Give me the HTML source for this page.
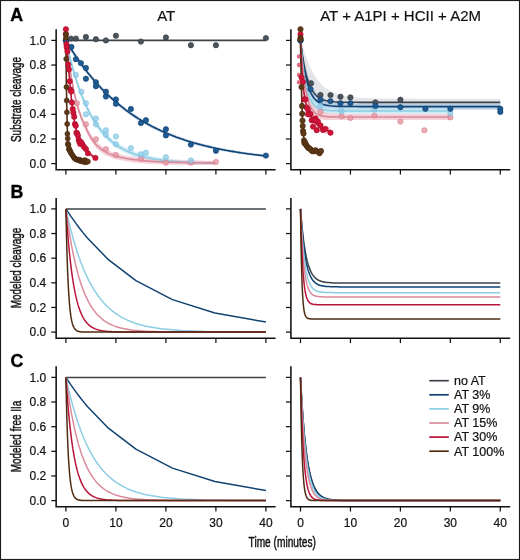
<!DOCTYPE html><html><head><meta charset="utf-8"><style>html,body{margin:0;padding:0;background:#fff;overflow:hidden}svg{display:block;-webkit-font-smoothing:antialiased;will-change:transform}</style></head><body><svg width="520" height="560" viewBox="0 0 520 560">
<style>.tk{font-family:"Liberation Sans",sans-serif;font-size:12px;fill:#111;stroke:#111;stroke-width:0.2}.ttl{font-family:"Liberation Sans",sans-serif;font-size:15px;fill:#111;stroke:#111;stroke-width:0.2}.pl{font-family:"Liberation Sans",sans-serif;font-size:17.8px;font-weight:bold;fill:#000;stroke:#000;stroke-width:0.35}.yl{font-family:"Liberation Sans",sans-serif;font-size:14px;fill:#111;stroke:#111;stroke-width:0.45}.lg{font-family:"Liberation Sans",sans-serif;font-size:12.5px;fill:#111;stroke:#111;stroke-width:0.2}</style>
<rect x="0" y="0" width="520" height="560" fill="#fff"/>
<path d="M56.15,29.3 L56.15,169.65 L275.6,169.65" fill="none" stroke="#111" stroke-width="1.55" stroke-linecap="butt" stroke-linejoin="miter"/>
<line x1="51.25" y1="163.60" x2="56.15" y2="163.60" stroke="#111" stroke-width="1.25"/>
<text x="46.2" y="167.70" text-anchor="end" class="tk">0.0</text>
<line x1="51.25" y1="138.96" x2="56.15" y2="138.96" stroke="#111" stroke-width="1.25"/>
<text x="46.2" y="143.06" text-anchor="end" class="tk">0.2</text>
<line x1="51.25" y1="114.32" x2="56.15" y2="114.32" stroke="#111" stroke-width="1.25"/>
<text x="46.2" y="118.42" text-anchor="end" class="tk">0.4</text>
<line x1="51.25" y1="89.68" x2="56.15" y2="89.68" stroke="#111" stroke-width="1.25"/>
<text x="46.2" y="93.78" text-anchor="end" class="tk">0.6</text>
<line x1="51.25" y1="65.04" x2="56.15" y2="65.04" stroke="#111" stroke-width="1.25"/>
<text x="46.2" y="69.14" text-anchor="end" class="tk">0.8</text>
<line x1="51.25" y1="40.40" x2="56.15" y2="40.40" stroke="#111" stroke-width="1.25"/>
<text x="46.2" y="44.50" text-anchor="end" class="tk">1.0</text>
<line x1="65.90" y1="169.65" x2="65.90" y2="174.55" stroke="#111" stroke-width="1.25"/>
<line x1="115.90" y1="169.65" x2="115.90" y2="174.55" stroke="#111" stroke-width="1.25"/>
<line x1="165.90" y1="169.65" x2="165.90" y2="174.55" stroke="#111" stroke-width="1.25"/>
<line x1="215.90" y1="169.65" x2="215.90" y2="174.55" stroke="#111" stroke-width="1.25"/>
<line x1="265.90" y1="169.65" x2="265.90" y2="174.55" stroke="#111" stroke-width="1.25"/>
<path d="M290.9,29.3 L290.9,169.65 L510.2,169.65" fill="none" stroke="#111" stroke-width="1.55" stroke-linecap="butt" stroke-linejoin="miter"/>
<line x1="286.0" y1="163.60" x2="290.9" y2="163.60" stroke="#111" stroke-width="1.25"/>
<line x1="286.0" y1="138.96" x2="290.9" y2="138.96" stroke="#111" stroke-width="1.25"/>
<line x1="286.0" y1="114.32" x2="290.9" y2="114.32" stroke="#111" stroke-width="1.25"/>
<line x1="286.0" y1="89.68" x2="290.9" y2="89.68" stroke="#111" stroke-width="1.25"/>
<line x1="286.0" y1="65.04" x2="290.9" y2="65.04" stroke="#111" stroke-width="1.25"/>
<line x1="286.0" y1="40.40" x2="290.9" y2="40.40" stroke="#111" stroke-width="1.25"/>
<line x1="300.50" y1="169.65" x2="300.50" y2="174.55" stroke="#111" stroke-width="1.25"/>
<line x1="350.45" y1="169.65" x2="350.45" y2="174.55" stroke="#111" stroke-width="1.25"/>
<line x1="400.40" y1="169.65" x2="400.40" y2="174.55" stroke="#111" stroke-width="1.25"/>
<line x1="450.35" y1="169.65" x2="450.35" y2="174.55" stroke="#111" stroke-width="1.25"/>
<line x1="500.30" y1="169.65" x2="500.30" y2="174.55" stroke="#111" stroke-width="1.25"/>
<path d="M56.15,198.0 L56.15,338.15 L275.6,338.15" fill="none" stroke="#111" stroke-width="1.55" stroke-linecap="butt" stroke-linejoin="miter"/>
<line x1="51.25" y1="332.10" x2="56.15" y2="332.10" stroke="#111" stroke-width="1.25"/>
<text x="46.2" y="336.20" text-anchor="end" class="tk">0.0</text>
<line x1="51.25" y1="307.46" x2="56.15" y2="307.46" stroke="#111" stroke-width="1.25"/>
<text x="46.2" y="311.56" text-anchor="end" class="tk">0.2</text>
<line x1="51.25" y1="282.82" x2="56.15" y2="282.82" stroke="#111" stroke-width="1.25"/>
<text x="46.2" y="286.92" text-anchor="end" class="tk">0.4</text>
<line x1="51.25" y1="258.18" x2="56.15" y2="258.18" stroke="#111" stroke-width="1.25"/>
<text x="46.2" y="262.28" text-anchor="end" class="tk">0.6</text>
<line x1="51.25" y1="233.54" x2="56.15" y2="233.54" stroke="#111" stroke-width="1.25"/>
<text x="46.2" y="237.64" text-anchor="end" class="tk">0.8</text>
<line x1="51.25" y1="208.90" x2="56.15" y2="208.90" stroke="#111" stroke-width="1.25"/>
<text x="46.2" y="213.00" text-anchor="end" class="tk">1.0</text>
<line x1="65.90" y1="338.15" x2="65.90" y2="343.04999999999995" stroke="#111" stroke-width="1.25"/>
<line x1="115.90" y1="338.15" x2="115.90" y2="343.04999999999995" stroke="#111" stroke-width="1.25"/>
<line x1="165.90" y1="338.15" x2="165.90" y2="343.04999999999995" stroke="#111" stroke-width="1.25"/>
<line x1="215.90" y1="338.15" x2="215.90" y2="343.04999999999995" stroke="#111" stroke-width="1.25"/>
<line x1="265.90" y1="338.15" x2="265.90" y2="343.04999999999995" stroke="#111" stroke-width="1.25"/>
<path d="M290.9,198.0 L290.9,338.15 L510.2,338.15" fill="none" stroke="#111" stroke-width="1.55" stroke-linecap="butt" stroke-linejoin="miter"/>
<line x1="286.0" y1="332.10" x2="290.9" y2="332.10" stroke="#111" stroke-width="1.25"/>
<line x1="286.0" y1="307.46" x2="290.9" y2="307.46" stroke="#111" stroke-width="1.25"/>
<line x1="286.0" y1="282.82" x2="290.9" y2="282.82" stroke="#111" stroke-width="1.25"/>
<line x1="286.0" y1="258.18" x2="290.9" y2="258.18" stroke="#111" stroke-width="1.25"/>
<line x1="286.0" y1="233.54" x2="290.9" y2="233.54" stroke="#111" stroke-width="1.25"/>
<line x1="286.0" y1="208.90" x2="290.9" y2="208.90" stroke="#111" stroke-width="1.25"/>
<line x1="300.50" y1="338.15" x2="300.50" y2="343.04999999999995" stroke="#111" stroke-width="1.25"/>
<line x1="350.45" y1="338.15" x2="350.45" y2="343.04999999999995" stroke="#111" stroke-width="1.25"/>
<line x1="400.40" y1="338.15" x2="400.40" y2="343.04999999999995" stroke="#111" stroke-width="1.25"/>
<line x1="450.35" y1="338.15" x2="450.35" y2="343.04999999999995" stroke="#111" stroke-width="1.25"/>
<line x1="500.30" y1="338.15" x2="500.30" y2="343.04999999999995" stroke="#111" stroke-width="1.25"/>
<path d="M56.15,366.15 L56.15,506.65 L275.6,506.65" fill="none" stroke="#111" stroke-width="1.55" stroke-linecap="butt" stroke-linejoin="miter"/>
<line x1="51.25" y1="500.60" x2="56.15" y2="500.60" stroke="#111" stroke-width="1.25"/>
<text x="46.2" y="504.70" text-anchor="end" class="tk">0.0</text>
<line x1="51.25" y1="475.96" x2="56.15" y2="475.96" stroke="#111" stroke-width="1.25"/>
<text x="46.2" y="480.06" text-anchor="end" class="tk">0.2</text>
<line x1="51.25" y1="451.32" x2="56.15" y2="451.32" stroke="#111" stroke-width="1.25"/>
<text x="46.2" y="455.42" text-anchor="end" class="tk">0.4</text>
<line x1="51.25" y1="426.68" x2="56.15" y2="426.68" stroke="#111" stroke-width="1.25"/>
<text x="46.2" y="430.78" text-anchor="end" class="tk">0.6</text>
<line x1="51.25" y1="402.04" x2="56.15" y2="402.04" stroke="#111" stroke-width="1.25"/>
<text x="46.2" y="406.14" text-anchor="end" class="tk">0.8</text>
<line x1="51.25" y1="377.40" x2="56.15" y2="377.40" stroke="#111" stroke-width="1.25"/>
<text x="46.2" y="381.50" text-anchor="end" class="tk">1.0</text>
<line x1="65.90" y1="506.65" x2="65.90" y2="511.54999999999995" stroke="#111" stroke-width="1.25"/>
<text x="65.90" y="526.6" text-anchor="middle" class="tk">0</text>
<line x1="115.90" y1="506.65" x2="115.90" y2="511.54999999999995" stroke="#111" stroke-width="1.25"/>
<text x="115.90" y="526.6" text-anchor="middle" class="tk">10</text>
<line x1="165.90" y1="506.65" x2="165.90" y2="511.54999999999995" stroke="#111" stroke-width="1.25"/>
<text x="165.90" y="526.6" text-anchor="middle" class="tk">20</text>
<line x1="215.90" y1="506.65" x2="215.90" y2="511.54999999999995" stroke="#111" stroke-width="1.25"/>
<text x="215.90" y="526.6" text-anchor="middle" class="tk">30</text>
<line x1="265.90" y1="506.65" x2="265.90" y2="511.54999999999995" stroke="#111" stroke-width="1.25"/>
<text x="265.90" y="526.6" text-anchor="middle" class="tk">40</text>
<path d="M290.9,366.15 L290.9,506.65 L510.2,506.65" fill="none" stroke="#111" stroke-width="1.55" stroke-linecap="butt" stroke-linejoin="miter"/>
<line x1="286.0" y1="500.60" x2="290.9" y2="500.60" stroke="#111" stroke-width="1.25"/>
<line x1="286.0" y1="475.96" x2="290.9" y2="475.96" stroke="#111" stroke-width="1.25"/>
<line x1="286.0" y1="451.32" x2="290.9" y2="451.32" stroke="#111" stroke-width="1.25"/>
<line x1="286.0" y1="426.68" x2="290.9" y2="426.68" stroke="#111" stroke-width="1.25"/>
<line x1="286.0" y1="402.04" x2="290.9" y2="402.04" stroke="#111" stroke-width="1.25"/>
<line x1="286.0" y1="377.40" x2="290.9" y2="377.40" stroke="#111" stroke-width="1.25"/>
<line x1="300.50" y1="506.65" x2="300.50" y2="511.54999999999995" stroke="#111" stroke-width="1.25"/>
<text x="300.50" y="526.6" text-anchor="middle" class="tk">0</text>
<line x1="350.45" y1="506.65" x2="350.45" y2="511.54999999999995" stroke="#111" stroke-width="1.25"/>
<text x="350.45" y="526.6" text-anchor="middle" class="tk">10</text>
<line x1="400.40" y1="506.65" x2="400.40" y2="511.54999999999995" stroke="#111" stroke-width="1.25"/>
<text x="400.40" y="526.6" text-anchor="middle" class="tk">20</text>
<line x1="450.35" y1="506.65" x2="450.35" y2="511.54999999999995" stroke="#111" stroke-width="1.25"/>
<text x="450.35" y="526.6" text-anchor="middle" class="tk">30</text>
<line x1="500.30" y1="506.65" x2="500.30" y2="511.54999999999995" stroke="#111" stroke-width="1.25"/>
<text x="500.30" y="526.6" text-anchor="middle" class="tk">40</text>
<path d="M65.9,37.7 L67.6,40.5 L69.2,43.3 L70.9,46.0 L72.6,48.7 L74.2,51.3 L75.9,53.8 L77.6,56.3 L79.2,58.7 L80.9,61.1 L82.6,63.4 L84.2,65.7 L85.9,67.9 L87.6,70.0 L89.2,72.2 L90.9,74.2 L92.6,76.2 L94.2,78.2 L95.9,80.1 L97.6,82.0 L99.2,83.8 L100.9,85.6 L102.6,87.4 L104.2,89.1 L105.9,90.8 L107.6,92.4 L109.2,94.0 L110.9,95.6 L112.6,97.1 L114.2,98.6 L115.9,100.0 L117.6,101.5 L119.2,102.9 L120.9,104.2 L122.6,105.5 L124.2,106.8 L125.9,108.1 L127.6,109.4 L129.2,110.6 L130.9,111.8 L132.6,112.9 L134.2,114.0 L135.9,115.1 L137.6,116.2 L139.2,117.3 L140.9,118.3 L142.6,119.3 L144.2,120.3 L145.9,121.3 L147.6,122.2 L149.2,123.1 L150.9,124.0 L152.6,124.9 L154.2,125.8 L155.9,126.6 L157.6,127.4 L159.2,128.2 L160.9,129.0 L162.6,129.8 L164.2,130.5 L165.9,131.2 L167.6,131.9 L169.2,132.6 L170.9,133.3 L172.6,134.0 L174.2,134.6 L175.9,135.3 L177.6,135.9 L179.2,136.5 L180.9,137.1 L182.6,137.7 L184.2,138.2 L185.9,138.8 L187.6,139.3 L189.2,139.9 L190.9,140.4 L192.6,140.9 L194.2,141.4 L195.9,141.8 L197.6,142.3 L199.2,142.8 L200.9,143.2 L202.6,143.7 L204.2,144.1 L205.9,144.5 L207.6,144.9 L209.2,145.3 L210.9,145.7 L212.6,146.1 L214.2,146.5 L215.9,146.8 L217.6,147.2 L219.2,147.5 L220.9,147.9 L222.6,148.2 L224.2,148.5 L225.9,148.9 L227.6,149.2 L229.2,149.5 L230.9,149.8 L232.6,150.1 L234.2,150.3 L235.9,150.6 L237.6,150.9 L239.2,151.2 L240.9,151.4 L242.6,151.7 L244.2,151.9 L245.9,152.2 L247.6,152.4 L249.2,152.6 L250.9,152.8 L252.6,153.1 L254.2,153.3 L255.9,153.5 L257.6,153.7 L259.2,153.9 L260.9,154.1 L262.6,154.3 L264.2,154.5 L265.9,154.7 L265.9,157.3 L264.2,157.1 L262.6,156.9 L260.9,156.7 L259.2,156.5 L257.6,156.3 L255.9,156.1 L254.2,155.9 L252.6,155.7 L250.9,155.5 L249.2,155.3 L247.6,155.1 L245.9,154.9 L244.2,154.6 L242.6,154.4 L240.9,154.1 L239.2,153.9 L237.6,153.6 L235.9,153.4 L234.2,153.1 L232.6,152.8 L230.9,152.6 L229.2,152.3 L227.6,152.0 L225.9,151.7 L224.2,151.4 L222.6,151.1 L220.9,150.7 L219.2,150.4 L217.6,150.1 L215.9,149.7 L214.2,149.4 L212.6,149.0 L210.9,148.6 L209.2,148.3 L207.6,147.9 L205.9,147.5 L204.2,147.1 L202.6,146.7 L200.9,146.2 L199.2,145.8 L197.6,145.4 L195.9,144.9 L194.2,144.4 L192.6,144.0 L190.9,143.5 L189.2,143.0 L187.6,142.5 L185.9,141.9 L184.2,141.4 L182.6,140.9 L180.9,140.3 L179.2,139.7 L177.6,139.1 L175.9,138.5 L174.2,137.9 L172.6,137.3 L170.9,136.6 L169.2,136.0 L167.6,135.3 L165.9,134.6 L164.2,133.9 L162.6,133.2 L160.9,132.4 L159.2,131.7 L157.6,130.9 L155.9,130.1 L154.2,129.3 L152.6,128.4 L150.9,127.6 L149.2,126.7 L147.6,125.8 L145.9,124.9 L144.2,124.0 L142.6,123.0 L140.9,122.0 L139.2,121.0 L137.6,120.0 L135.9,118.9 L134.2,117.9 L132.6,116.7 L130.9,115.6 L129.2,114.5 L127.6,113.3 L125.9,112.1 L124.2,110.8 L122.6,109.6 L120.9,108.3 L119.2,106.9 L117.6,105.6 L115.9,104.2 L114.2,102.8 L112.6,101.3 L110.9,99.8 L109.2,98.3 L107.6,96.7 L105.9,95.1 L104.2,93.5 L102.6,91.8 L100.9,90.1 L99.2,88.3 L97.6,86.5 L95.9,84.7 L94.2,82.8 L92.6,80.9 L90.9,78.9 L89.2,76.9 L87.6,74.8 L85.9,72.7 L84.2,70.6 L82.6,68.3 L80.9,66.1 L79.2,63.7 L77.6,61.4 L75.9,58.9 L74.2,56.5 L72.6,53.9 L70.9,51.3 L69.2,48.6 L67.6,45.9 L65.9,43.1Z" fill="#a9c6e3" fill-opacity="0.75" stroke="none"/>
<path d="M65.9,36.7 L67.2,42.4 L68.4,47.8 L69.7,52.9 L70.9,57.8 L72.2,62.5 L73.4,67.0 L74.7,71.3 L75.9,75.4 L77.2,79.3 L78.4,83.0 L79.7,86.5 L80.9,89.9 L82.2,93.1 L83.4,96.2 L84.7,99.2 L85.9,102.0 L87.2,104.7 L88.4,107.2 L89.7,109.7 L90.9,112.0 L92.2,114.3 L93.4,116.4 L94.7,118.4 L95.9,120.4 L97.2,122.2 L98.4,124.0 L99.7,125.7 L100.9,127.3 L102.2,128.8 L103.4,130.3 L104.7,131.7 L105.9,133.0 L107.2,134.3 L108.4,135.5 L109.7,136.7 L110.9,137.8 L112.2,138.9 L113.4,139.9 L114.7,140.9 L115.9,141.8 L117.2,142.7 L118.4,143.5 L119.7,144.3 L120.9,145.1 L122.2,145.8 L123.4,146.5 L124.7,147.2 L125.9,147.8 L127.2,148.5 L128.4,149.0 L129.7,149.6 L130.9,150.1 L132.2,150.6 L133.4,151.1 L134.7,151.6 L135.9,152.0 L137.2,152.5 L138.4,152.9 L139.7,153.2 L140.9,153.6 L142.2,154.0 L143.4,154.3 L144.7,154.6 L145.9,154.9 L147.2,155.2 L148.4,155.5 L149.7,155.8 L150.9,156.0 L152.2,156.3 L153.4,156.5 L154.7,156.8 L155.9,157.0 L157.2,157.2 L158.4,157.4 L159.7,157.6 L160.9,157.7 L162.2,157.9 L163.4,158.1 L164.7,158.2 L165.9,158.4 L167.2,158.5 L168.4,158.7 L169.7,158.8 L170.9,158.9 L172.2,159.0 L173.4,159.2 L174.7,159.3 L175.9,159.4 L177.2,159.5 L178.4,159.6 L179.7,159.7 L180.9,159.7 L182.2,159.8 L183.4,159.9 L184.7,160.0 L185.9,160.1 L187.2,160.1 L188.4,160.2 L189.7,160.3 L190.9,160.3 L192.2,160.4 L193.4,160.5 L194.7,160.5 L195.9,160.6 L197.2,160.6 L198.4,160.7 L199.7,160.7 L200.9,160.8 L202.2,160.8 L203.4,160.8 L204.7,160.9 L205.9,160.9 L207.2,161.0 L208.4,161.0 L209.7,161.0 L210.9,161.1 L212.2,161.1 L213.4,161.1 L214.7,161.1 L215.9,161.2 L215.9,165.1 L214.7,165.1 L213.4,165.1 L212.2,165.1 L210.9,165.1 L209.7,165.0 L208.4,165.0 L207.2,165.0 L205.9,165.0 L204.7,164.9 L203.4,164.9 L202.2,164.9 L200.9,164.9 L199.7,164.8 L198.4,164.8 L197.2,164.8 L195.9,164.7 L194.7,164.7 L193.4,164.7 L192.2,164.6 L190.9,164.6 L189.7,164.5 L188.4,164.5 L187.2,164.4 L185.9,164.4 L184.7,164.3 L183.4,164.2 L182.2,164.2 L180.9,164.1 L179.7,164.0 L178.4,164.0 L177.2,163.9 L175.9,163.8 L174.7,163.7 L173.4,163.6 L172.2,163.5 L170.9,163.4 L169.7,163.3 L168.4,163.2 L167.2,163.1 L165.9,163.0 L164.7,162.8 L163.4,162.7 L162.2,162.6 L160.9,162.4 L159.7,162.2 L158.4,162.1 L157.2,161.9 L155.9,161.7 L154.7,161.5 L153.4,161.3 L152.2,161.1 L150.9,160.9 L149.7,160.7 L148.4,160.4 L147.2,160.2 L145.9,159.9 L144.7,159.6 L143.4,159.3 L142.2,159.0 L140.9,158.7 L139.7,158.3 L138.4,158.0 L137.2,157.6 L135.9,157.2 L134.7,156.8 L133.4,156.3 L132.2,155.9 L130.9,155.4 L129.7,154.9 L128.4,154.4 L127.2,153.8 L125.9,153.2 L124.7,152.6 L123.4,152.0 L122.2,151.3 L120.9,150.6 L119.7,149.9 L118.4,149.1 L117.2,148.3 L115.9,147.4 L114.7,146.5 L113.4,145.6 L112.2,144.6 L110.9,143.6 L109.7,142.5 L108.4,141.4 L107.2,140.2 L105.9,139.0 L104.7,137.7 L103.4,136.3 L102.2,134.9 L100.9,133.4 L99.7,131.8 L98.4,130.1 L97.2,128.4 L95.9,126.6 L94.7,124.7 L93.4,122.7 L92.2,120.6 L90.9,118.4 L89.7,116.1 L88.4,113.7 L87.2,111.2 L85.9,108.6 L84.7,105.8 L83.4,102.9 L82.2,99.9 L80.9,96.7 L79.7,93.3 L78.4,89.8 L77.2,86.2 L75.9,82.3 L74.7,78.3 L73.4,74.1 L72.2,69.6 L70.9,65.0 L69.7,60.1 L68.4,55.0 L67.2,49.7 L65.9,44.1Z" fill="#bfe4f3" fill-opacity="0.75" stroke="none"/>
<path d="M65.9,36.5 L67.2,46.2 L68.4,55.2 L69.7,63.4 L70.9,71.1 L72.2,78.3 L73.4,84.9 L74.7,91.0 L75.9,96.6 L77.2,101.6 L78.4,105.6 L79.7,109.3 L80.9,112.7 L82.2,115.9 L83.4,118.9 L84.7,121.7 L85.9,124.4 L87.2,127.1 L88.4,129.6 L89.7,131.9 L90.9,134.1 L92.2,136.1 L93.4,137.9 L94.7,139.6 L95.9,141.2 L97.2,142.4 L98.4,143.6 L99.7,144.6 L100.9,145.6 L102.2,146.6 L103.4,147.5 L104.7,148.3 L105.9,149.1 L107.2,149.7 L108.4,150.3 L109.7,150.8 L110.9,151.4 L112.2,151.9 L113.4,152.3 L114.7,152.8 L115.9,153.2 L117.2,153.5 L118.4,153.8 L119.7,154.2 L120.9,154.4 L122.2,154.7 L123.4,155.0 L124.7,155.3 L125.9,155.5 L127.2,155.7 L128.4,156.0 L129.7,156.2 L130.9,156.4 L132.2,156.6 L133.4,156.8 L134.7,157.0 L135.9,157.2 L137.2,157.3 L138.4,157.5 L139.7,157.6 L140.9,157.7 L142.2,157.9 L143.4,158.0 L144.7,158.1 L145.9,158.2 L147.2,158.4 L148.4,158.5 L149.7,158.6 L150.9,158.7 L152.2,158.8 L153.4,158.9 L154.7,159.0 L155.9,159.1 L157.2,159.1 L158.4,159.2 L159.7,159.3 L160.9,159.4 L162.2,159.5 L163.4,159.5 L164.7,159.6 L165.9,159.7 L167.2,159.7 L168.4,159.8 L169.7,159.8 L170.9,159.8 L172.2,159.9 L173.4,159.9 L174.7,160.0 L175.9,160.0 L177.2,160.0 L178.4,160.1 L179.7,160.1 L180.9,160.1 L182.2,160.2 L183.4,160.2 L184.7,160.2 L185.9,160.3 L187.2,160.3 L188.4,160.3 L189.7,160.4 L190.9,160.4 L192.2,160.4 L193.4,160.4 L194.7,160.5 L195.9,160.5 L197.2,160.5 L198.4,160.6 L199.7,160.6 L200.9,160.6 L202.2,160.6 L203.4,160.7 L204.7,160.7 L205.9,160.7 L207.2,160.7 L208.4,160.8 L209.7,160.8 L210.9,160.8 L212.2,160.8 L213.4,160.8 L214.7,160.9 L215.9,160.9 L215.9,165.1 L214.7,165.1 L213.4,165.1 L212.2,165.1 L210.9,165.1 L209.7,165.1 L208.4,165.0 L207.2,165.0 L205.9,165.0 L204.7,165.0 L203.4,165.0 L202.2,165.0 L200.9,165.0 L199.7,165.0 L198.4,165.0 L197.2,165.0 L195.9,164.9 L194.7,164.9 L193.4,164.9 L192.2,164.9 L190.9,164.9 L189.7,164.9 L188.4,164.9 L187.2,164.9 L185.9,164.8 L184.7,164.8 L183.4,164.8 L182.2,164.8 L180.9,164.8 L179.7,164.8 L178.4,164.8 L177.2,164.7 L175.9,164.7 L174.7,164.7 L173.4,164.7 L172.2,164.7 L170.9,164.7 L169.7,164.6 L168.4,164.6 L167.2,164.6 L165.9,164.6 L164.7,164.5 L163.4,164.5 L162.2,164.4 L160.9,164.4 L159.7,164.3 L158.4,164.3 L157.2,164.2 L155.9,164.1 L154.7,164.1 L153.4,164.0 L152.2,163.9 L150.9,163.9 L149.7,163.8 L148.4,163.7 L147.2,163.6 L145.9,163.5 L144.7,163.4 L143.4,163.3 L142.2,163.2 L140.9,163.1 L139.7,163.0 L138.4,162.9 L137.2,162.8 L135.9,162.7 L134.7,162.5 L133.4,162.4 L132.2,162.2 L130.9,162.0 L129.7,161.8 L128.4,161.6 L127.2,161.5 L125.9,161.2 L124.7,161.0 L123.4,160.8 L122.2,160.6 L120.9,160.3 L119.7,160.1 L118.4,159.8 L117.2,159.5 L115.9,159.2 L114.7,158.8 L113.4,158.4 L112.2,158.0 L110.9,157.5 L109.7,157.0 L108.4,156.5 L107.2,156.0 L105.9,155.4 L104.7,154.7 L103.4,153.9 L102.2,153.0 L100.9,152.1 L99.7,151.2 L98.4,150.1 L97.2,149.0 L95.9,147.8 L94.7,146.3 L93.4,144.6 L92.2,142.8 L90.9,140.9 L89.7,138.8 L88.4,136.5 L87.2,134.1 L85.9,131.4 L84.7,128.8 L83.4,126.1 L82.2,123.1 L80.9,119.9 L79.7,116.5 L78.4,112.9 L77.2,109.0 L75.9,104.0 L74.7,98.5 L73.4,92.5 L72.2,85.9 L70.9,78.7 L69.7,71.2 L68.4,62.9 L67.2,54.0 L65.9,44.3Z" fill="#f3c2cb" fill-opacity="0.75" stroke="none"/>
<path d="M65.9,37.9 L66.2,40.4 L66.4,42.8 L66.7,45.2 L66.9,47.6 L67.2,49.9 L67.4,52.1 L67.7,54.3 L67.9,56.4 L68.2,59.9 L68.4,63.2 L68.7,66.4 L68.9,69.5 L69.2,72.5 L69.4,75.4 L69.7,78.2 L69.9,81.0 L70.2,83.7 L70.4,86.4 L70.7,88.9 L70.9,91.4 L71.2,93.8 L71.4,96.1 L71.7,98.3 L71.9,100.5 L72.2,102.6 L72.4,104.6 L72.7,106.6 L72.9,108.5 L73.2,110.4 L73.4,112.2 L73.7,113.9 L73.9,115.6 L74.2,117.2 L74.4,118.8 L74.7,120.3 L74.9,121.6 L75.2,122.7 L75.4,123.8 L75.7,124.9 L75.9,126.0 L76.2,127.0 L76.4,128.0 L76.7,128.8 L76.9,129.5 L77.2,130.2 L77.4,130.9 L77.7,131.6 L77.9,132.2 L78.2,132.9 L78.4,133.5 L78.7,134.2 L78.9,134.8 L79.2,135.4 L79.4,135.9 L79.7,136.5 L79.9,137.1 L80.2,137.6 L80.4,138.1 L80.7,138.7 L80.9,139.2 L81.2,139.6 L81.4,140.1 L81.7,140.5 L81.9,141.0 L82.2,141.4 L82.4,141.8 L82.7,142.2 L82.9,142.6 L83.2,143.0 L83.4,143.4 L83.7,143.8 L83.9,144.2 L84.2,144.5 L84.4,144.9 L84.7,145.2 L84.9,145.6 L85.2,145.9 L85.4,146.2 L85.7,146.6 L85.9,146.9 L86.2,147.2 L86.4,147.5 L86.7,147.9 L86.9,148.2 L87.2,148.5 L87.4,148.9 L87.7,149.2 L87.9,149.5 L88.2,149.8 L88.4,150.1 L88.7,150.3 L88.9,150.6 L89.2,150.9 L89.4,151.1 L89.7,151.4 L89.9,151.7 L90.2,151.9 L90.4,152.1 L90.7,152.4 L90.9,152.6 L91.2,152.8 L91.4,153.0 L91.7,153.2 L91.9,153.4 L92.2,153.6 L92.4,153.8 L92.7,154.0 L92.9,154.1 L93.2,154.3 L93.4,154.5 L93.7,154.6 L93.9,154.8 L94.2,155.0 L94.4,155.1 L94.7,155.3 L94.9,155.4 L95.2,155.6 L95.4,155.7 L95.7,155.8 L95.9,156.0 L95.9,160.1 L95.7,160.0 L95.4,159.9 L95.2,159.7 L94.9,159.6 L94.7,159.5 L94.4,159.3 L94.2,159.2 L93.9,159.0 L93.7,158.9 L93.4,158.7 L93.2,158.5 L92.9,158.4 L92.7,158.2 L92.4,158.0 L92.2,157.8 L91.9,157.7 L91.7,157.5 L91.4,157.3 L91.2,157.1 L90.9,156.9 L90.7,156.6 L90.4,156.4 L90.2,156.2 L89.9,155.9 L89.7,155.7 L89.4,155.5 L89.2,155.2 L88.9,154.9 L88.7,154.7 L88.4,154.4 L88.2,154.1 L87.9,153.8 L87.7,153.5 L87.4,153.2 L87.2,152.9 L86.9,152.6 L86.7,152.2 L86.4,151.9 L86.2,151.6 L85.9,151.3 L85.7,151.0 L85.4,150.6 L85.2,150.3 L84.9,150.0 L84.7,149.7 L84.4,149.3 L84.2,149.0 L83.9,148.6 L83.7,148.2 L83.4,147.9 L83.2,147.5 L82.9,147.1 L82.7,146.7 L82.4,146.3 L82.2,145.9 L81.9,145.5 L81.7,145.0 L81.4,144.6 L81.2,144.1 L80.9,143.7 L80.7,143.2 L80.4,142.7 L80.2,142.1 L79.9,141.6 L79.7,141.1 L79.4,140.5 L79.2,139.9 L78.9,139.3 L78.7,138.7 L78.4,138.1 L78.2,137.5 L77.9,136.8 L77.7,136.2 L77.4,135.5 L77.2,134.8 L76.9,134.1 L76.7,133.4 L76.4,132.7 L76.2,131.7 L75.9,130.6 L75.7,129.6 L75.4,128.5 L75.2,127.4 L74.9,126.2 L74.7,125.0 L74.4,123.5 L74.2,121.9 L73.9,120.3 L73.7,118.6 L73.4,116.9 L73.2,115.1 L72.9,113.2 L72.7,111.3 L72.4,109.3 L72.2,107.3 L71.9,105.2 L71.7,103.1 L71.4,100.9 L71.2,98.6 L70.9,96.2 L70.7,93.7 L70.4,91.2 L70.2,88.5 L69.9,85.8 L69.7,83.1 L69.4,80.3 L69.2,77.4 L68.9,74.4 L68.7,71.3 L68.4,68.1 L68.2,64.7 L67.9,61.3 L67.7,59.2 L67.4,57.0 L67.2,54.7 L66.9,52.5 L66.7,50.1 L66.4,47.8 L66.2,45.3 L65.9,42.9Z" fill="#f0a0b0" fill-opacity="0.5" stroke="none"/>
<path d="M65.9,38.6 L66.1,58.4 L66.3,75.0 L66.5,88.3 L66.6,98.1 L66.8,106.5 L67.0,115.1 L67.2,123.2 L67.4,129.9 L67.6,134.3 L67.7,138.0 L67.9,140.9 L68.1,142.1 L68.3,143.2 L68.5,144.2 L68.7,145.2 L68.8,146.1 L69.0,146.7 L69.2,147.2 L69.4,147.7 L69.6,148.1 L69.8,148.6 L69.9,149.0 L70.1,149.4 L70.3,149.8 L70.5,150.2 L70.7,150.6 L70.9,151.0 L71.0,151.4 L71.2,151.7 L71.4,152.1 L71.6,152.4 L71.8,152.8 L72.0,153.1 L72.1,153.4 L72.3,153.7 L72.5,154.0 L72.7,154.2 L72.9,154.5 L73.1,154.7 L73.2,155.0 L73.4,155.2 L73.6,155.4 L73.8,155.6 L74.0,155.8 L74.2,156.0 L74.3,156.2 L74.5,156.4 L74.7,156.5 L74.9,156.6 L75.1,156.7 L75.2,156.8 L75.4,156.9 L75.6,157.0 L75.8,157.0 L76.0,157.1 L76.2,157.2 L76.4,157.3 L76.5,157.4 L76.7,157.5 L76.9,157.6 L77.1,157.6 L77.3,157.7 L77.5,157.8 L77.6,157.9 L77.8,158.0 L78.0,158.0 L78.2,158.1 L78.4,158.2 L78.6,158.2 L78.7,158.3 L78.9,158.3 L79.1,158.3 L79.3,158.4 L79.5,158.4 L79.7,158.4 L79.8,158.5 L80.0,158.5 L80.2,158.5 L80.4,158.6 L80.6,158.6 L80.8,158.6 L80.9,158.7 L81.1,158.7 L81.3,158.7 L81.5,158.8 L81.7,158.8 L81.9,158.8 L82.0,158.9 L82.2,158.9 L82.4,158.9 L82.6,159.0 L82.8,159.0 L83.0,159.0 L83.1,159.1 L83.3,159.1 L83.5,159.1 L83.7,159.2 L83.9,159.2 L84.1,159.2 L84.2,159.2 L84.4,159.3 L84.6,159.3 L84.8,159.3 L85.0,159.3 L85.2,159.4 L85.3,159.4 L85.5,159.4 L85.7,159.5 L85.9,159.5 L86.1,159.5 L86.2,159.5 L86.4,159.6 L86.6,159.6 L86.8,159.6 L87.0,159.6 L87.2,159.7 L87.4,159.7 L87.5,159.7 L87.7,159.7 L87.9,159.8 L87.9,163.0 L87.7,163.0 L87.5,163.0 L87.4,162.9 L87.2,162.9 L87.0,162.9 L86.8,162.9 L86.6,162.9 L86.4,162.8 L86.2,162.8 L86.1,162.8 L85.9,162.8 L85.7,162.8 L85.5,162.7 L85.3,162.7 L85.2,162.7 L85.0,162.7 L84.8,162.6 L84.6,162.6 L84.4,162.6 L84.2,162.6 L84.1,162.5 L83.9,162.5 L83.7,162.5 L83.5,162.5 L83.3,162.4 L83.1,162.4 L83.0,162.4 L82.8,162.4 L82.6,162.3 L82.4,162.3 L82.2,162.3 L82.0,162.2 L81.9,162.2 L81.7,162.2 L81.5,162.2 L81.3,162.1 L81.1,162.1 L80.9,162.1 L80.8,162.0 L80.6,162.0 L80.4,162.0 L80.2,161.9 L80.0,161.9 L79.8,161.9 L79.7,161.8 L79.5,161.8 L79.3,161.8 L79.1,161.8 L78.9,161.7 L78.7,161.7 L78.6,161.6 L78.4,161.6 L78.2,161.5 L78.0,161.5 L77.8,161.4 L77.6,161.3 L77.5,161.3 L77.3,161.2 L77.1,161.1 L76.9,161.0 L76.7,161.0 L76.5,160.9 L76.4,160.8 L76.2,160.7 L76.0,160.6 L75.8,160.5 L75.6,160.4 L75.4,160.4 L75.2,160.3 L75.1,160.2 L74.9,160.1 L74.7,160.0 L74.5,159.9 L74.3,159.7 L74.2,159.6 L74.0,159.4 L73.8,159.2 L73.6,158.9 L73.4,158.7 L73.2,158.5 L73.1,158.3 L72.9,158.0 L72.7,157.8 L72.5,157.5 L72.3,157.2 L72.1,157.0 L72.0,156.6 L71.8,156.3 L71.6,156.0 L71.4,155.7 L71.2,155.3 L71.0,155.0 L70.9,154.6 L70.7,154.2 L70.5,153.8 L70.3,153.4 L70.1,153.0 L69.9,152.6 L69.8,152.2 L69.6,151.8 L69.4,151.3 L69.2,150.8 L69.0,150.3 L68.8,149.7 L68.7,148.8 L68.5,147.8 L68.3,146.8 L68.1,145.7 L67.9,144.6 L67.7,141.6 L67.6,138.0 L67.4,133.5 L67.2,126.9 L67.0,118.8 L66.8,110.2 L66.6,101.8 L66.5,92.0 L66.3,78.7 L66.1,62.1 L65.9,42.2Z" fill="#c0a890" fill-opacity="0.4" stroke="none"/>
<path d="M65.9,40.4 L265.9,40.4" fill="none" stroke="#3c4349" stroke-width="1.6" stroke-linejoin="round" stroke-linecap="butt"/>
<path d="M65.9,40.4 L67.2,42.5 L68.4,44.6 L69.7,46.7 L70.9,48.7 L72.2,50.7 L73.4,52.6 L74.7,54.5 L75.9,56.4 L77.2,58.2 L78.4,60.0 L79.7,61.8 L80.9,63.6 L82.2,65.3 L83.4,67.0 L84.7,68.7 L85.9,70.3 L87.2,71.9 L88.4,73.5 L89.7,75.0 L90.9,76.6 L92.2,78.1 L93.4,79.5 L94.7,81.0 L95.9,82.4 L97.2,83.8 L98.4,85.2 L99.7,86.5 L100.9,87.9 L102.2,89.2 L103.4,90.4 L104.7,91.7 L105.9,92.9 L107.2,94.2 L108.4,95.4 L109.7,96.5 L110.9,97.7 L112.2,98.8 L113.4,99.9 L114.7,101.0 L115.9,102.1 L117.2,103.2 L118.4,104.2 L119.7,105.2 L120.9,106.2 L122.2,107.2 L123.4,108.2 L124.7,109.2 L125.9,110.1 L127.2,111.0 L128.4,111.9 L129.7,112.8 L130.9,113.7 L132.2,114.5 L133.4,115.4 L134.7,116.2 L135.9,117.0 L137.2,117.8 L138.4,118.6 L139.7,119.4 L140.9,120.2 L142.2,120.9 L143.4,121.6 L144.7,122.4 L145.9,123.1 L147.2,123.8 L148.4,124.5 L149.7,125.1 L150.9,125.8 L152.2,126.5 L153.4,127.1 L154.7,127.7 L155.9,128.3 L157.2,128.9 L158.4,129.5 L159.7,130.1 L160.9,130.7 L162.2,131.3 L163.4,131.8 L164.7,132.4 L165.9,132.9 L167.2,133.4 L168.4,134.0 L169.7,134.5 L170.9,135.0 L172.2,135.5 L173.4,136.0 L174.7,136.4 L175.9,136.9 L177.2,137.4 L178.4,137.8 L179.7,138.3 L180.9,138.7 L182.2,139.1 L183.4,139.5 L184.7,140.0 L185.9,140.4 L187.2,140.8 L188.4,141.2 L189.7,141.5 L190.9,141.9 L192.2,142.3 L193.4,142.7 L194.7,143.0 L195.9,143.4 L197.2,143.7 L198.4,144.1 L199.7,144.4 L200.9,144.7 L202.2,145.1 L203.4,145.4 L204.7,145.7 L205.9,146.0 L207.2,146.3 L208.4,146.6 L209.7,146.9 L210.9,147.2 L212.2,147.5 L213.4,147.7 L214.7,148.0 L215.9,148.3 L217.2,148.5 L218.4,148.8 L219.7,149.1 L220.9,149.3 L222.2,149.6 L223.4,149.8 L224.7,150.0 L225.9,150.3 L227.2,150.5 L228.4,150.7 L229.7,150.9 L230.9,151.2 L232.2,151.4 L233.4,151.6 L234.7,151.8 L235.9,152.0 L237.2,152.2 L238.4,152.4 L239.7,152.6 L240.9,152.8 L242.2,153.0 L243.4,153.2 L244.7,153.3 L245.9,153.5 L247.2,153.7 L248.4,153.9 L249.7,154.0 L250.9,154.2 L252.2,154.3 L253.4,154.5 L254.7,154.7 L255.9,154.8 L257.1,155.0 L258.4,155.1 L259.6,155.3 L260.9,155.4 L262.1,155.5 L263.4,155.7 L264.6,155.8 L265.9,156.0" fill="none" stroke="#0f4272" stroke-width="1.6" stroke-linejoin="round" stroke-linecap="butt"/>
<path d="M65.9,40.4 L66.8,44.6 L67.8,48.7 L68.7,52.7 L69.7,56.5 L70.6,60.2 L71.5,63.8 L72.5,67.2 L73.4,70.5 L74.3,73.7 L75.3,76.8 L76.2,79.8 L77.2,82.7 L78.1,85.5 L79.0,88.2 L80.0,90.8 L80.9,93.3 L81.8,95.7 L82.8,98.1 L83.7,100.3 L84.7,102.5 L85.6,104.6 L86.5,106.6 L87.5,108.6 L88.4,110.5 L89.3,112.3 L90.3,114.1 L91.2,115.8 L92.2,117.4 L93.1,119.0 L94.0,120.6 L95.0,122.1 L95.9,123.5 L96.8,124.9 L97.8,126.2 L98.7,127.5 L99.7,128.7 L100.6,129.9 L101.5,131.1 L102.5,132.2 L103.4,133.3 L104.3,134.3 L105.3,135.3 L106.2,136.3 L107.2,137.3 L108.1,138.2 L109.0,139.0 L110.0,139.9 L110.9,140.7 L111.8,141.5 L112.8,142.3 L113.7,143.0 L114.7,143.7 L115.6,144.4 L116.5,145.1 L117.5,145.7 L118.4,146.3 L119.3,146.9 L120.3,147.5 L121.2,148.0 L122.2,148.6 L123.1,149.1 L124.0,149.6 L125.0,150.1 L125.9,150.5 L126.8,151.0 L127.8,151.4 L128.7,151.8 L129.7,152.2 L130.6,152.6 L131.5,153.0 L132.5,153.4 L133.4,153.7 L134.3,154.1 L135.3,154.4 L136.2,154.7 L137.2,155.0 L138.1,155.3 L139.0,155.6 L140.0,155.9 L140.9,156.1 L141.8,156.4 L142.8,156.7 L143.7,156.9 L144.7,157.1 L145.6,157.3 L146.5,157.6 L147.5,157.8 L148.4,158.0 L149.3,158.2 L150.3,158.4 L151.2,158.5 L152.2,158.7 L153.1,158.9 L154.0,159.0 L155.0,159.2 L155.9,159.3 L156.8,159.5 L157.8,159.6 L158.7,159.8 L159.7,159.9 L160.6,160.0 L161.5,160.2 L162.5,160.3 L163.4,160.4 L164.3,160.5 L165.3,160.6 L166.2,160.7 L167.2,160.8 L168.1,160.9 L169.0,161.0 L170.0,161.1 L170.9,161.2 L171.8,161.3 L172.8,161.3 L173.7,161.4 L174.7,161.5 L175.6,161.6 L176.5,161.6 L177.5,161.7 L178.4,161.8 L179.3,161.8 L180.3,161.9 L181.2,161.9 L182.2,162.0 L183.1,162.1 L184.0,162.1 L185.0,162.2 L185.9,162.2 L186.8,162.3 L187.8,162.3 L188.7,162.4 L189.7,162.4 L190.6,162.4 L191.5,162.5 L192.5,162.5 L193.4,162.6 L194.3,162.6 L195.3,162.6 L196.2,162.7 L197.2,162.7 L198.1,162.7 L199.0,162.8 L200.0,162.8 L200.9,162.8 L201.8,162.8 L202.8,162.9 L203.7,162.9 L204.7,162.9 L205.6,162.9 L206.5,163.0 L207.5,163.0 L208.4,163.0 L209.3,163.0 L210.3,163.0 L211.2,163.1 L212.2,163.1 L213.1,163.1 L214.0,163.1 L215.0,163.1 L215.9,163.1" fill="none" stroke="#8ccde3" stroke-width="1.6" stroke-linejoin="round" stroke-linecap="butt"/>
<path d="M65.9,40.4 L66.8,47.8 L67.8,54.7 L68.7,61.2 L69.7,67.3 L70.6,73.1 L71.5,78.6 L72.5,83.8 L73.4,88.7 L74.3,93.3 L75.3,97.6 L76.2,101.7 L77.2,105.3 L78.1,108.3 L79.0,111.1 L80.0,113.8 L80.9,116.3 L81.8,118.7 L82.8,121.0 L83.7,123.2 L84.7,125.3 L85.6,127.2 L86.5,129.2 L87.5,131.2 L88.4,133.1 L89.3,134.8 L90.3,136.4 L91.2,138.0 L92.2,139.4 L93.1,140.8 L94.0,142.1 L95.0,143.3 L95.9,144.5 L96.8,145.4 L97.8,146.3 L98.7,147.1 L99.7,147.9 L100.6,148.6 L101.5,149.4 L102.5,150.0 L103.4,150.7 L104.3,151.3 L105.3,151.9 L106.2,152.4 L107.2,152.9 L108.1,153.3 L109.0,153.7 L110.0,154.1 L110.9,154.4 L111.8,154.8 L112.8,155.2 L113.7,155.5 L114.7,155.8 L115.6,156.1 L116.5,156.4 L117.5,156.6 L118.4,156.8 L119.3,157.0 L120.3,157.2 L121.2,157.5 L122.2,157.6 L123.1,157.8 L124.0,158.0 L125.0,158.2 L125.9,158.4 L126.8,158.5 L127.8,158.7 L128.7,158.9 L129.7,159.0 L130.6,159.2 L131.5,159.3 L132.5,159.4 L133.4,159.6 L134.3,159.7 L135.3,159.8 L136.2,159.9 L137.2,160.0 L138.1,160.1 L139.0,160.2 L140.0,160.3 L140.9,160.4 L141.8,160.5 L142.8,160.6 L143.7,160.7 L144.7,160.8 L145.6,160.9 L146.5,160.9 L147.5,161.0 L148.4,161.1 L149.3,161.1 L150.3,161.2 L151.2,161.3 L152.2,161.4 L153.1,161.4 L154.0,161.5 L155.0,161.5 L155.9,161.6 L156.8,161.7 L157.8,161.7 L158.7,161.8 L159.7,161.8 L160.6,161.9 L161.5,161.9 L162.5,162.0 L163.4,162.0 L164.3,162.0 L165.3,162.1 L166.2,162.1 L167.2,162.2 L168.1,162.2 L169.0,162.2 L170.0,162.2 L170.9,162.2 L171.8,162.3 L172.8,162.3 L173.7,162.3 L174.7,162.3 L175.6,162.4 L176.5,162.4 L177.5,162.4 L178.4,162.4 L179.3,162.4 L180.3,162.5 L181.2,162.5 L182.2,162.5 L183.1,162.5 L184.0,162.5 L185.0,162.5 L185.9,162.6 L186.8,162.6 L187.8,162.6 L188.7,162.6 L189.7,162.6 L190.6,162.6 L191.5,162.7 L192.5,162.7 L193.4,162.7 L194.3,162.7 L195.3,162.7 L196.2,162.7 L197.2,162.7 L198.1,162.8 L199.0,162.8 L200.0,162.8 L200.9,162.8 L201.8,162.8 L202.8,162.8 L203.7,162.8 L204.7,162.8 L205.6,162.9 L206.5,162.9 L207.5,162.9 L208.4,162.9 L209.3,162.9 L210.3,162.9 L211.2,162.9 L212.2,162.9 L213.1,163.0 L214.0,163.0 L215.0,163.0 L215.9,163.0" fill="none" stroke="#d9899a" stroke-width="1.6" stroke-linejoin="round" stroke-linecap="butt"/>
<path d="M65.9,40.4 L66.1,42.3 L66.3,44.1 L66.5,45.9 L66.7,47.7 L66.8,49.4 L67.0,51.2 L67.2,52.9 L67.4,54.5 L67.6,56.2 L67.8,57.8 L68.0,59.7 L68.2,62.3 L68.3,64.8 L68.5,67.2 L68.7,69.6 L68.9,71.9 L69.1,74.2 L69.3,76.4 L69.5,78.6 L69.7,80.6 L69.8,82.7 L70.0,84.8 L70.2,86.8 L70.4,88.8 L70.6,90.7 L70.8,92.6 L71.0,94.4 L71.2,96.2 L71.3,97.9 L71.5,99.6 L71.7,101.3 L71.9,102.9 L72.1,104.4 L72.3,105.9 L72.5,107.4 L72.7,108.9 L72.8,110.4 L73.0,111.8 L73.2,113.2 L73.4,114.5 L73.6,115.9 L73.8,117.1 L74.0,118.4 L74.2,119.6 L74.3,120.8 L74.5,121.9 L74.7,123.0 L74.9,123.9 L75.1,124.8 L75.3,125.6 L75.5,126.4 L75.7,127.3 L75.8,128.1 L76.0,128.8 L76.2,129.6 L76.4,130.3 L76.6,130.9 L76.8,131.4 L77.0,132.0 L77.2,132.5 L77.3,133.0 L77.5,133.5 L77.7,134.0 L77.9,134.5 L78.1,135.0 L78.3,135.5 L78.5,136.0 L78.7,136.4 L78.8,136.9 L79.0,137.3 L79.2,137.8 L79.4,138.2 L79.6,138.6 L79.8,139.1 L80.0,139.5 L80.2,139.9 L80.3,140.3 L80.5,140.7 L80.7,141.0 L80.9,141.4 L81.1,141.8 L81.3,142.1 L81.5,142.5 L81.7,142.8 L81.8,143.1 L82.0,143.4 L82.2,143.8 L82.4,144.1 L82.6,144.4 L82.8,144.7 L83.0,145.0 L83.2,145.3 L83.3,145.6 L83.5,145.8 L83.7,146.1 L83.9,146.4 L84.1,146.7 L84.3,146.9 L84.5,147.2 L84.7,147.4 L84.8,147.7 L85.0,148.0 L85.2,148.2 L85.4,148.4 L85.6,148.7 L85.8,148.9 L86.0,149.1 L86.2,149.4 L86.3,149.6 L86.5,149.9 L86.7,150.1 L86.9,150.4 L87.1,150.6 L87.3,150.9 L87.5,151.1 L87.7,151.3 L87.8,151.6 L88.0,151.8 L88.2,152.0 L88.4,152.2 L88.6,152.4 L88.8,152.6 L89.0,152.8 L89.2,153.0 L89.3,153.2 L89.5,153.4 L89.7,153.6 L89.9,153.8 L90.1,154.0 L90.3,154.2 L90.5,154.3 L90.7,154.5 L90.8,154.7 L91.0,154.8 L91.2,155.0 L91.4,155.1 L91.6,155.3 L91.8,155.4 L92.0,155.6 L92.2,155.7 L92.3,155.9 L92.5,156.0 L92.7,156.1 L92.9,156.2 L93.1,156.4 L93.3,156.5 L93.5,156.6 L93.7,156.8 L93.8,156.9 L94.0,157.0 L94.2,157.1 L94.4,157.2 L94.6,157.3 L94.8,157.4 L95.0,157.5 L95.2,157.7 L95.3,157.8 L95.5,157.9 L95.7,158.0 L95.9,158.1" fill="none" stroke="#b8133a" stroke-width="1.6" stroke-linejoin="round" stroke-linecap="butt"/>
<path d="M65.9,40.4 L66.0,55.6 L66.2,68.9 L66.3,80.6 L66.5,90.1 L66.6,97.6 L66.7,104.3 L66.9,110.3 L67.0,117.0 L67.1,123.2 L67.3,128.5 L67.4,133.1 L67.6,136.2 L67.7,138.9 L67.8,141.4 L68.0,143.1 L68.1,143.9 L68.2,144.7 L68.4,145.5 L68.5,146.3 L68.7,147.0 L68.8,147.7 L68.9,148.3 L69.1,148.6 L69.2,149.0 L69.3,149.4 L69.5,149.7 L69.6,150.1 L69.8,150.4 L69.9,150.7 L70.0,151.0 L70.2,151.3 L70.3,151.6 L70.4,151.9 L70.6,152.2 L70.7,152.5 L70.9,152.8 L71.0,153.1 L71.1,153.4 L71.3,153.6 L71.4,153.9 L71.5,154.1 L71.7,154.4 L71.8,154.6 L72.0,154.9 L72.1,155.1 L72.2,155.3 L72.4,155.5 L72.5,155.7 L72.6,155.9 L72.8,156.1 L72.9,156.3 L73.1,156.5 L73.2,156.7 L73.3,156.8 L73.5,157.0 L73.6,157.2 L73.7,157.3 L73.9,157.5 L74.0,157.6 L74.2,157.8 L74.3,157.9 L74.4,158.1 L74.6,158.1 L74.7,158.2 L74.8,158.3 L75.0,158.4 L75.1,158.4 L75.2,158.5 L75.4,158.6 L75.5,158.7 L75.7,158.7 L75.8,158.8 L75.9,158.9 L76.1,158.9 L76.2,159.0 L76.4,159.1 L76.5,159.1 L76.6,159.2 L76.8,159.2 L76.9,159.3 L77.0,159.4 L77.2,159.4 L77.3,159.5 L77.5,159.5 L77.6,159.6 L77.7,159.6 L77.9,159.7 L78.0,159.8 L78.1,159.8 L78.3,159.9 L78.4,159.9 L78.6,159.9 L78.7,160.0 L78.8,160.0 L79.0,160.0 L79.1,160.0 L79.2,160.1 L79.4,160.1 L79.5,160.1 L79.7,160.1 L79.8,160.2 L79.9,160.2 L80.1,160.2 L80.2,160.2 L80.3,160.3 L80.5,160.3 L80.6,160.3 L80.8,160.3 L80.9,160.4 L81.0,160.4 L81.2,160.4 L81.3,160.4 L81.4,160.5 L81.6,160.5 L81.7,160.5 L81.9,160.5 L82.0,160.6 L82.1,160.6 L82.3,160.6 L82.4,160.6 L82.5,160.6 L82.7,160.7 L82.8,160.7 L83.0,160.7 L83.1,160.7 L83.2,160.7 L83.4,160.8 L83.5,160.8 L83.6,160.8 L83.8,160.8 L83.9,160.9 L84.1,160.9 L84.2,160.9 L84.3,160.9 L84.5,160.9 L84.6,161.0 L84.7,161.0 L84.9,161.0 L85.0,161.0 L85.2,161.0 L85.3,161.0 L85.4,161.1 L85.6,161.1 L85.7,161.1 L85.8,161.1 L86.0,161.1 L86.1,161.2 L86.2,161.2 L86.4,161.2 L86.5,161.2 L86.7,161.2 L86.8,161.2 L86.9,161.3 L87.1,161.3 L87.2,161.3 L87.4,161.3 L87.5,161.3 L87.6,161.3 L87.8,161.4 L87.9,161.4" fill="none" stroke="#4e2c12" stroke-width="1.6" stroke-linejoin="round" stroke-linecap="butt"/>
<circle cx="65.9" cy="40.4" r="2.7" fill="#e596a3" fill-opacity="0.8" stroke="#cf7383" stroke-opacity="0.64" stroke-width="0.7"/>
<circle cx="76.9" cy="103.2" r="2.7" fill="#e596a3" fill-opacity="0.8" stroke="#cf7383" stroke-opacity="0.64" stroke-width="0.7"/>
<circle cx="85.9" cy="124.2" r="2.7" fill="#e596a3" fill-opacity="0.8" stroke="#cf7383" stroke-opacity="0.64" stroke-width="0.7"/>
<circle cx="95.9" cy="139.3" r="2.7" fill="#e596a3" fill-opacity="0.8" stroke="#cf7383" stroke-opacity="0.64" stroke-width="0.7"/>
<circle cx="105.9" cy="149.1" r="2.7" fill="#e596a3" fill-opacity="0.8" stroke="#cf7383" stroke-opacity="0.64" stroke-width="0.7"/>
<circle cx="115.9" cy="154.9" r="2.7" fill="#e596a3" fill-opacity="0.8" stroke="#cf7383" stroke-opacity="0.64" stroke-width="0.7"/>
<circle cx="140.9" cy="158.8" r="2.7" fill="#e596a3" fill-opacity="0.8" stroke="#cf7383" stroke-opacity="0.64" stroke-width="0.7"/>
<circle cx="165.9" cy="162.7" r="2.7" fill="#e596a3" fill-opacity="0.8" stroke="#cf7383" stroke-opacity="0.64" stroke-width="0.7"/>
<circle cx="190.9" cy="162.7" r="2.7" fill="#e596a3" fill-opacity="0.8" stroke="#cf7383" stroke-opacity="0.64" stroke-width="0.7"/>
<circle cx="215.9" cy="161.9" r="2.7" fill="#e596a3" fill-opacity="0.8" stroke="#cf7383" stroke-opacity="0.64" stroke-width="0.7"/>
<circle cx="65.9" cy="40.4" r="2.7" fill="#91cde9" fill-opacity="0.8" stroke="#6db6da" stroke-opacity="0.64" stroke-width="0.7"/>
<circle cx="75.9" cy="74.9" r="2.7" fill="#91cde9" fill-opacity="0.8" stroke="#6db6da" stroke-opacity="0.64" stroke-width="0.7"/>
<circle cx="81.4" cy="91.7" r="2.7" fill="#91cde9" fill-opacity="0.8" stroke="#6db6da" stroke-opacity="0.64" stroke-width="0.7"/>
<circle cx="85.9" cy="103.2" r="2.7" fill="#91cde9" fill-opacity="0.8" stroke="#6db6da" stroke-opacity="0.64" stroke-width="0.7"/>
<circle cx="85.9" cy="114.3" r="2.7" fill="#91cde9" fill-opacity="0.8" stroke="#6db6da" stroke-opacity="0.64" stroke-width="0.7"/>
<circle cx="95.9" cy="118.5" r="2.7" fill="#91cde9" fill-opacity="0.8" stroke="#6db6da" stroke-opacity="0.64" stroke-width="0.7"/>
<circle cx="95.9" cy="124.2" r="2.7" fill="#91cde9" fill-opacity="0.8" stroke="#6db6da" stroke-opacity="0.64" stroke-width="0.7"/>
<circle cx="105.9" cy="130.3" r="2.7" fill="#91cde9" fill-opacity="0.8" stroke="#6db6da" stroke-opacity="0.64" stroke-width="0.7"/>
<circle cx="105.9" cy="134.6" r="2.7" fill="#91cde9" fill-opacity="0.8" stroke="#6db6da" stroke-opacity="0.64" stroke-width="0.7"/>
<circle cx="115.9" cy="136.5" r="2.7" fill="#91cde9" fill-opacity="0.8" stroke="#6db6da" stroke-opacity="0.64" stroke-width="0.7"/>
<circle cx="115.9" cy="144.3" r="2.7" fill="#91cde9" fill-opacity="0.8" stroke="#6db6da" stroke-opacity="0.64" stroke-width="0.7"/>
<circle cx="130.9" cy="148.1" r="2.7" fill="#91cde9" fill-opacity="0.8" stroke="#6db6da" stroke-opacity="0.64" stroke-width="0.7"/>
<circle cx="140.9" cy="154.2" r="2.7" fill="#91cde9" fill-opacity="0.8" stroke="#6db6da" stroke-opacity="0.64" stroke-width="0.7"/>
<circle cx="145.9" cy="152.8" r="2.7" fill="#91cde9" fill-opacity="0.8" stroke="#6db6da" stroke-opacity="0.64" stroke-width="0.7"/>
<circle cx="165.9" cy="157.3" r="2.7" fill="#91cde9" fill-opacity="0.8" stroke="#6db6da" stroke-opacity="0.64" stroke-width="0.7"/>
<circle cx="190.9" cy="160.4" r="2.7" fill="#91cde9" fill-opacity="0.8" stroke="#6db6da" stroke-opacity="0.64" stroke-width="0.7"/>
<circle cx="65.9" cy="40.4" r="2.7" fill="#4b545d" fill-opacity="1.0" stroke="#2c3339" stroke-opacity="0.80" stroke-width="0.7"/>
<circle cx="70.9" cy="38.6" r="2.7" fill="#4b545d" fill-opacity="1.0" stroke="#2c3339" stroke-opacity="0.80" stroke-width="0.7"/>
<circle cx="75.9" cy="38.6" r="2.7" fill="#4b545d" fill-opacity="1.0" stroke="#2c3339" stroke-opacity="0.80" stroke-width="0.7"/>
<circle cx="85.9" cy="37.0" r="2.7" fill="#4b545d" fill-opacity="1.0" stroke="#2c3339" stroke-opacity="0.80" stroke-width="0.7"/>
<circle cx="95.9" cy="39.2" r="2.7" fill="#4b545d" fill-opacity="1.0" stroke="#2c3339" stroke-opacity="0.80" stroke-width="0.7"/>
<circle cx="105.9" cy="40.4" r="2.7" fill="#4b545d" fill-opacity="1.0" stroke="#2c3339" stroke-opacity="0.80" stroke-width="0.7"/>
<circle cx="115.9" cy="35.7" r="2.7" fill="#4b545d" fill-opacity="1.0" stroke="#2c3339" stroke-opacity="0.80" stroke-width="0.7"/>
<circle cx="140.9" cy="41.6" r="2.7" fill="#4b545d" fill-opacity="1.0" stroke="#2c3339" stroke-opacity="0.80" stroke-width="0.7"/>
<circle cx="165.9" cy="37.4" r="2.7" fill="#4b545d" fill-opacity="1.0" stroke="#2c3339" stroke-opacity="0.80" stroke-width="0.7"/>
<circle cx="190.9" cy="45.2" r="2.7" fill="#4b545d" fill-opacity="1.0" stroke="#2c3339" stroke-opacity="0.80" stroke-width="0.7"/>
<circle cx="215.9" cy="45.2" r="2.7" fill="#4b545d" fill-opacity="1.0" stroke="#2c3339" stroke-opacity="0.80" stroke-width="0.7"/>
<circle cx="265.9" cy="38.1" r="2.7" fill="#4b545d" fill-opacity="1.0" stroke="#2c3339" stroke-opacity="0.80" stroke-width="0.7"/>
<circle cx="65.9" cy="40.4" r="2.7" fill="#1e5b93" fill-opacity="1.0" stroke="#0b3a66" stroke-opacity="0.80" stroke-width="0.7"/>
<circle cx="71.4" cy="46.9" r="2.7" fill="#1e5b93" fill-opacity="1.0" stroke="#0b3a66" stroke-opacity="0.80" stroke-width="0.7"/>
<circle cx="75.9" cy="59.2" r="2.7" fill="#1e5b93" fill-opacity="1.0" stroke="#0b3a66" stroke-opacity="0.80" stroke-width="0.7"/>
<circle cx="80.9" cy="63.1" r="2.7" fill="#1e5b93" fill-opacity="1.0" stroke="#0b3a66" stroke-opacity="0.80" stroke-width="0.7"/>
<circle cx="85.9" cy="68.0" r="2.7" fill="#1e5b93" fill-opacity="1.0" stroke="#0b3a66" stroke-opacity="0.80" stroke-width="0.7"/>
<circle cx="85.9" cy="78.8" r="2.7" fill="#1e5b93" fill-opacity="1.0" stroke="#0b3a66" stroke-opacity="0.80" stroke-width="0.7"/>
<circle cx="95.9" cy="82.3" r="2.7" fill="#1e5b93" fill-opacity="1.0" stroke="#0b3a66" stroke-opacity="0.80" stroke-width="0.7"/>
<circle cx="95.9" cy="86.2" r="2.7" fill="#1e5b93" fill-opacity="1.0" stroke="#0b3a66" stroke-opacity="0.80" stroke-width="0.7"/>
<circle cx="105.9" cy="91.7" r="2.7" fill="#1e5b93" fill-opacity="1.0" stroke="#0b3a66" stroke-opacity="0.80" stroke-width="0.7"/>
<circle cx="105.9" cy="96.5" r="2.7" fill="#1e5b93" fill-opacity="1.0" stroke="#0b3a66" stroke-opacity="0.80" stroke-width="0.7"/>
<circle cx="115.9" cy="99.4" r="2.7" fill="#1e5b93" fill-opacity="1.0" stroke="#0b3a66" stroke-opacity="0.80" stroke-width="0.7"/>
<circle cx="115.9" cy="103.8" r="2.7" fill="#1e5b93" fill-opacity="1.0" stroke="#0b3a66" stroke-opacity="0.80" stroke-width="0.7"/>
<circle cx="130.9" cy="109.0" r="2.7" fill="#1e5b93" fill-opacity="1.0" stroke="#0b3a66" stroke-opacity="0.80" stroke-width="0.7"/>
<circle cx="140.9" cy="123.1" r="2.7" fill="#1e5b93" fill-opacity="1.0" stroke="#0b3a66" stroke-opacity="0.80" stroke-width="0.7"/>
<circle cx="145.9" cy="120.2" r="2.7" fill="#1e5b93" fill-opacity="1.0" stroke="#0b3a66" stroke-opacity="0.80" stroke-width="0.7"/>
<circle cx="165.9" cy="129.2" r="2.7" fill="#1e5b93" fill-opacity="1.0" stroke="#0b3a66" stroke-opacity="0.80" stroke-width="0.7"/>
<circle cx="165.9" cy="135.4" r="2.7" fill="#1e5b93" fill-opacity="1.0" stroke="#0b3a66" stroke-opacity="0.80" stroke-width="0.7"/>
<circle cx="190.9" cy="144.6" r="2.7" fill="#1e5b93" fill-opacity="1.0" stroke="#0b3a66" stroke-opacity="0.80" stroke-width="0.7"/>
<circle cx="215.9" cy="150.8" r="2.7" fill="#1e5b93" fill-opacity="1.0" stroke="#0b3a66" stroke-opacity="0.80" stroke-width="0.7"/>
<circle cx="265.9" cy="155.6" r="2.7" fill="#1e5b93" fill-opacity="1.0" stroke="#0b3a66" stroke-opacity="0.80" stroke-width="0.7"/>
<circle cx="65.9" cy="29.3" r="2.7" fill="#cf1438" fill-opacity="1.0" stroke="#a30d27" stroke-opacity="0.80" stroke-width="0.7"/>
<circle cx="65.9" cy="34.2" r="2.7" fill="#cf1438" fill-opacity="1.0" stroke="#a30d27" stroke-opacity="0.80" stroke-width="0.7"/>
<circle cx="66.4" cy="44.1" r="2.7" fill="#cf1438" fill-opacity="1.0" stroke="#a30d27" stroke-opacity="0.80" stroke-width="0.7"/>
<circle cx="66.7" cy="47.5" r="2.7" fill="#cf1438" fill-opacity="1.0" stroke="#a30d27" stroke-opacity="0.80" stroke-width="0.7"/>
<circle cx="67.4" cy="51.5" r="2.7" fill="#cf1438" fill-opacity="1.0" stroke="#a30d27" stroke-opacity="0.80" stroke-width="0.7"/>
<circle cx="68.2" cy="64.6" r="2.7" fill="#cf1438" fill-opacity="1.0" stroke="#a30d27" stroke-opacity="0.80" stroke-width="0.7"/>
<circle cx="68.9" cy="69.5" r="2.7" fill="#cf1438" fill-opacity="1.0" stroke="#a30d27" stroke-opacity="0.80" stroke-width="0.7"/>
<circle cx="69.7" cy="81.3" r="2.7" fill="#cf1438" fill-opacity="1.0" stroke="#a30d27" stroke-opacity="0.80" stroke-width="0.7"/>
<circle cx="70.4" cy="89.4" r="2.7" fill="#cf1438" fill-opacity="1.0" stroke="#a30d27" stroke-opacity="0.80" stroke-width="0.7"/>
<circle cx="71.2" cy="91.5" r="2.7" fill="#cf1438" fill-opacity="1.0" stroke="#a30d27" stroke-opacity="0.80" stroke-width="0.7"/>
<circle cx="71.9" cy="102.5" r="2.7" fill="#cf1438" fill-opacity="1.0" stroke="#a30d27" stroke-opacity="0.80" stroke-width="0.7"/>
<circle cx="72.7" cy="109.0" r="2.7" fill="#cf1438" fill-opacity="1.0" stroke="#a30d27" stroke-opacity="0.80" stroke-width="0.7"/>
<circle cx="73.4" cy="112.8" r="2.7" fill="#cf1438" fill-opacity="1.0" stroke="#a30d27" stroke-opacity="0.80" stroke-width="0.7"/>
<circle cx="74.2" cy="116.8" r="2.7" fill="#cf1438" fill-opacity="1.0" stroke="#a30d27" stroke-opacity="0.80" stroke-width="0.7"/>
<circle cx="74.9" cy="124.0" r="2.7" fill="#cf1438" fill-opacity="1.0" stroke="#a30d27" stroke-opacity="0.80" stroke-width="0.7"/>
<circle cx="75.7" cy="125.8" r="2.7" fill="#cf1438" fill-opacity="1.0" stroke="#a30d27" stroke-opacity="0.80" stroke-width="0.7"/>
<circle cx="76.4" cy="132.7" r="2.7" fill="#cf1438" fill-opacity="1.0" stroke="#a30d27" stroke-opacity="0.80" stroke-width="0.7"/>
<circle cx="77.2" cy="133.4" r="2.7" fill="#cf1438" fill-opacity="1.0" stroke="#a30d27" stroke-opacity="0.80" stroke-width="0.7"/>
<circle cx="77.9" cy="135.6" r="2.7" fill="#cf1438" fill-opacity="1.0" stroke="#a30d27" stroke-opacity="0.80" stroke-width="0.7"/>
<circle cx="78.7" cy="139.7" r="2.7" fill="#cf1438" fill-opacity="1.0" stroke="#a30d27" stroke-opacity="0.80" stroke-width="0.7"/>
<circle cx="79.4" cy="141.9" r="2.7" fill="#cf1438" fill-opacity="1.0" stroke="#a30d27" stroke-opacity="0.80" stroke-width="0.7"/>
<circle cx="80.2" cy="143.9" r="2.7" fill="#cf1438" fill-opacity="1.0" stroke="#a30d27" stroke-opacity="0.80" stroke-width="0.7"/>
<circle cx="80.9" cy="142.0" r="2.7" fill="#cf1438" fill-opacity="1.0" stroke="#a30d27" stroke-opacity="0.80" stroke-width="0.7"/>
<circle cx="82.4" cy="144.3" r="2.7" fill="#cf1438" fill-opacity="1.0" stroke="#a30d27" stroke-opacity="0.80" stroke-width="0.7"/>
<circle cx="83.9" cy="146.8" r="2.7" fill="#cf1438" fill-opacity="1.0" stroke="#a30d27" stroke-opacity="0.80" stroke-width="0.7"/>
<circle cx="85.9" cy="149.0" r="2.7" fill="#cf1438" fill-opacity="1.0" stroke="#a30d27" stroke-opacity="0.80" stroke-width="0.7"/>
<circle cx="87.9" cy="153.3" r="2.7" fill="#cf1438" fill-opacity="1.0" stroke="#a30d27" stroke-opacity="0.80" stroke-width="0.7"/>
<circle cx="95.4" cy="157.9" r="2.7" fill="#cf1438" fill-opacity="1.0" stroke="#a30d27" stroke-opacity="0.80" stroke-width="0.7"/>
<circle cx="65.9" cy="34.2" r="2.5" fill="#5e3a18" fill-opacity="1.0" stroke="#45260c" stroke-opacity="0.80" stroke-width="0.7"/>
<circle cx="65.9" cy="37.9" r="2.5" fill="#5e3a18" fill-opacity="1.0" stroke="#45260c" stroke-opacity="0.80" stroke-width="0.7"/>
<circle cx="66.2" cy="58.9" r="2.5" fill="#5e3a18" fill-opacity="1.0" stroke="#45260c" stroke-opacity="0.80" stroke-width="0.7"/>
<circle cx="66.4" cy="87.1" r="2.5" fill="#5e3a18" fill-opacity="1.0" stroke="#45260c" stroke-opacity="0.80" stroke-width="0.7"/>
<circle cx="66.7" cy="100.4" r="2.5" fill="#5e3a18" fill-opacity="1.0" stroke="#45260c" stroke-opacity="0.80" stroke-width="0.7"/>
<circle cx="66.9" cy="112.3" r="2.5" fill="#5e3a18" fill-opacity="1.0" stroke="#45260c" stroke-opacity="0.80" stroke-width="0.7"/>
<circle cx="67.2" cy="123.9" r="2.5" fill="#5e3a18" fill-opacity="1.0" stroke="#45260c" stroke-opacity="0.80" stroke-width="0.7"/>
<circle cx="67.4" cy="133.8" r="2.5" fill="#5e3a18" fill-opacity="1.0" stroke="#45260c" stroke-opacity="0.80" stroke-width="0.7"/>
<circle cx="67.7" cy="138.4" r="2.5" fill="#5e3a18" fill-opacity="1.0" stroke="#45260c" stroke-opacity="0.80" stroke-width="0.7"/>
<circle cx="67.9" cy="143.7" r="2.5" fill="#5e3a18" fill-opacity="1.0" stroke="#45260c" stroke-opacity="0.80" stroke-width="0.7"/>
<circle cx="68.2" cy="144.9" r="2.5" fill="#5e3a18" fill-opacity="1.0" stroke="#45260c" stroke-opacity="0.80" stroke-width="0.7"/>
<circle cx="68.4" cy="145.1" r="2.5" fill="#5e3a18" fill-opacity="1.0" stroke="#45260c" stroke-opacity="0.80" stroke-width="0.7"/>
<circle cx="68.9" cy="149.3" r="2.5" fill="#5e3a18" fill-opacity="1.0" stroke="#45260c" stroke-opacity="0.80" stroke-width="0.7"/>
<circle cx="69.4" cy="149.1" r="2.5" fill="#5e3a18" fill-opacity="1.0" stroke="#45260c" stroke-opacity="0.80" stroke-width="0.7"/>
<circle cx="69.9" cy="150.6" r="2.5" fill="#5e3a18" fill-opacity="1.0" stroke="#45260c" stroke-opacity="0.80" stroke-width="0.7"/>
<circle cx="70.4" cy="152.0" r="2.5" fill="#5e3a18" fill-opacity="1.0" stroke="#45260c" stroke-opacity="0.80" stroke-width="0.7"/>
<circle cx="70.9" cy="152.7" r="2.5" fill="#5e3a18" fill-opacity="1.0" stroke="#45260c" stroke-opacity="0.80" stroke-width="0.7"/>
<circle cx="71.9" cy="154.5" r="2.5" fill="#5e3a18" fill-opacity="1.0" stroke="#45260c" stroke-opacity="0.80" stroke-width="0.7"/>
<circle cx="72.9" cy="155.8" r="2.5" fill="#5e3a18" fill-opacity="1.0" stroke="#45260c" stroke-opacity="0.80" stroke-width="0.7"/>
<circle cx="73.9" cy="157.6" r="2.5" fill="#5e3a18" fill-opacity="1.0" stroke="#45260c" stroke-opacity="0.80" stroke-width="0.7"/>
<circle cx="74.9" cy="158.6" r="2.5" fill="#5e3a18" fill-opacity="1.0" stroke="#45260c" stroke-opacity="0.80" stroke-width="0.7"/>
<circle cx="75.9" cy="159.1" r="2.5" fill="#5e3a18" fill-opacity="1.0" stroke="#45260c" stroke-opacity="0.80" stroke-width="0.7"/>
<circle cx="76.9" cy="159.8" r="2.5" fill="#5e3a18" fill-opacity="1.0" stroke="#45260c" stroke-opacity="0.80" stroke-width="0.7"/>
<circle cx="77.9" cy="159.7" r="2.5" fill="#5e3a18" fill-opacity="1.0" stroke="#45260c" stroke-opacity="0.80" stroke-width="0.7"/>
<circle cx="78.9" cy="160.4" r="2.5" fill="#5e3a18" fill-opacity="1.0" stroke="#45260c" stroke-opacity="0.80" stroke-width="0.7"/>
<circle cx="79.9" cy="159.7" r="2.5" fill="#5e3a18" fill-opacity="1.0" stroke="#45260c" stroke-opacity="0.80" stroke-width="0.7"/>
<circle cx="80.9" cy="161.3" r="2.5" fill="#5e3a18" fill-opacity="1.0" stroke="#45260c" stroke-opacity="0.80" stroke-width="0.7"/>
<circle cx="81.9" cy="161.1" r="2.5" fill="#5e3a18" fill-opacity="1.0" stroke="#45260c" stroke-opacity="0.80" stroke-width="0.7"/>
<circle cx="82.9" cy="161.2" r="2.5" fill="#5e3a18" fill-opacity="1.0" stroke="#45260c" stroke-opacity="0.80" stroke-width="0.7"/>
<circle cx="83.9" cy="161.9" r="2.5" fill="#5e3a18" fill-opacity="1.0" stroke="#45260c" stroke-opacity="0.80" stroke-width="0.7"/>
<circle cx="84.9" cy="160.1" r="2.5" fill="#5e3a18" fill-opacity="1.0" stroke="#45260c" stroke-opacity="0.80" stroke-width="0.7"/>
<circle cx="85.9" cy="162.3" r="2.5" fill="#5e3a18" fill-opacity="1.0" stroke="#45260c" stroke-opacity="0.80" stroke-width="0.7"/>
<circle cx="86.9" cy="161.4" r="2.5" fill="#5e3a18" fill-opacity="1.0" stroke="#45260c" stroke-opacity="0.80" stroke-width="0.7"/>
<circle cx="87.9" cy="161.6" r="2.5" fill="#5e3a18" fill-opacity="1.0" stroke="#45260c" stroke-opacity="0.80" stroke-width="0.7"/>
<path d="M300.5,36.7 L300.7,37.8 L301.0,38.8 L301.2,39.9 L301.5,40.9 L301.7,41.9 L302.0,42.9 L302.2,43.8 L302.5,44.8 L302.7,45.7 L303.0,46.7 L303.2,47.6 L303.5,48.4 L303.7,49.3 L304.0,50.2 L304.2,51.0 L304.5,51.8 L304.7,52.7 L305.0,53.4 L305.2,54.2 L305.5,55.0 L305.7,55.8 L306.0,56.5 L306.2,57.2 L306.5,58.0 L306.7,58.7 L307.0,59.4 L307.2,60.0 L307.5,60.7 L307.7,61.4 L308.0,62.0 L308.2,62.7 L308.5,63.3 L308.7,63.9 L309.0,64.5 L309.2,65.1 L309.5,65.7 L309.7,66.2 L310.0,66.8 L310.2,67.4 L310.5,67.9 L310.7,68.4 L311.0,69.0 L311.2,69.5 L311.5,70.0 L311.7,70.5 L312.0,71.0 L312.2,71.4 L312.5,71.9 L312.7,72.4 L313.0,72.8 L313.2,73.3 L313.5,73.7 L313.7,74.2 L314.0,74.6 L314.2,75.0 L314.5,75.4 L314.7,75.8 L315.0,76.2 L315.2,76.6 L315.5,77.0 L315.7,77.4 L316.0,77.7 L316.2,78.1 L316.5,78.5 L316.7,78.8 L317.0,79.1 L317.2,79.5 L317.5,79.8 L317.7,80.1 L318.0,80.5 L318.2,80.8 L318.5,81.1 L318.7,81.4 L319.0,81.7 L319.2,82.0 L319.5,82.3 L319.7,82.6 L320.0,82.8 L320.2,83.1 L320.5,83.4 L320.7,83.7 L321.0,83.9 L321.2,84.2 L321.5,84.4 L321.7,84.7 L322.0,84.9 L322.2,85.2 L322.5,85.4 L322.7,85.6 L323.0,85.8 L323.2,86.1 L323.5,86.3 L323.7,86.5 L324.0,86.7 L324.2,86.9 L324.5,87.1 L324.7,87.3 L325.0,87.5 L325.2,87.7 L325.5,87.9 L329.8,90.7 L334.2,92.8 L338.6,94.4 L343.0,95.5 L347.3,96.3 L351.7,97.0 L356.1,97.4 L360.4,97.7 L364.8,98.0 L369.2,98.2 L373.6,98.3 L377.9,98.4 L382.3,98.5 L386.7,98.5 L391.0,98.6 L395.4,98.6 L399.8,98.6 L404.1,98.6 L408.5,98.6 L412.9,98.7 L417.3,98.7 L421.6,98.7 L426.0,98.7 L430.4,98.7 L434.7,98.7 L439.1,98.7 L443.5,98.7 L447.9,98.7 L452.2,98.7 L456.6,98.7 L461.0,98.7 L465.3,98.7 L469.7,98.7 L474.1,98.7 L478.4,98.7 L482.8,98.7 L487.2,98.7 L491.6,98.7 L495.9,98.7 L500.3,98.7 L500.3,106.1 L495.9,106.1 L491.6,106.1 L487.2,106.1 L482.8,106.1 L478.4,106.1 L474.1,106.1 L469.7,106.1 L465.3,106.1 L461.0,106.1 L456.6,106.1 L452.2,106.1 L447.9,106.1 L443.5,106.1 L439.1,106.1 L434.7,106.1 L430.4,106.1 L426.0,106.1 L421.6,106.1 L417.3,106.1 L412.9,106.1 L408.5,106.1 L404.1,106.1 L399.8,106.1 L395.4,106.1 L391.0,106.1 L386.7,106.1 L382.3,106.1 L377.9,106.1 L373.6,106.1 L369.2,106.1 L364.8,106.1 L360.4,106.1 L356.1,106.1 L351.7,106.1 L347.3,106.1 L343.0,106.0 L338.6,106.0 L334.2,106.0 L329.8,105.8 L325.5,105.5 L325.2,105.5 L325.0,105.5 L324.7,105.4 L324.5,105.4 L324.2,105.4 L324.0,105.3 L323.7,105.3 L323.5,105.3 L323.2,105.2 L323.0,105.2 L322.7,105.1 L322.5,105.1 L322.2,105.0 L322.0,105.0 L321.7,104.9 L321.5,104.9 L321.2,104.8 L321.0,104.8 L320.7,104.7 L320.5,104.7 L320.2,104.6 L320.0,104.5 L319.7,104.4 L319.5,104.4 L319.2,104.3 L319.0,104.2 L318.7,104.1 L318.5,104.0 L318.2,103.9 L318.0,103.8 L317.7,103.7 L317.5,103.6 L317.2,103.5 L317.0,103.3 L316.7,103.2 L316.5,103.1 L316.2,102.9 L316.0,102.8 L315.7,102.6 L315.5,102.4 L315.2,102.3 L315.0,102.1 L314.7,101.9 L314.5,101.7 L314.2,101.5 L314.0,101.2 L313.7,101.0 L313.5,100.8 L313.2,100.5 L313.0,100.2 L312.7,99.9 L312.5,99.7 L312.2,99.3 L312.0,99.0 L311.7,98.7 L311.5,98.3 L311.2,97.9 L311.0,97.5 L310.7,97.1 L310.5,96.7 L310.2,96.3 L310.0,95.8 L309.7,95.3 L309.5,94.8 L309.2,94.2 L309.0,93.6 L308.7,93.0 L308.5,92.4 L308.2,91.7 L308.0,91.0 L307.7,90.3 L307.5,89.6 L307.2,88.8 L307.0,87.9 L306.7,87.0 L306.5,86.1 L306.2,85.2 L306.0,84.2 L305.7,83.1 L305.5,82.0 L305.2,80.8 L305.0,79.6 L304.7,78.3 L304.5,77.0 L304.2,75.6 L304.0,74.1 L303.7,72.5 L303.5,70.9 L303.2,69.2 L303.0,67.4 L302.7,65.6 L302.5,63.6 L302.2,61.5 L302.0,59.4 L301.7,57.1 L301.5,54.8 L301.2,52.3 L301.0,49.7 L300.7,47.0 L300.5,44.1Z" fill="#dcdfe2" fill-opacity="0.8" stroke="none"/>
<path d="M300.5,37.2 L300.7,39.1 L301.0,40.9 L301.2,42.6 L301.5,44.3 L301.7,46.0 L302.0,47.6 L302.2,49.2 L302.5,50.7 L302.7,52.2 L303.0,53.6 L303.2,55.0 L303.5,56.4 L303.7,57.7 L304.0,59.0 L304.2,60.2 L304.5,61.4 L304.7,62.6 L305.0,63.7 L305.2,64.9 L305.5,65.9 L305.7,67.0 L306.0,68.0 L306.2,69.0 L306.5,70.0 L306.7,70.9 L307.0,71.8 L307.2,72.7 L307.5,73.6 L307.7,74.4 L308.0,75.2 L308.2,76.0 L308.5,76.8 L308.7,77.5 L309.0,78.3 L309.2,79.0 L309.5,79.6 L309.7,80.3 L310.0,81.0 L310.2,81.6 L310.5,82.2 L310.7,82.8 L311.0,83.4 L311.2,83.9 L311.5,84.5 L311.7,85.0 L312.0,85.5 L312.2,86.0 L312.5,86.5 L312.7,87.0 L313.0,87.4 L313.2,87.9 L313.5,88.3 L313.7,88.7 L314.0,89.2 L314.2,89.6 L314.5,89.9 L314.7,90.3 L315.0,90.7 L315.2,91.0 L315.5,91.4 L315.7,91.7 L316.0,92.1 L316.2,92.4 L316.5,92.7 L316.7,93.0 L317.0,93.3 L317.2,93.6 L317.5,93.8 L317.7,94.1 L318.0,94.4 L318.2,94.6 L318.5,94.9 L318.7,95.1 L319.0,95.3 L319.2,95.6 L319.5,95.8 L319.7,96.0 L320.0,96.2 L320.2,96.4 L320.5,96.6 L320.7,96.8 L321.0,97.0 L321.2,97.1 L321.5,97.3 L321.7,97.5 L322.0,97.7 L322.2,97.8 L322.5,98.0 L322.7,98.1 L323.0,98.3 L323.2,98.4 L323.5,98.5 L323.7,98.7 L324.0,98.8 L324.2,98.9 L324.5,99.1 L324.7,99.2 L325.0,99.3 L325.2,99.4 L325.5,99.5 L329.8,101.0 L334.2,101.9 L338.6,102.5 L343.0,102.8 L347.3,103.0 L351.7,103.2 L356.1,103.2 L360.4,103.3 L364.8,103.3 L369.2,103.3 L373.6,103.3 L377.9,103.3 L382.3,103.3 L386.7,103.4 L391.0,103.4 L395.4,103.4 L399.8,103.4 L404.1,103.4 L408.5,103.4 L412.9,103.4 L417.3,103.4 L421.6,103.4 L426.0,103.4 L430.4,103.4 L434.7,103.4 L439.1,103.4 L443.5,103.4 L447.9,103.4 L452.2,103.4 L456.6,103.4 L461.0,103.4 L465.3,103.4 L469.7,103.4 L474.1,103.4 L478.4,103.4 L482.8,103.4 L487.2,103.4 L491.6,103.4 L495.9,103.4 L500.3,103.4 L500.3,109.8 L495.9,109.8 L491.6,109.8 L487.2,109.8 L482.8,109.8 L478.4,109.8 L474.1,109.8 L469.7,109.8 L465.3,109.8 L461.0,109.8 L456.6,109.8 L452.2,109.8 L447.9,109.8 L443.5,109.8 L439.1,109.8 L434.7,109.8 L430.4,109.8 L426.0,109.8 L421.6,109.8 L417.3,109.8 L412.9,109.8 L408.5,109.8 L404.1,109.8 L399.8,109.8 L395.4,109.8 L391.0,109.8 L386.7,109.8 L382.3,109.8 L377.9,109.8 L373.6,109.8 L369.2,109.8 L364.8,109.8 L360.4,109.8 L356.1,109.8 L351.7,109.8 L347.3,109.7 L343.0,109.7 L338.6,109.7 L334.2,109.6 L329.8,109.4 L325.5,109.1 L325.2,109.0 L325.0,109.0 L324.7,109.0 L324.5,108.9 L324.2,108.9 L324.0,108.9 L323.7,108.8 L323.5,108.8 L323.2,108.7 L323.0,108.7 L322.7,108.6 L322.5,108.6 L322.2,108.5 L322.0,108.5 L321.7,108.4 L321.5,108.3 L321.2,108.3 L321.0,108.2 L320.7,108.1 L320.5,108.0 L320.2,108.0 L320.0,107.9 L319.7,107.8 L319.5,107.7 L319.2,107.6 L319.0,107.5 L318.7,107.4 L318.5,107.3 L318.2,107.2 L318.0,107.0 L317.7,106.9 L317.5,106.8 L317.2,106.6 L317.0,106.5 L316.7,106.3 L316.5,106.2 L316.2,106.0 L316.0,105.8 L315.7,105.7 L315.5,105.5 L315.2,105.3 L315.0,105.1 L314.7,104.8 L314.5,104.6 L314.2,104.4 L314.0,104.1 L313.7,103.9 L313.5,103.6 L313.2,103.3 L313.0,103.0 L312.7,102.7 L312.5,102.3 L312.2,102.0 L312.0,101.6 L311.7,101.3 L311.5,100.9 L311.2,100.5 L311.0,100.0 L310.7,99.6 L310.5,99.1 L310.2,98.6 L310.0,98.1 L309.7,97.5 L309.5,96.9 L309.2,96.4 L309.0,95.7 L308.7,95.1 L308.5,94.4 L308.2,93.7 L308.0,92.9 L307.7,92.1 L307.5,91.3 L307.2,90.4 L307.0,89.5 L306.7,88.6 L306.5,87.6 L306.2,86.6 L306.0,85.5 L305.7,84.4 L305.5,83.2 L305.2,81.9 L305.0,80.6 L304.7,79.3 L304.5,77.9 L304.2,76.4 L304.0,74.8 L303.7,73.2 L303.5,71.5 L303.2,69.7 L303.0,67.8 L302.7,65.9 L302.5,63.8 L302.2,61.7 L302.0,59.4 L301.7,57.1 L301.5,54.6 L301.2,52.1 L301.0,49.4 L300.7,46.6 L300.5,43.6Z" fill="#a9c6e3" fill-opacity="0.75" stroke="none"/>
<path d="M300.5,37.7 L300.7,40.2 L301.0,42.6 L301.2,44.9 L301.5,47.2 L301.7,49.3 L302.0,51.4 L302.2,53.4 L302.5,55.4 L302.7,57.2 L303.0,59.0 L303.2,60.8 L303.5,62.5 L303.7,64.1 L304.0,65.6 L304.2,67.1 L304.5,68.6 L304.7,70.0 L305.0,71.4 L305.2,72.7 L305.5,73.9 L305.7,75.1 L306.0,76.3 L306.2,77.4 L306.5,78.5 L306.7,79.6 L307.0,80.6 L307.2,81.6 L307.5,82.5 L307.7,83.4 L308.0,84.3 L308.2,85.2 L308.5,86.0 L308.7,86.8 L309.0,87.5 L309.2,88.3 L309.5,89.0 L309.7,89.7 L310.0,90.3 L310.2,90.9 L310.5,91.6 L310.7,92.1 L311.0,92.7 L311.2,93.3 L311.5,93.8 L311.7,94.3 L312.0,94.8 L312.2,95.3 L312.5,95.7 L312.7,96.2 L313.0,96.6 L313.2,97.0 L313.5,97.4 L313.7,97.8 L314.0,98.2 L314.2,98.5 L314.5,98.9 L314.7,99.2 L315.0,99.5 L315.2,99.8 L315.5,100.1 L315.7,100.4 L316.0,100.7 L316.2,101.0 L316.5,101.2 L316.7,101.5 L317.0,101.7 L317.2,102.0 L317.5,102.2 L317.7,102.4 L318.0,102.6 L318.2,102.8 L318.5,103.0 L318.7,103.2 L319.0,103.4 L319.2,103.5 L319.5,103.7 L319.7,103.9 L320.0,104.0 L320.2,104.2 L320.5,104.3 L320.7,104.5 L321.0,104.6 L321.2,104.7 L321.5,104.9 L321.7,105.0 L322.0,105.1 L322.2,105.2 L322.5,105.3 L322.7,105.4 L323.0,105.5 L323.2,105.6 L323.5,105.7 L323.7,105.8 L324.0,105.9 L324.2,106.0 L324.5,106.1 L324.7,106.1 L325.0,106.2 L325.2,106.3 L325.5,106.4 L328.6,107.1 L331.7,107.5 L334.8,107.8 L338.0,108.0 L341.1,108.1 L344.2,108.2 L347.3,108.2 L350.4,108.2 L353.6,108.2 L356.7,108.3 L359.8,108.3 L362.9,108.3 L366.1,108.3 L369.2,108.3 L372.3,108.3 L375.4,108.3 L378.5,108.3 L381.7,108.3 L384.8,108.3 L387.9,108.3 L391.0,108.3 L394.2,108.3 L397.3,108.3 L400.4,108.3 L403.5,108.3 L406.6,108.3 L409.8,108.3 L412.9,108.3 L416.0,108.3 L419.1,108.3 L422.3,108.3 L425.4,108.3 L428.5,108.3 L431.6,108.3 L434.7,108.3 L437.9,108.3 L441.0,108.3 L444.1,108.3 L447.2,108.3 L450.4,108.3 L450.4,113.7 L447.2,113.7 L444.1,113.7 L441.0,113.7 L437.9,113.7 L434.7,113.7 L431.6,113.7 L428.5,113.7 L425.4,113.7 L422.3,113.7 L419.1,113.7 L416.0,113.7 L412.9,113.7 L409.8,113.7 L406.6,113.7 L403.5,113.7 L400.4,113.7 L397.3,113.7 L394.2,113.7 L391.0,113.7 L387.9,113.7 L384.8,113.7 L381.7,113.7 L378.5,113.7 L375.4,113.7 L372.3,113.7 L369.2,113.7 L366.1,113.7 L362.9,113.7 L359.8,113.7 L356.7,113.7 L353.6,113.7 L350.4,113.7 L347.3,113.7 L344.2,113.7 L341.1,113.7 L338.0,113.7 L334.8,113.7 L331.7,113.6 L328.6,113.5 L325.5,113.4 L325.2,113.4 L325.0,113.3 L324.7,113.3 L324.5,113.3 L324.2,113.3 L324.0,113.3 L323.7,113.2 L323.5,113.2 L323.2,113.2 L323.0,113.2 L322.7,113.1 L322.5,113.1 L322.2,113.1 L322.0,113.0 L321.7,113.0 L321.5,112.9 L321.2,112.9 L321.0,112.9 L320.7,112.8 L320.5,112.8 L320.2,112.7 L320.0,112.7 L319.7,112.6 L319.5,112.5 L319.2,112.5 L319.0,112.4 L318.7,112.3 L318.5,112.3 L318.2,112.2 L318.0,112.1 L317.7,112.0 L317.5,111.9 L317.2,111.8 L317.0,111.7 L316.7,111.6 L316.5,111.5 L316.2,111.4 L316.0,111.2 L315.7,111.1 L315.5,110.9 L315.2,110.8 L315.0,110.6 L314.7,110.5 L314.5,110.3 L314.2,110.1 L314.0,109.9 L313.7,109.7 L313.5,109.4 L313.2,109.2 L313.0,109.0 L312.7,108.7 L312.5,108.4 L312.2,108.1 L312.0,107.8 L311.7,107.5 L311.5,107.1 L311.2,106.8 L311.0,106.4 L310.7,106.0 L310.5,105.6 L310.2,105.1 L310.0,104.6 L309.7,104.1 L309.5,103.6 L309.2,103.0 L309.0,102.4 L308.7,101.8 L308.5,101.2 L308.2,100.5 L308.0,99.7 L307.7,99.0 L307.5,98.1 L307.2,97.3 L307.0,96.4 L306.7,95.4 L306.5,94.4 L306.2,93.3 L306.0,92.2 L305.7,91.0 L305.5,89.7 L305.2,88.4 L305.0,87.0 L304.7,85.5 L304.5,84.0 L304.2,82.3 L304.0,80.6 L303.7,78.7 L303.5,76.8 L303.2,74.7 L303.0,72.6 L302.7,70.3 L302.5,67.9 L302.2,65.3 L302.0,62.6 L301.7,59.8 L301.5,56.8 L301.2,53.7 L301.0,50.3 L300.7,46.8 L300.5,43.1Z" fill="#bfe4f3" fill-opacity="0.75" stroke="none"/>
<path d="M300.5,37.3 L300.7,40.3 L301.0,43.2 L301.2,46.0 L301.5,48.7 L301.7,51.2 L302.0,53.7 L302.2,56.0 L302.5,58.3 L302.7,60.5 L303.0,62.6 L303.2,64.6 L303.5,66.5 L303.7,68.4 L304.0,70.2 L304.2,71.9 L304.5,73.5 L304.7,75.1 L305.0,76.7 L305.2,78.1 L305.5,79.5 L305.7,80.9 L306.0,82.2 L306.2,83.4 L306.5,84.6 L306.7,85.8 L307.0,86.9 L307.2,87.9 L307.5,88.9 L307.7,89.9 L308.0,90.9 L308.2,91.8 L308.5,92.6 L308.7,93.5 L309.0,94.3 L309.2,95.1 L309.5,95.8 L309.7,96.5 L310.0,97.2 L310.2,97.8 L310.5,98.5 L310.7,99.1 L311.0,99.7 L311.2,100.2 L311.5,100.8 L311.7,101.3 L312.0,101.8 L312.2,102.3 L312.5,102.7 L312.7,103.2 L313.0,103.6 L313.2,104.0 L313.5,104.4 L313.7,104.8 L314.0,105.1 L314.2,105.5 L314.5,105.8 L314.7,106.1 L315.0,106.4 L315.2,106.7 L315.5,107.0 L315.7,107.3 L316.0,107.5 L316.2,107.8 L316.5,108.0 L316.7,108.3 L317.0,108.5 L317.2,108.7 L317.5,108.9 L317.7,109.1 L318.0,109.3 L318.2,109.5 L318.5,109.6 L318.7,109.8 L319.0,110.0 L319.2,110.1 L319.5,110.3 L319.7,110.4 L320.0,110.6 L320.2,110.7 L320.5,110.8 L320.7,110.9 L321.0,111.1 L321.2,111.2 L321.5,111.3 L321.7,111.4 L322.0,111.5 L322.2,111.6 L322.5,111.7 L322.7,111.8 L323.0,111.9 L323.2,111.9 L323.5,112.0 L323.7,112.1 L324.0,112.2 L324.2,112.2 L324.5,112.3 L324.7,112.4 L325.0,112.4 L325.2,112.5 L325.5,112.5 L328.6,113.1 L331.7,113.4 L334.8,113.6 L338.0,113.8 L341.1,113.8 L344.2,113.9 L347.3,113.9 L350.4,113.9 L353.6,113.9 L356.7,113.9 L359.8,113.9 L362.9,113.9 L366.1,113.9 L369.2,113.9 L372.3,113.9 L375.4,113.9 L378.5,114.0 L381.7,114.0 L384.8,114.0 L387.9,114.0 L391.0,114.0 L394.2,114.0 L397.3,114.0 L400.4,114.0 L403.5,114.0 L406.6,114.0 L409.8,114.0 L412.9,114.0 L416.0,114.0 L419.1,114.0 L422.3,114.0 L425.4,114.0 L428.5,114.0 L431.6,114.0 L434.7,114.0 L437.9,114.0 L441.0,114.0 L444.1,114.0 L447.2,114.0 L450.4,114.0 L450.4,120.1 L447.2,120.1 L444.1,120.1 L441.0,120.1 L437.9,120.1 L434.7,120.1 L431.6,120.1 L428.5,120.1 L425.4,120.1 L422.3,120.1 L419.1,120.1 L416.0,120.1 L412.9,120.1 L409.8,120.1 L406.6,120.1 L403.5,120.1 L400.4,120.1 L397.3,120.1 L394.2,120.1 L391.0,120.1 L387.9,120.1 L384.8,120.1 L381.7,120.1 L378.5,120.1 L375.4,120.1 L372.3,120.1 L369.2,120.1 L366.1,120.1 L362.9,120.1 L359.8,120.1 L356.7,120.1 L353.6,120.1 L350.4,120.1 L347.3,120.1 L344.2,120.1 L341.1,120.1 L338.0,120.1 L334.8,120.1 L331.7,120.1 L328.6,120.0 L325.5,119.9 L325.2,119.9 L325.0,119.9 L324.7,119.9 L324.5,119.9 L324.2,119.9 L324.0,119.8 L323.7,119.8 L323.5,119.8 L323.2,119.8 L323.0,119.8 L322.7,119.7 L322.5,119.7 L322.2,119.7 L322.0,119.7 L321.7,119.6 L321.5,119.6 L321.2,119.6 L321.0,119.6 L320.7,119.5 L320.5,119.5 L320.2,119.4 L320.0,119.4 L319.7,119.4 L319.5,119.3 L319.2,119.3 L319.0,119.2 L318.7,119.2 L318.5,119.1 L318.2,119.0 L318.0,119.0 L317.7,118.9 L317.5,118.8 L317.2,118.7 L317.0,118.6 L316.7,118.6 L316.5,118.5 L316.2,118.4 L316.0,118.3 L315.7,118.1 L315.5,118.0 L315.2,117.9 L315.0,117.7 L314.7,117.6 L314.5,117.4 L314.2,117.3 L314.0,117.1 L313.7,116.9 L313.5,116.7 L313.2,116.5 L313.0,116.3 L312.7,116.1 L312.5,115.8 L312.2,115.5 L312.0,115.3 L311.7,115.0 L311.5,114.6 L311.2,114.3 L311.0,113.9 L310.7,113.6 L310.5,113.2 L310.2,112.7 L310.0,112.3 L309.7,111.8 L309.5,111.3 L309.2,110.7 L309.0,110.1 L308.7,109.5 L308.5,108.9 L308.2,108.2 L308.0,107.4 L307.7,106.7 L307.5,105.8 L307.2,104.9 L307.0,104.0 L306.7,103.0 L306.5,102.0 L306.2,100.8 L306.0,99.6 L305.7,98.4 L305.5,97.0 L305.2,95.6 L305.0,94.1 L304.7,92.5 L304.5,90.8 L304.2,89.0 L304.0,87.0 L303.7,85.0 L303.5,82.8 L303.2,80.5 L303.0,78.1 L302.7,75.5 L302.5,72.7 L302.2,69.8 L302.0,66.6 L301.7,63.3 L301.5,59.8 L301.2,56.1 L301.0,52.1 L300.7,47.9 L300.5,43.5Z" fill="#f3c2cb" fill-opacity="0.75" stroke="none"/>
<path d="M300.5,37.9 L300.7,42.7 L301.0,47.3 L301.2,51.7 L301.5,56.2 L301.7,60.9 L302.0,65.4 L302.2,69.7 L302.5,72.9 L302.7,75.8 L303.0,78.7 L303.2,81.5 L303.5,83.9 L303.7,85.4 L304.0,86.9 L304.2,88.3 L304.5,89.7 L304.7,91.1 L305.0,92.5 L305.2,93.8 L305.5,95.1 L305.7,96.4 L306.0,97.7 L306.2,98.9 L306.5,99.8 L306.7,100.5 L307.0,101.1 L307.2,101.8 L307.5,102.4 L307.7,103.0 L308.0,103.6 L308.2,104.2 L308.5,104.8 L308.7,105.4 L309.0,106.0 L309.2,106.6 L309.5,107.1 L309.7,107.7 L310.0,108.3 L310.2,108.8 L310.5,109.4 L310.7,109.9 L311.0,110.5 L311.2,111.0 L311.5,111.5 L311.7,112.0 L312.0,112.5 L312.2,113.1 L312.5,113.4 L312.7,113.7 L313.0,114.1 L313.2,114.4 L313.5,114.7 L313.7,115.1 L314.0,115.4 L314.2,115.7 L314.5,116.0 L314.7,116.4 L315.0,116.7 L315.2,117.0 L315.5,117.3 L315.7,117.6 L316.0,117.9 L316.2,118.2 L316.5,118.5 L316.7,118.8 L317.0,119.1 L317.2,119.4 L317.5,119.7 L317.7,120.0 L318.0,120.3 L318.2,120.6 L318.5,120.8 L318.7,121.0 L319.0,121.2 L319.2,121.5 L319.5,121.7 L319.7,121.9 L320.0,122.1 L320.2,122.3 L320.5,122.5 L320.7,122.7 L321.0,122.9 L321.2,123.2 L321.5,123.4 L321.7,123.6 L322.0,123.8 L322.2,124.0 L322.5,124.2 L322.7,124.4 L323.0,124.6 L323.2,124.8 L323.5,125.0 L323.7,125.2 L324.0,125.4 L324.2,125.5 L324.5,125.6 L324.7,125.6 L325.0,125.7 L325.2,125.8 L325.5,125.9 L325.6,125.9 L325.7,126.0 L325.8,126.0 L326.0,126.1 L326.1,126.1 L326.2,126.1 L326.3,126.2 L326.5,126.2 L326.6,126.3 L326.7,126.3 L326.8,126.3 L327.0,126.4 L327.1,126.4 L327.2,126.5 L327.3,126.5 L327.5,126.5 L327.6,126.6 L327.7,126.6 L327.8,126.7 L328.0,126.7 L328.1,126.7 L328.2,126.8 L328.3,126.8 L328.5,126.9 L328.6,126.9 L328.7,126.9 L328.8,127.0 L329.0,127.0 L329.1,127.1 L329.2,127.1 L329.3,127.1 L329.5,127.2 L329.6,127.2 L329.7,127.3 L329.8,127.3 L330.0,127.3 L330.1,127.4 L330.2,127.4 L330.3,127.5 L330.5,127.5 L330.5,134.0 L330.3,134.0 L330.2,134.0 L330.1,134.0 L330.0,134.0 L329.8,134.0 L329.7,134.0 L329.6,134.0 L329.5,134.0 L329.3,134.0 L329.2,134.0 L329.1,134.0 L329.0,134.0 L328.8,134.0 L328.7,134.0 L328.6,134.0 L328.5,134.0 L328.3,134.0 L328.2,134.0 L328.1,134.0 L328.0,134.0 L327.8,134.0 L327.7,134.0 L327.6,134.0 L327.5,134.0 L327.3,134.0 L327.2,134.0 L327.1,134.0 L327.0,134.0 L326.8,134.0 L326.7,134.0 L326.6,134.0 L326.5,134.0 L326.3,133.9 L326.2,133.9 L326.1,133.8 L326.0,133.8 L325.8,133.7 L325.7,133.7 L325.6,133.6 L325.5,133.6 L325.2,133.5 L325.0,133.4 L324.7,133.3 L324.5,133.2 L324.2,133.1 L324.0,133.0 L323.7,132.9 L323.5,132.8 L323.2,132.7 L323.0,132.6 L322.7,132.5 L322.5,132.3 L322.2,132.2 L322.0,132.1 L321.7,132.0 L321.5,131.9 L321.2,131.8 L321.0,131.7 L320.7,131.6 L320.5,131.5 L320.2,131.4 L320.0,131.3 L319.7,131.2 L319.5,131.1 L319.2,130.9 L319.0,130.8 L318.7,130.7 L318.5,130.6 L318.2,130.5 L318.0,130.4 L317.7,130.2 L317.5,129.9 L317.2,129.6 L317.0,129.4 L316.7,129.1 L316.5,128.8 L316.2,128.6 L316.0,128.3 L315.7,128.0 L315.5,127.7 L315.2,127.4 L315.0,127.1 L314.7,126.8 L314.5,126.5 L314.2,126.3 L314.0,126.0 L313.7,125.7 L313.5,125.3 L313.2,124.9 L313.0,124.6 L312.7,124.1 L312.5,123.7 L312.2,123.3 L312.0,122.9 L311.7,122.5 L311.5,122.1 L311.2,121.7 L311.0,121.2 L310.7,120.8 L310.5,120.4 L310.2,119.9 L310.0,119.5 L309.7,119.0 L309.5,118.6 L309.2,118.1 L309.0,117.5 L308.7,116.8 L308.5,116.1 L308.2,115.3 L308.0,114.6 L307.7,113.9 L307.5,113.1 L307.2,112.4 L307.0,111.6 L306.7,110.8 L306.5,110.0 L306.2,109.2 L306.0,108.4 L305.7,107.6 L305.5,106.7 L305.2,105.9 L305.0,105.0 L304.7,103.8 L304.5,102.1 L304.2,100.4 L304.0,98.7 L303.7,96.8 L303.5,95.0 L303.2,93.1 L303.0,91.1 L302.7,89.1 L302.5,85.9 L302.2,82.1 L302.0,78.1 L301.7,73.7 L301.5,67.7 L301.2,61.5 L301.0,55.3 L300.7,49.3 L300.5,42.9Z" fill="#f0a0b0" fill-opacity="0.5" stroke="none"/>
<path d="M300.5,38.6 L300.7,50.3 L301.0,61.0 L301.2,71.6 L301.5,81.4 L301.7,90.5 L302.0,98.8 L302.2,106.4 L302.5,113.2 L302.7,119.2 L303.0,123.9 L303.2,128.1 L303.5,130.4 L303.7,132.5 L304.0,134.4 L304.2,136.2 L304.5,137.5 L304.7,138.2 L305.0,139.0 L305.2,139.7 L305.5,140.4 L305.7,141.1 L306.0,141.8 L306.2,142.4 L306.5,143.0 L306.7,143.4 L307.0,143.7 L307.2,143.9 L307.5,144.2 L307.7,144.5 L308.0,144.7 L308.2,145.0 L308.5,145.2 L308.7,145.4 L309.0,145.7 L309.2,145.9 L309.5,146.1 L309.7,146.4 L310.0,146.6 L310.2,146.8 L310.5,147.0 L310.7,147.2 L311.0,147.4 L311.2,147.7 L311.5,147.9 L311.7,148.1 L312.0,148.3 L312.2,148.5 L312.5,148.6 L312.7,148.8 L313.0,148.9 L313.2,148.9 L313.5,149.0 L313.7,149.0 L314.0,149.1 L314.2,149.1 L314.5,149.2 L314.7,149.2 L315.0,149.3 L315.2,149.4 L315.5,149.4 L315.7,149.5 L316.0,149.5 L316.2,149.6 L316.5,149.6 L316.7,149.7 L317.0,149.7 L317.2,149.8 L317.5,149.8 L317.7,149.9 L318.0,149.9 L318.2,150.0 L318.5,150.0 L318.7,150.1 L319.0,150.1 L319.2,150.2 L319.5,150.2 L319.7,150.3 L320.0,150.3 L320.2,150.3 L320.5,150.4 L321.0,150.5 L321.0,154.6 L320.5,154.6 L320.2,154.6 L320.0,154.6 L319.7,154.6 L319.5,154.6 L319.2,154.6 L319.0,154.6 L318.7,154.5 L318.5,154.5 L318.2,154.4 L318.0,154.4 L317.7,154.3 L317.5,154.2 L317.2,154.2 L317.0,154.1 L316.7,154.1 L316.5,154.0 L316.2,153.9 L316.0,153.9 L315.7,153.8 L315.5,153.8 L315.2,153.7 L315.0,153.6 L314.7,153.6 L314.5,153.5 L314.2,153.5 L314.0,153.4 L313.7,153.3 L313.5,153.3 L313.2,153.2 L313.0,153.2 L312.7,153.1 L312.5,153.0 L312.2,153.0 L312.0,152.9 L311.7,152.8 L311.5,152.8 L311.2,152.7 L311.0,152.6 L310.7,152.6 L310.5,152.5 L310.2,152.3 L310.0,152.0 L309.7,151.8 L309.5,151.6 L309.2,151.3 L309.0,151.1 L308.7,150.8 L308.5,150.5 L308.2,150.3 L308.0,150.0 L307.7,149.7 L307.5,149.4 L307.2,149.1 L307.0,148.8 L306.7,148.5 L306.5,148.2 L306.2,147.9 L306.0,147.6 L305.7,147.3 L305.5,147.0 L305.2,146.2 L305.0,145.4 L304.7,144.6 L304.5,143.8 L304.2,142.9 L304.0,142.0 L303.7,141.1 L303.5,139.3 L303.2,137.0 L303.0,134.6 L302.7,131.7 L302.5,126.6 L302.2,120.4 L302.0,112.4 L301.7,103.4 L301.5,93.2 L301.2,81.9 L301.0,69.4 L300.7,56.5 L300.5,42.2Z" fill="#c0a890" fill-opacity="0.4" stroke="none"/>
<path d="M300.5,40.4 L300.7,42.5 L301.0,44.6 L301.2,46.6 L301.5,48.5 L301.7,50.3 L302.0,52.1 L302.2,53.9 L302.5,55.5 L302.7,57.1 L303.0,58.7 L303.2,60.2 L303.5,61.7 L303.7,63.1 L304.0,64.4 L304.2,65.7 L304.5,67.0 L304.7,68.2 L305.0,69.4 L305.2,70.5 L305.5,71.6 L305.7,72.7 L306.0,73.7 L306.2,74.7 L306.5,75.6 L306.7,76.5 L307.0,77.4 L307.2,78.3 L307.5,79.1 L307.7,79.9 L308.0,80.7 L308.2,81.4 L308.5,82.2 L308.7,82.8 L309.0,83.5 L309.2,84.2 L309.5,84.8 L309.7,85.4 L310.0,86.0 L310.2,86.5 L310.5,87.1 L310.7,87.6 L311.0,88.1 L311.2,88.6 L311.5,89.1 L311.7,89.5 L312.0,90.0 L312.2,90.4 L312.5,90.8 L312.7,91.2 L313.0,91.6 L313.2,92.0 L313.5,92.3 L313.7,92.7 L314.0,93.0 L314.2,93.3 L314.5,93.6 L314.7,93.9 L315.0,94.2 L315.2,94.5 L315.5,94.8 L315.7,95.0 L316.0,95.3 L316.2,95.5 L316.5,95.8 L316.7,96.0 L317.0,96.2 L317.2,96.4 L317.5,96.6 L317.7,96.8 L318.0,97.0 L318.2,97.2 L318.5,97.4 L318.7,97.6 L319.0,97.7 L319.2,97.9 L319.5,98.0 L319.7,98.2 L320.0,98.3 L320.2,98.5 L320.5,98.6 L320.7,98.7 L321.0,98.9 L321.2,99.0 L321.5,99.1 L321.7,99.2 L322.0,99.3 L322.2,99.4 L322.5,99.5 L322.7,99.6 L323.0,99.7 L323.2,99.8 L323.5,99.9 L323.7,100.0 L324.0,100.1 L324.2,100.1 L324.5,100.2 L324.7,100.3 L325.0,100.4 L325.2,100.4 L325.5,100.5 L329.8,101.4 L334.2,101.8 L338.6,102.1 L343.0,102.2 L347.3,102.3 L351.7,102.3 L356.1,102.3 L360.4,102.4 L364.8,102.4 L369.2,102.4 L373.6,102.4 L377.9,102.4 L382.3,102.4 L386.7,102.4 L391.0,102.4 L395.4,102.4 L399.8,102.4 L404.1,102.4 L408.5,102.4 L412.9,102.4 L417.3,102.4 L421.6,102.4 L426.0,102.4 L430.4,102.4 L434.7,102.4 L439.1,102.4 L443.5,102.4 L447.9,102.4 L452.2,102.4 L456.6,102.4 L461.0,102.4 L465.3,102.4 L469.7,102.4 L474.1,102.4 L478.4,102.4 L482.8,102.4 L487.2,102.4 L491.6,102.4 L495.9,102.4 L500.3,102.4" fill="none" stroke="#3c4349" stroke-width="1.6" stroke-linejoin="round" stroke-linecap="butt"/>
<path d="M300.5,40.4 L300.7,42.9 L301.0,45.2 L301.2,47.5 L301.5,49.7 L301.7,51.8 L302.0,53.9 L302.2,55.9 L302.5,57.7 L302.7,59.6 L303.0,61.3 L303.2,63.0 L303.5,64.6 L303.7,66.2 L304.0,67.7 L304.2,69.1 L304.5,70.5 L304.7,71.9 L305.0,73.2 L305.2,74.4 L305.5,75.6 L305.7,76.8 L306.0,77.9 L306.2,79.0 L306.5,80.0 L306.7,81.0 L307.0,81.9 L307.2,82.8 L307.5,83.7 L307.7,84.6 L308.0,85.4 L308.2,86.2 L308.5,86.9 L308.7,87.7 L309.0,88.4 L309.2,89.1 L309.5,89.7 L309.7,90.3 L310.0,90.9 L310.2,91.5 L310.5,92.1 L310.7,92.6 L311.0,93.1 L311.2,93.6 L311.5,94.1 L311.7,94.6 L312.0,95.0 L312.2,95.5 L312.5,95.9 L312.7,96.3 L313.0,96.7 L313.2,97.0 L313.5,97.4 L313.7,97.7 L314.0,98.1 L314.2,98.4 L314.5,98.7 L314.7,99.0 L315.0,99.3 L315.2,99.5 L315.5,99.8 L315.7,100.0 L316.0,100.3 L316.2,100.5 L316.5,100.7 L316.7,101.0 L317.0,101.2 L317.2,101.4 L317.5,101.6 L317.7,101.8 L318.0,101.9 L318.2,102.1 L318.5,102.3 L318.7,102.4 L319.0,102.6 L319.2,102.7 L319.5,102.9 L319.7,103.0 L320.0,103.1 L320.2,103.3 L320.5,103.4 L320.7,103.5 L321.0,103.6 L321.2,103.7 L321.5,103.8 L321.7,103.9 L322.0,104.0 L322.2,104.1 L322.5,104.2 L322.7,104.3 L323.0,104.4 L323.2,104.5 L323.5,104.6 L323.7,104.6 L324.0,104.7 L324.2,104.8 L324.5,104.8 L324.7,104.9 L325.0,105.0 L325.2,105.0 L325.5,105.1 L329.8,105.8 L334.2,106.2 L338.6,106.4 L343.0,106.5 L347.3,106.5 L351.7,106.5 L356.1,106.5 L360.4,106.6 L364.8,106.6 L369.2,106.6 L373.6,106.6 L377.9,106.6 L382.3,106.6 L386.7,106.6 L391.0,106.6 L395.4,106.6 L399.8,106.6 L404.1,106.6 L408.5,106.6 L412.9,106.6 L417.3,106.6 L421.6,106.6 L426.0,106.6 L430.4,106.6 L434.7,106.6 L439.1,106.6 L443.5,106.6 L447.9,106.6 L452.2,106.6 L456.6,106.6 L461.0,106.6 L465.3,106.6 L469.7,106.6 L474.1,106.6 L478.4,106.6 L482.8,106.6 L487.2,106.6 L491.6,106.6 L495.9,106.6 L500.3,106.6" fill="none" stroke="#0f4272" stroke-width="1.6" stroke-linejoin="round" stroke-linecap="butt"/>
<path d="M300.5,40.4 L300.7,43.5 L301.0,46.5 L301.2,49.3 L301.5,52.0 L301.7,54.6 L302.0,57.1 L302.2,59.5 L302.5,61.7 L302.7,63.9 L303.0,66.0 L303.2,68.0 L303.5,69.9 L303.7,71.7 L304.0,73.4 L304.2,75.1 L304.5,76.6 L304.7,78.1 L305.0,79.6 L305.2,81.0 L305.5,82.3 L305.7,83.6 L306.0,84.8 L306.2,85.9 L306.5,87.0 L306.7,88.1 L307.0,89.1 L307.2,90.0 L307.5,91.0 L307.7,91.9 L308.0,92.7 L308.2,93.5 L308.5,94.3 L308.7,95.0 L309.0,95.7 L309.2,96.4 L309.5,97.0 L309.7,97.6 L310.0,98.2 L310.2,98.8 L310.5,99.3 L310.7,99.8 L311.0,100.3 L311.2,100.8 L311.5,101.2 L311.7,101.7 L312.0,102.1 L312.2,102.5 L312.5,102.9 L312.7,103.2 L313.0,103.6 L313.2,103.9 L313.5,104.2 L313.7,104.5 L314.0,104.8 L314.2,105.1 L314.5,105.3 L314.7,105.6 L315.0,105.8 L315.2,106.0 L315.5,106.2 L315.7,106.5 L316.0,106.7 L316.2,106.8 L316.5,107.0 L316.7,107.2 L317.0,107.4 L317.2,107.5 L317.5,107.7 L317.7,107.8 L318.0,108.0 L318.2,108.1 L318.5,108.2 L318.7,108.4 L319.0,108.5 L319.2,108.6 L319.5,108.7 L319.7,108.8 L320.0,108.9 L320.2,109.0 L320.5,109.1 L320.7,109.1 L321.0,109.2 L321.2,109.3 L321.5,109.4 L321.7,109.5 L322.0,109.5 L322.2,109.6 L322.5,109.6 L322.7,109.7 L323.0,109.8 L323.2,109.8 L323.5,109.9 L323.7,109.9 L324.0,110.0 L324.2,110.0 L324.5,110.1 L324.7,110.1 L325.0,110.1 L325.2,110.2 L325.5,110.2 L328.6,110.5 L331.7,110.7 L334.8,110.8 L338.0,110.9 L341.1,110.9 L344.2,111.0 L347.3,111.0 L350.4,111.0 L353.6,111.0 L356.7,111.0 L359.8,111.0 L362.9,111.0 L366.1,111.0 L369.2,111.0 L372.3,111.0 L375.4,111.0 L378.5,111.0 L381.7,111.0 L384.8,111.0 L387.9,111.0 L391.0,111.0 L394.2,111.0 L397.3,111.0 L400.4,111.0 L403.5,111.0 L406.6,111.0 L409.8,111.0 L412.9,111.0 L416.0,111.0 L419.1,111.0 L422.3,111.0 L425.4,111.0 L428.5,111.0 L431.6,111.0 L434.7,111.0 L437.9,111.0 L441.0,111.0 L444.1,111.0 L447.2,111.0 L450.4,111.0" fill="none" stroke="#8ccde3" stroke-width="1.6" stroke-linejoin="round" stroke-linecap="butt"/>
<path d="M300.5,40.4 L300.7,44.1 L301.0,47.7 L301.2,51.1 L301.5,54.3 L301.7,57.4 L302.0,60.3 L302.2,63.0 L302.5,65.7 L302.7,68.2 L303.0,70.6 L303.2,72.8 L303.5,75.0 L303.7,77.0 L304.0,79.0 L304.2,80.8 L304.5,82.6 L304.7,84.3 L305.0,85.9 L305.2,87.4 L305.5,88.8 L305.7,90.2 L306.0,91.5 L306.2,92.8 L306.5,93.9 L306.7,95.1 L307.0,96.1 L307.2,97.2 L307.5,98.1 L307.7,99.1 L308.0,99.9 L308.2,100.8 L308.5,101.6 L308.7,102.3 L309.0,103.0 L309.2,103.7 L309.5,104.4 L309.7,105.0 L310.0,105.6 L310.2,106.1 L310.5,106.7 L310.7,107.2 L311.0,107.6 L311.2,108.1 L311.5,108.5 L311.7,109.0 L312.0,109.3 L312.2,109.7 L312.5,110.1 L312.7,110.4 L313.0,110.7 L313.2,111.0 L313.5,111.3 L313.7,111.6 L314.0,111.9 L314.2,112.1 L314.5,112.4 L314.7,112.6 L315.0,112.8 L315.2,113.0 L315.5,113.2 L315.7,113.4 L316.0,113.6 L316.2,113.7 L316.5,113.9 L316.7,114.1 L317.0,114.2 L317.2,114.3 L317.5,114.5 L317.7,114.6 L318.0,114.7 L318.2,114.8 L318.5,114.9 L318.7,115.0 L319.0,115.1 L319.2,115.2 L319.5,115.3 L319.7,115.4 L320.0,115.5 L320.2,115.6 L320.5,115.6 L320.7,115.7 L321.0,115.8 L321.2,115.8 L321.5,115.9 L321.7,115.9 L322.0,116.0 L322.2,116.0 L322.5,116.1 L322.7,116.1 L323.0,116.2 L323.2,116.2 L323.5,116.3 L323.7,116.3 L324.0,116.3 L324.2,116.4 L324.5,116.4 L324.7,116.4 L325.0,116.5 L325.2,116.5 L325.5,116.5 L328.6,116.8 L331.7,116.9 L334.8,117.0 L338.0,117.0 L341.1,117.0 L344.2,117.0 L347.3,117.0 L350.4,117.0 L353.6,117.0 L356.7,117.0 L359.8,117.0 L362.9,117.0 L366.1,117.0 L369.2,117.0 L372.3,117.0 L375.4,117.0 L378.5,117.0 L381.7,117.0 L384.8,117.0 L387.9,117.0 L391.0,117.0 L394.2,117.0 L397.3,117.0 L400.4,117.0 L403.5,117.0 L406.6,117.0 L409.8,117.0 L412.9,117.0 L416.0,117.0 L419.1,117.0 L422.3,117.0 L425.4,117.0 L428.5,117.0 L431.6,117.0 L434.7,117.0 L437.9,117.0 L441.0,117.0 L444.1,117.0 L447.2,117.0 L450.4,117.0" fill="none" stroke="#d9899a" stroke-width="1.6" stroke-linejoin="round" stroke-linecap="butt"/>
<path d="M300.5,40.4 L300.7,46.0 L301.0,51.3 L301.2,56.4 L301.5,62.0 L301.7,67.4 L302.0,72.4 L302.2,76.0 L302.5,79.5 L302.7,82.8 L303.0,86.0 L303.2,87.8 L303.5,89.5 L303.7,91.2 L304.0,92.8 L304.2,94.5 L304.5,96.0 L304.7,97.6 L305.0,99.1 L305.2,100.6 L305.5,102.0 L305.7,102.8 L306.0,103.5 L306.2,104.3 L306.5,105.0 L306.7,105.7 L307.0,106.4 L307.2,107.1 L307.5,107.8 L307.7,108.5 L308.0,109.2 L308.2,109.9 L308.5,110.5 L308.7,111.2 L309.0,111.8 L309.2,112.5 L309.5,113.1 L309.7,113.7 L310.0,114.3 L310.2,115.0 L310.5,115.6 L310.7,116.0 L311.0,116.3 L311.2,116.7 L311.5,117.1 L311.7,117.5 L312.0,117.9 L312.2,118.3 L312.5,118.7 L312.7,119.0 L313.0,119.4 L313.2,119.8 L313.5,120.1 L313.7,120.5 L314.0,120.9 L314.2,121.2 L314.5,121.6 L314.7,121.9 L315.0,122.3 L315.2,122.6 L315.5,122.9 L315.7,123.2 L316.0,123.5 L316.2,123.7 L316.5,124.0 L316.7,124.2 L317.0,124.5 L317.2,124.7 L317.5,125.0 L317.7,125.2 L318.0,125.5 L318.2,125.7 L318.5,126.0 L318.7,126.2 L319.0,126.5 L319.2,126.7 L319.5,126.9 L319.7,127.2 L320.0,127.4 L320.2,127.6 L320.5,127.9 L320.7,128.0 L321.0,128.1 L321.2,128.2 L321.5,128.3 L321.7,128.4 L322.0,128.5 L322.2,128.5 L322.5,128.6 L322.7,128.7 L323.0,128.8 L323.2,128.9 L323.5,129.0 L323.7,129.1 L324.0,129.2 L324.2,129.3 L324.5,129.4 L324.7,129.5 L325.0,129.6 L325.2,129.7 L325.5,129.8 L325.6,129.8 L325.7,129.9 L325.8,129.9 L326.0,130.0 L326.1,130.0 L326.2,130.0 L326.3,130.1 L326.5,130.1 L326.6,130.2 L326.7,130.2 L326.8,130.3 L327.0,130.3 L327.1,130.4 L327.2,130.4 L327.3,130.5 L327.5,130.5 L327.6,130.5 L327.7,130.6 L327.8,130.6 L328.0,130.7 L328.1,130.7 L328.2,130.8 L328.3,130.8 L328.5,130.9 L328.6,130.9 L328.7,130.9 L328.8,131.0 L329.0,131.0 L329.1,131.1 L329.2,131.1 L329.3,131.2 L329.5,131.2 L329.6,131.3 L329.7,131.3 L329.8,131.3 L330.0,131.4 L330.1,131.4 L330.2,131.5 L330.3,131.5 L330.5,131.6" fill="none" stroke="#b8133a" stroke-width="1.6" stroke-linejoin="round" stroke-linecap="butt"/>
<path d="M300.5,40.4 L300.7,53.4 L301.0,65.0 L301.2,76.8 L301.5,87.2 L301.7,97.1 L302.0,105.7 L302.2,113.6 L302.5,120.5 L302.7,125.7 L303.0,130.3 L303.2,132.7 L303.5,135.0 L303.7,137.0 L304.0,139.0 L304.2,139.8 L304.5,140.7 L304.7,141.5 L305.0,142.3 L305.2,143.0 L305.5,143.7 L305.7,144.4 L306.0,145.1 L306.2,145.4 L306.5,145.7 L306.7,146.0 L307.0,146.3 L307.2,146.6 L307.5,146.8 L307.7,147.1 L308.0,147.4 L308.2,147.6 L308.5,147.9 L308.7,148.1 L309.0,148.4 L309.2,148.6 L309.5,148.9 L309.7,149.1 L310.0,149.3 L310.2,149.6 L310.5,149.8 L310.7,150.0 L311.0,150.2 L311.2,150.5 L311.5,150.7 L311.7,150.7 L312.0,150.8 L312.2,150.8 L312.5,150.9 L312.7,151.0 L313.0,151.0 L313.2,151.1 L313.5,151.1 L313.7,151.2 L314.0,151.3 L314.2,151.3 L314.5,151.4 L314.7,151.4 L315.0,151.5 L315.2,151.5 L315.5,151.6 L315.7,151.6 L316.0,151.7 L316.2,151.8 L316.5,151.8 L316.7,151.9 L317.0,151.9 L317.2,152.0 L317.5,152.0 L317.7,152.1 L318.0,152.1 L318.2,152.2 L318.5,152.2 L318.7,152.3 L319.0,152.3 L319.2,152.4 L319.5,152.5 L319.7,152.5 L320.0,152.6 L320.2,152.6 L320.5,152.7 L321.0,152.8" fill="none" stroke="#4e2c12" stroke-width="1.6" stroke-linejoin="round" stroke-linecap="butt"/>
<circle cx="300.5" cy="40.4" r="2.7" fill="#e596a3" fill-opacity="0.8" stroke="#cf7383" stroke-opacity="0.64" stroke-width="0.7"/>
<circle cx="320.5" cy="111.9" r="2.7" fill="#e596a3" fill-opacity="0.8" stroke="#cf7383" stroke-opacity="0.64" stroke-width="0.7"/>
<circle cx="341.5" cy="116.3" r="2.7" fill="#e596a3" fill-opacity="0.8" stroke="#cf7383" stroke-opacity="0.64" stroke-width="0.7"/>
<circle cx="350.4" cy="118.0" r="2.7" fill="#e596a3" fill-opacity="0.8" stroke="#cf7383" stroke-opacity="0.64" stroke-width="0.7"/>
<circle cx="374.4" cy="115.6" r="2.7" fill="#e596a3" fill-opacity="0.8" stroke="#cf7383" stroke-opacity="0.64" stroke-width="0.7"/>
<circle cx="400.4" cy="121.5" r="2.7" fill="#e596a3" fill-opacity="0.8" stroke="#cf7383" stroke-opacity="0.64" stroke-width="0.7"/>
<circle cx="424.4" cy="130.3" r="2.7" fill="#e596a3" fill-opacity="0.8" stroke="#cf7383" stroke-opacity="0.64" stroke-width="0.7"/>
<circle cx="450.4" cy="117.4" r="2.7" fill="#e596a3" fill-opacity="0.8" stroke="#cf7383" stroke-opacity="0.64" stroke-width="0.7"/>
<circle cx="300.5" cy="40.4" r="2.7" fill="#91cde9" fill-opacity="0.8" stroke="#6db6da" stroke-opacity="0.64" stroke-width="0.7"/>
<circle cx="320.5" cy="105.7" r="2.7" fill="#91cde9" fill-opacity="0.8" stroke="#6db6da" stroke-opacity="0.64" stroke-width="0.7"/>
<circle cx="341.5" cy="111.2" r="2.7" fill="#91cde9" fill-opacity="0.8" stroke="#6db6da" stroke-opacity="0.64" stroke-width="0.7"/>
<circle cx="374.4" cy="109.4" r="2.7" fill="#91cde9" fill-opacity="0.8" stroke="#6db6da" stroke-opacity="0.64" stroke-width="0.7"/>
<circle cx="450.4" cy="113.1" r="2.7" fill="#91cde9" fill-opacity="0.8" stroke="#6db6da" stroke-opacity="0.64" stroke-width="0.7"/>
<circle cx="300.5" cy="40.4" r="2.7" fill="#4b545d" fill-opacity="1.0" stroke="#2c3339" stroke-opacity="0.80" stroke-width="0.7"/>
<circle cx="311.0" cy="83.3" r="2.7" fill="#4b545d" fill-opacity="1.0" stroke="#2c3339" stroke-opacity="0.80" stroke-width="0.7"/>
<circle cx="320.5" cy="95.0" r="2.7" fill="#4b545d" fill-opacity="1.0" stroke="#2c3339" stroke-opacity="0.80" stroke-width="0.7"/>
<circle cx="330.5" cy="95.1" r="2.7" fill="#4b545d" fill-opacity="1.0" stroke="#2c3339" stroke-opacity="0.80" stroke-width="0.7"/>
<circle cx="340.5" cy="96.8" r="2.7" fill="#4b545d" fill-opacity="1.0" stroke="#2c3339" stroke-opacity="0.80" stroke-width="0.7"/>
<circle cx="350.4" cy="97.4" r="2.7" fill="#4b545d" fill-opacity="1.0" stroke="#2c3339" stroke-opacity="0.80" stroke-width="0.7"/>
<circle cx="375.4" cy="102.4" r="2.7" fill="#4b545d" fill-opacity="1.0" stroke="#2c3339" stroke-opacity="0.80" stroke-width="0.7"/>
<circle cx="400.4" cy="99.7" r="2.7" fill="#4b545d" fill-opacity="1.0" stroke="#2c3339" stroke-opacity="0.80" stroke-width="0.7"/>
<circle cx="300.5" cy="40.4" r="2.7" fill="#1e5b93" fill-opacity="1.0" stroke="#0b3a66" stroke-opacity="0.80" stroke-width="0.7"/>
<circle cx="310.5" cy="89.1" r="2.7" fill="#1e5b93" fill-opacity="1.0" stroke="#0b3a66" stroke-opacity="0.80" stroke-width="0.7"/>
<circle cx="320.5" cy="99.8" r="2.7" fill="#1e5b93" fill-opacity="1.0" stroke="#0b3a66" stroke-opacity="0.80" stroke-width="0.7"/>
<circle cx="330.5" cy="101.1" r="2.7" fill="#1e5b93" fill-opacity="1.0" stroke="#0b3a66" stroke-opacity="0.80" stroke-width="0.7"/>
<circle cx="340.5" cy="103.2" r="2.7" fill="#1e5b93" fill-opacity="1.0" stroke="#0b3a66" stroke-opacity="0.80" stroke-width="0.7"/>
<circle cx="350.4" cy="103.2" r="2.7" fill="#1e5b93" fill-opacity="1.0" stroke="#0b3a66" stroke-opacity="0.80" stroke-width="0.7"/>
<circle cx="375.4" cy="105.9" r="2.7" fill="#1e5b93" fill-opacity="1.0" stroke="#0b3a66" stroke-opacity="0.80" stroke-width="0.7"/>
<circle cx="400.4" cy="107.2" r="2.7" fill="#1e5b93" fill-opacity="1.0" stroke="#0b3a66" stroke-opacity="0.80" stroke-width="0.7"/>
<circle cx="425.4" cy="108.8" r="2.7" fill="#1e5b93" fill-opacity="1.0" stroke="#0b3a66" stroke-opacity="0.80" stroke-width="0.7"/>
<circle cx="450.4" cy="108.8" r="2.7" fill="#1e5b93" fill-opacity="1.0" stroke="#0b3a66" stroke-opacity="0.80" stroke-width="0.7"/>
<circle cx="500.3" cy="108.8" r="2.7" fill="#1e5b93" fill-opacity="1.0" stroke="#0b3a66" stroke-opacity="0.80" stroke-width="0.7"/>
<circle cx="500.3" cy="111.9" r="2.7" fill="#1e5b93" fill-opacity="1.0" stroke="#0b3a66" stroke-opacity="0.80" stroke-width="0.7"/>
<circle cx="300.5" cy="34.2" r="2.7" fill="#cf1438" fill-opacity="1.0" stroke="#a30d27" stroke-opacity="0.80" stroke-width="0.7"/>
<circle cx="299.0" cy="56.4" r="2.2" fill="#d42a4a" fill-opacity="0.7"/>
<circle cx="299.0" cy="65.0" r="2.2" fill="#d42a4a" fill-opacity="0.7"/>
<circle cx="299.0" cy="74.9" r="2.2" fill="#d42a4a" fill-opacity="0.7"/>
<circle cx="299.0" cy="82.3" r="2.2" fill="#d42a4a" fill-opacity="0.7"/>
<circle cx="301.5" cy="77.4" r="2.7" fill="#cf1438" fill-opacity="1.0" stroke="#a30d27" stroke-opacity="0.80" stroke-width="0.7"/>
<circle cx="303.0" cy="81.9" r="2.7" fill="#cf1438" fill-opacity="1.0" stroke="#a30d27" stroke-opacity="0.80" stroke-width="0.7"/>
<circle cx="304.2" cy="99.3" r="2.7" fill="#cf1438" fill-opacity="1.0" stroke="#a30d27" stroke-opacity="0.80" stroke-width="0.7"/>
<circle cx="305.5" cy="99.4" r="2.7" fill="#cf1438" fill-opacity="1.0" stroke="#a30d27" stroke-opacity="0.80" stroke-width="0.7"/>
<circle cx="306.7" cy="107.5" r="2.7" fill="#cf1438" fill-opacity="1.0" stroke="#a30d27" stroke-opacity="0.80" stroke-width="0.7"/>
<circle cx="308.0" cy="109.6" r="2.7" fill="#cf1438" fill-opacity="1.0" stroke="#a30d27" stroke-opacity="0.80" stroke-width="0.7"/>
<circle cx="309.2" cy="114.1" r="2.7" fill="#cf1438" fill-opacity="1.0" stroke="#a30d27" stroke-opacity="0.80" stroke-width="0.7"/>
<circle cx="310.5" cy="114.0" r="2.7" fill="#cf1438" fill-opacity="1.0" stroke="#a30d27" stroke-opacity="0.80" stroke-width="0.7"/>
<circle cx="311.7" cy="120.3" r="2.7" fill="#cf1438" fill-opacity="1.0" stroke="#a30d27" stroke-opacity="0.80" stroke-width="0.7"/>
<circle cx="313.0" cy="119.6" r="2.7" fill="#cf1438" fill-opacity="1.0" stroke="#a30d27" stroke-opacity="0.80" stroke-width="0.7"/>
<circle cx="314.2" cy="120.3" r="2.7" fill="#cf1438" fill-opacity="1.0" stroke="#a30d27" stroke-opacity="0.80" stroke-width="0.7"/>
<circle cx="315.5" cy="118.4" r="2.7" fill="#cf1438" fill-opacity="1.0" stroke="#a30d27" stroke-opacity="0.80" stroke-width="0.7"/>
<circle cx="316.7" cy="130.2" r="2.7" fill="#cf1438" fill-opacity="1.0" stroke="#a30d27" stroke-opacity="0.80" stroke-width="0.7"/>
<circle cx="318.0" cy="121.7" r="2.7" fill="#cf1438" fill-opacity="1.0" stroke="#a30d27" stroke-opacity="0.80" stroke-width="0.7"/>
<circle cx="320.5" cy="125.5" r="2.7" fill="#cf1438" fill-opacity="1.0" stroke="#a30d27" stroke-opacity="0.80" stroke-width="0.7"/>
<circle cx="323.0" cy="130.0" r="2.7" fill="#cf1438" fill-opacity="1.0" stroke="#a30d27" stroke-opacity="0.80" stroke-width="0.7"/>
<circle cx="325.5" cy="129.0" r="2.7" fill="#cf1438" fill-opacity="1.0" stroke="#a30d27" stroke-opacity="0.80" stroke-width="0.7"/>
<circle cx="330.5" cy="132.7" r="2.7" fill="#cf1438" fill-opacity="1.0" stroke="#a30d27" stroke-opacity="0.80" stroke-width="0.7"/>
<circle cx="308.0" cy="114.3" r="2.7" fill="#cf1438" fill-opacity="1.0" stroke="#a30d27" stroke-opacity="0.80" stroke-width="0.7"/>
<circle cx="313.0" cy="126.6" r="2.7" fill="#cf1438" fill-opacity="1.0" stroke="#a30d27" stroke-opacity="0.80" stroke-width="0.7"/>
<circle cx="315.5" cy="120.5" r="2.7" fill="#cf1438" fill-opacity="1.0" stroke="#a30d27" stroke-opacity="0.80" stroke-width="0.7"/>
<circle cx="300.5" cy="29.3" r="2.7" fill="#5e3a18" fill-opacity="1.0" stroke="#45260c" stroke-opacity="0.80" stroke-width="0.7"/>
<circle cx="300.5" cy="37.9" r="2.7" fill="#5e3a18" fill-opacity="1.0" stroke="#45260c" stroke-opacity="0.80" stroke-width="0.7"/>
<circle cx="300.5" cy="39.2" r="2.7" fill="#5e3a18" fill-opacity="1.0" stroke="#45260c" stroke-opacity="0.80" stroke-width="0.7"/>
<circle cx="301.5" cy="87.1" r="2.7" fill="#5e3a18" fill-opacity="1.0" stroke="#45260c" stroke-opacity="0.80" stroke-width="0.7"/>
<circle cx="302.0" cy="105.9" r="2.7" fill="#5e3a18" fill-opacity="1.0" stroke="#45260c" stroke-opacity="0.80" stroke-width="0.7"/>
<circle cx="302.2" cy="113.8" r="2.7" fill="#5e3a18" fill-opacity="1.0" stroke="#45260c" stroke-opacity="0.80" stroke-width="0.7"/>
<circle cx="302.5" cy="120.6" r="2.7" fill="#5e3a18" fill-opacity="1.0" stroke="#45260c" stroke-opacity="0.80" stroke-width="0.7"/>
<circle cx="302.7" cy="125.9" r="2.7" fill="#5e3a18" fill-opacity="1.0" stroke="#45260c" stroke-opacity="0.80" stroke-width="0.7"/>
<circle cx="303.0" cy="131.0" r="2.7" fill="#5e3a18" fill-opacity="1.0" stroke="#45260c" stroke-opacity="0.80" stroke-width="0.7"/>
<circle cx="303.5" cy="133.4" r="2.7" fill="#5e3a18" fill-opacity="1.0" stroke="#45260c" stroke-opacity="0.80" stroke-width="0.7"/>
<circle cx="304.0" cy="140.4" r="2.7" fill="#5e3a18" fill-opacity="1.0" stroke="#45260c" stroke-opacity="0.80" stroke-width="0.7"/>
<circle cx="304.5" cy="143.3" r="2.7" fill="#5e3a18" fill-opacity="1.0" stroke="#45260c" stroke-opacity="0.80" stroke-width="0.7"/>
<circle cx="305.0" cy="142.4" r="2.7" fill="#5e3a18" fill-opacity="1.0" stroke="#45260c" stroke-opacity="0.80" stroke-width="0.7"/>
<circle cx="305.5" cy="143.9" r="2.7" fill="#5e3a18" fill-opacity="1.0" stroke="#45260c" stroke-opacity="0.80" stroke-width="0.7"/>
<circle cx="306.5" cy="145.4" r="2.7" fill="#5e3a18" fill-opacity="1.0" stroke="#45260c" stroke-opacity="0.80" stroke-width="0.7"/>
<circle cx="307.5" cy="147.0" r="2.7" fill="#5e3a18" fill-opacity="1.0" stroke="#45260c" stroke-opacity="0.80" stroke-width="0.7"/>
<circle cx="308.5" cy="148.0" r="2.7" fill="#5e3a18" fill-opacity="1.0" stroke="#45260c" stroke-opacity="0.80" stroke-width="0.7"/>
<circle cx="309.5" cy="148.6" r="2.7" fill="#5e3a18" fill-opacity="1.0" stroke="#45260c" stroke-opacity="0.80" stroke-width="0.7"/>
<circle cx="310.5" cy="149.1" r="2.7" fill="#5e3a18" fill-opacity="1.0" stroke="#45260c" stroke-opacity="0.80" stroke-width="0.7"/>
<circle cx="312.0" cy="151.1" r="2.7" fill="#5e3a18" fill-opacity="1.0" stroke="#45260c" stroke-opacity="0.80" stroke-width="0.7"/>
<circle cx="313.5" cy="151.4" r="2.7" fill="#5e3a18" fill-opacity="1.0" stroke="#45260c" stroke-opacity="0.80" stroke-width="0.7"/>
<circle cx="315.5" cy="150.2" r="2.7" fill="#5e3a18" fill-opacity="1.0" stroke="#45260c" stroke-opacity="0.80" stroke-width="0.7"/>
<circle cx="317.5" cy="151.6" r="2.7" fill="#5e3a18" fill-opacity="1.0" stroke="#45260c" stroke-opacity="0.80" stroke-width="0.7"/>
<circle cx="319.5" cy="153.2" r="2.7" fill="#5e3a18" fill-opacity="1.0" stroke="#45260c" stroke-opacity="0.80" stroke-width="0.7"/>
<circle cx="321.0" cy="151.0" r="2.7" fill="#5e3a18" fill-opacity="1.0" stroke="#45260c" stroke-opacity="0.80" stroke-width="0.7"/>
<path d="M65.9,208.9 L265.9,208.9" fill="none" stroke="#3c4349" stroke-width="1.5" stroke-linejoin="round" stroke-linecap="butt"/>
<path d="M65.9,208.9 L68.4,212.7 L70.9,216.4 L73.4,219.9 L75.9,223.4 L78.4,226.7 L80.9,230.0 L83.4,233.1 L87.4,237.9 L108.4,259.7 L135.9,280.7 L172.4,299.6 L214.9,313.0 L265.9,322.0" fill="none" stroke="#0f4272" stroke-width="1.5" stroke-linejoin="round" stroke-linecap="butt"/>
<path d="M65.9,208.9 L67.2,214.6 L68.4,220.1 L69.7,225.3 L70.9,230.2 L72.2,234.9 L73.4,239.5 L74.7,243.7 L75.9,247.8 L77.2,251.8 L78.4,255.5 L79.7,259.0 L80.9,262.4 L82.2,265.7 L83.4,268.7 L84.7,271.7 L85.9,274.5 L87.2,277.2 L88.4,279.7 L89.7,282.1 L90.9,284.5 L92.2,286.7 L93.4,288.8 L94.7,290.8 L95.9,292.7 L97.2,294.5 L98.4,296.3 L99.7,297.9 L100.9,299.5 L102.2,301.0 L103.4,302.5 L104.7,303.8 L105.9,305.2 L110.9,309.8 L115.9,313.7 L120.9,316.9 L127.4,320.2 L135.9,323.5 L145.9,326.2 L160.9,328.8 L180.9,330.5 L205.9,331.5 L235.9,331.9 L265.9,332.0" fill="none" stroke="#8ccde3" stroke-width="1.5" stroke-linejoin="round" stroke-linecap="butt"/>
<path d="M65.9,208.9 L66.0,209.7 L66.1,210.4 L66.2,211.2 L66.3,211.9 L66.4,212.7 L66.5,213.4 L66.6,214.1 L66.7,214.9 L66.8,215.6 L66.9,216.3 L67.0,217.0 L67.1,217.7 L67.2,218.4 L67.3,219.1 L67.4,219.8 L67.5,220.5 L67.6,221.2 L67.7,221.9 L67.8,222.6 L67.9,223.3 L68.0,223.9 L68.1,224.6 L68.2,225.3 L68.3,225.9 L68.4,226.6 L68.5,227.2 L68.6,227.9 L68.7,228.5 L68.8,229.2 L68.9,229.8 L69.0,230.4 L69.1,231.1 L69.2,231.7 L69.3,232.3 L69.4,232.9 L69.5,233.5 L69.6,234.2 L69.7,234.8 L69.8,235.4 L69.9,236.0 L70.0,236.6 L70.1,237.1 L70.2,237.7 L70.3,238.3 L70.4,238.9 L70.5,239.5 L70.6,240.0 L70.7,240.6 L70.8,241.2 L70.9,241.7 L71.0,242.3 L71.1,242.9 L71.2,243.4 L71.3,244.0 L71.4,244.5 L71.5,245.0 L71.6,245.6 L71.7,246.1 L71.8,246.6 L71.9,247.2 L72.0,247.7 L72.1,248.2 L72.2,248.7 L72.3,249.3 L72.4,249.8 L72.5,250.3 L72.6,250.8 L72.7,251.3 L72.8,251.8 L72.9,252.3 L73.0,252.8 L73.1,253.3 L73.2,253.7 L73.3,254.2 L73.4,254.7 L73.5,255.2 L73.6,255.7 L73.7,256.1 L73.8,256.6 L73.9,257.1 L74.0,257.5 L74.1,258.0 L74.2,258.5 L74.3,258.9 L74.4,259.4 L74.5,259.8 L74.6,260.3 L74.7,260.7 L74.8,261.1 L74.9,261.6 L75.0,262.0 L75.1,262.5 L75.2,262.9 L75.3,263.3 L75.4,263.7 L75.5,264.2 L75.6,264.6 L75.7,265.0 L75.8,265.4 L75.9,265.8 L76.0,266.2 L76.1,266.6 L76.2,267.0 L76.3,267.4 L76.4,267.8 L76.5,268.2 L76.6,268.6 L76.7,269.0 L76.8,269.4 L76.9,269.8 L77.0,270.2 L77.1,270.6 L77.2,271.0 L77.3,271.3 L77.4,271.7 L77.5,272.1 L77.6,272.5 L77.7,272.8 L77.8,273.2 L77.9,273.6 L78.0,273.9 L78.1,274.3 L78.2,274.6 L78.3,275.0 L78.4,275.3 L78.5,275.7 L78.6,276.0 L78.7,276.4 L78.8,276.7 L78.9,277.1 L79.0,277.4 L79.1,277.8 L79.2,278.1 L79.3,278.4 L79.4,278.8 L79.5,279.1 L79.6,279.4 L79.7,279.7 L79.8,280.1 L79.9,280.4 L80.0,280.7 L80.1,281.0 L80.2,281.3 L80.3,281.6 L80.4,282.0 L80.5,282.3 L80.6,282.6 L80.7,282.9 L80.8,283.2 L80.9,283.5 L81.0,283.8 L81.1,284.1 L81.2,284.4 L81.3,284.7 L81.4,285.0 L81.5,285.3 L81.6,285.6 L81.7,285.8 L81.8,286.1 L81.9,286.4 L82.0,286.7 L82.1,287.0 L82.2,287.3 L82.3,287.5 L82.4,287.8 L82.5,288.1 L82.6,288.4 L82.7,288.6 L82.8,288.9 L82.9,289.2 L83.0,289.4 L83.1,289.7 L83.2,290.0 L83.3,290.2 L83.4,290.5 L83.5,290.7 L83.6,291.0 L83.7,291.2 L83.8,291.5 L83.9,291.7 L84.0,292.0 L84.1,292.2 L84.2,292.5 L84.3,292.7 L84.4,293.0 L84.5,293.2 L84.6,293.5 L84.7,293.7 L84.8,293.9 L84.9,294.2 L85.0,294.4 L85.1,294.6 L85.2,294.9 L85.3,295.1 L85.4,295.3 L85.5,295.6 L85.6,295.8 L85.7,296.0 L85.8,296.2 L85.9,296.4 L86.0,296.7 L86.1,296.9 L86.2,297.1 L86.3,297.3 L86.4,297.5 L86.5,297.7 L86.6,298.0 L86.7,298.2 L86.8,298.4 L86.9,298.6 L87.0,298.8 L87.1,299.0 L87.2,299.2 L87.3,299.4 L87.4,299.6 L87.5,299.8 L87.6,300.0 L87.7,300.2 L87.8,300.4 L87.9,300.6 L88.0,300.8 L88.1,301.0 L88.2,301.2 L88.3,301.4 L88.4,301.6 L88.5,301.8 L88.6,301.9 L88.7,302.1 L88.8,302.3 L88.9,302.5 L89.0,302.7 L89.1,302.9 L89.2,303.0 L89.3,303.2 L89.4,303.4 L89.5,303.6 L89.6,303.8 L89.7,303.9 L89.8,304.1 L89.9,304.3 L90.0,304.5 L90.1,304.6 L90.2,304.8 L90.3,305.0 L90.4,305.1 L90.5,305.3 L90.6,305.5 L90.7,305.6 L90.8,305.8 L90.9,306.0 L92.2,307.9 L93.4,309.7 L94.7,311.4 L95.9,312.9 L97.2,314.4 L98.4,315.7 L99.7,316.9 L100.9,318.0 L102.2,319.1 L103.4,320.1 L104.7,321.0 L105.9,321.8 L107.2,322.6 L108.4,323.3 L109.7,323.9 L110.9,324.5 L112.2,325.1 L113.4,325.6 L114.7,326.1 L115.9,326.5 L117.2,327.0 L118.4,327.3 L119.7,327.7 L120.9,328.0 L122.2,328.3 L123.4,328.6 L124.7,328.9 L125.9,329.1 L127.2,329.3 L128.4,329.5 L129.7,329.7 L130.9,329.9 L132.2,330.1 L133.4,330.2 L134.7,330.4 L135.9,330.5 L137.2,330.6 L138.4,330.7 L139.7,330.8 L140.9,330.9 L142.2,331.0 L143.4,331.1 L144.7,331.2 L145.9,331.2 L147.2,331.3 L148.4,331.4 L149.7,331.4 L150.9,331.5 L152.2,331.5 L153.4,331.6 L154.7,331.6 L155.9,331.6 L157.2,331.7 L158.4,331.7 L159.7,331.7 L160.9,331.8 L162.2,331.8 L163.4,331.8 L164.7,331.8 L165.9,331.8 L167.2,331.9 L168.4,331.9 L169.7,331.9 L170.9,331.9 L172.2,331.9 L173.4,331.9 L174.7,332.0 L175.9,332.0 L177.2,332.0 L178.4,332.0 L179.7,332.0 L180.9,332.0 L182.2,332.0 L183.4,332.0 L184.7,332.0 L185.9,332.0 L187.2,332.0 L188.4,332.0 L189.7,332.0 L190.9,332.0 L192.2,332.1 L193.4,332.1 L194.7,332.1 L195.9,332.1 L197.2,332.1 L198.4,332.1 L199.7,332.1 L200.9,332.1 L202.2,332.1 L203.4,332.1 L204.7,332.1 L205.9,332.1 L207.2,332.1 L208.4,332.1 L209.7,332.1 L210.9,332.1 L212.2,332.1 L213.4,332.1 L214.7,332.1 L215.9,332.1 L217.2,332.1 L218.4,332.1 L219.7,332.1 L220.9,332.1 L222.2,332.1 L223.4,332.1 L224.7,332.1 L225.9,332.1 L227.2,332.1 L228.4,332.1 L229.7,332.1 L230.9,332.1 L232.2,332.1 L233.4,332.1 L234.7,332.1 L235.9,332.1 L237.2,332.1 L238.4,332.1 L239.7,332.1 L240.9,332.1 L242.2,332.1 L243.4,332.1 L244.7,332.1 L245.9,332.1 L247.2,332.1 L248.4,332.1 L249.7,332.1 L250.9,332.1 L252.2,332.1 L253.4,332.1 L254.7,332.1 L255.9,332.1 L257.1,332.1 L258.4,332.1 L259.6,332.1 L260.9,332.1 L262.1,332.1 L263.4,332.1 L264.6,332.1 L265.9,332.1" fill="none" stroke="#d9899a" stroke-width="1.5" stroke-linejoin="round" stroke-linecap="butt"/>
<path d="M65.9,208.9 L66.0,210.4 L66.1,211.9 L66.2,213.4 L66.3,214.9 L66.4,216.3 L66.5,217.7 L66.6,219.1 L66.7,220.5 L66.8,221.9 L66.9,223.3 L67.0,224.6 L67.1,225.9 L67.2,227.2 L67.3,228.5 L67.4,229.8 L67.5,231.1 L67.6,232.3 L67.7,233.5 L67.8,234.8 L67.9,236.0 L68.0,237.1 L68.1,238.3 L68.2,239.5 L68.3,240.6 L68.4,241.7 L68.5,242.9 L68.6,244.0 L68.7,245.0 L68.8,246.1 L68.9,247.2 L69.0,248.2 L69.1,249.3 L69.2,250.3 L69.3,251.3 L69.4,252.3 L69.5,253.3 L69.6,254.2 L69.7,255.2 L69.8,256.1 L69.9,257.1 L70.0,258.0 L70.1,258.9 L70.2,259.8 L70.3,260.7 L70.4,261.6 L70.5,262.5 L70.6,263.3 L70.7,264.2 L70.8,265.0 L70.9,265.8 L71.0,266.6 L71.1,267.4 L71.2,268.2 L71.3,269.0 L71.4,269.8 L71.5,270.6 L71.6,271.3 L71.7,272.1 L71.8,272.8 L71.9,273.6 L72.0,274.3 L72.1,275.0 L72.2,275.7 L72.3,276.4 L72.4,277.1 L72.5,277.8 L72.6,278.4 L72.7,279.1 L72.8,279.7 L72.9,280.4 L73.0,281.0 L73.1,281.6 L73.2,282.3 L73.3,282.9 L73.4,283.5 L73.5,284.1 L73.6,284.7 L73.7,285.3 L73.8,285.8 L73.9,286.4 L74.0,287.0 L74.1,287.5 L74.2,288.1 L74.3,288.6 L74.4,289.2 L74.5,289.7 L74.6,290.2 L74.7,290.7 L74.8,291.2 L74.9,291.7 L75.0,292.2 L75.1,292.7 L75.2,293.2 L75.3,293.7 L75.4,294.2 L75.5,294.6 L75.6,295.1 L75.7,295.6 L75.8,296.0 L75.9,296.4 L76.0,296.9 L76.1,297.3 L76.2,297.7 L76.3,298.2 L76.4,298.6 L76.5,299.0 L76.6,299.4 L76.7,299.8 L76.8,300.2 L76.9,300.6 L77.0,301.0 L77.1,301.4 L77.2,301.8 L77.3,302.1 L77.4,302.5 L77.5,302.9 L77.6,303.2 L77.7,303.6 L77.8,303.9 L77.9,304.3 L78.0,304.6 L78.1,305.0 L78.2,305.3 L78.3,305.6 L78.4,306.0 L78.5,306.3 L78.6,306.6 L78.7,306.9 L78.8,307.2 L78.9,307.5 L79.0,307.8 L79.1,308.1 L79.2,308.4 L79.3,308.7 L79.4,309.0 L79.5,309.3 L79.6,309.6 L79.7,309.8 L79.8,310.1 L79.9,310.4 L80.0,310.7 L80.1,310.9 L80.2,311.2 L80.3,311.4 L80.4,311.7 L80.5,311.9 L80.6,312.2 L80.7,312.4 L80.8,312.7 L80.9,312.9 L81.0,313.2 L81.1,313.4 L81.2,313.6 L81.3,313.8 L81.4,314.1 L81.5,314.3 L81.6,314.5 L81.7,314.7 L81.8,314.9 L81.9,315.2 L82.0,315.4 L82.1,315.6 L82.2,315.8 L82.3,316.0 L82.4,316.2 L82.5,316.4 L82.6,316.6 L82.7,316.8 L82.8,316.9 L82.9,317.1 L83.0,317.3 L83.1,317.5 L83.2,317.7 L83.3,317.9 L83.4,318.0 L83.5,318.2 L83.6,318.4 L83.7,318.5 L83.8,318.7 L83.9,318.9 L84.0,319.0 L84.1,319.2 L84.2,319.4 L84.3,319.5 L84.4,319.7 L84.5,319.8 L84.6,320.0 L84.7,320.1 L84.8,320.3 L84.9,320.4 L85.0,320.6 L85.1,320.7 L85.2,320.8 L85.3,321.0 L85.4,321.1 L85.5,321.3 L85.6,321.4 L85.7,321.5 L85.8,321.7 L85.9,321.8 L86.0,321.9 L86.1,322.0 L86.2,322.2 L86.3,322.3 L86.4,322.4 L86.5,322.5 L86.6,322.6 L86.7,322.8 L86.8,322.9 L86.9,323.0 L87.0,323.1 L87.1,323.2 L87.2,323.3 L87.3,323.4 L87.4,323.5 L87.5,323.6 L87.6,323.7 L87.7,323.8 L87.8,323.9 L87.9,324.0 L88.0,324.1 L88.1,324.2 L88.2,324.3 L88.3,324.4 L88.4,324.5 L88.5,324.6 L88.6,324.7 L88.7,324.8 L88.8,324.9 L88.9,325.0 L89.0,325.1 L89.1,325.2 L89.2,325.2 L89.3,325.3 L89.4,325.4 L89.5,325.5 L89.6,325.6 L89.7,325.7 L89.8,325.7 L89.9,325.8 L90.0,325.9 L90.1,326.0 L90.2,326.0 L90.3,326.1 L90.4,326.2 L90.5,326.3 L90.6,326.3 L90.7,326.4 L90.8,326.5 L90.9,326.5 L92.2,327.3 L93.4,328.0 L94.7,328.6 L95.9,329.1 L97.2,329.5 L98.4,329.9 L99.7,330.2 L100.9,330.5 L102.2,330.7 L103.4,330.9 L104.7,331.1 L105.9,331.2 L107.2,331.4 L108.4,331.5 L109.7,331.6 L110.9,331.6 L112.2,331.7 L113.4,331.8 L114.7,331.8 L115.9,331.8 L117.2,331.9 L118.4,331.9 L119.7,331.9 L120.9,332.0 L122.2,332.0 L123.4,332.0 L124.7,332.0 L125.9,332.0 L127.2,332.0 L128.4,332.0 L129.7,332.1 L130.9,332.1 L132.2,332.1 L133.4,332.1 L134.7,332.1 L135.9,332.1 L137.2,332.1 L138.4,332.1 L139.7,332.1 L140.9,332.1 L142.2,332.1 L143.4,332.1 L144.7,332.1 L145.9,332.1 L147.2,332.1 L148.4,332.1 L149.7,332.1 L150.9,332.1 L152.2,332.1 L153.4,332.1 L154.7,332.1 L155.9,332.1 L157.2,332.1 L158.4,332.1 L159.7,332.1 L160.9,332.1 L162.2,332.1 L163.4,332.1 L164.7,332.1 L165.9,332.1 L167.2,332.1 L168.4,332.1 L169.7,332.1 L170.9,332.1 L172.2,332.1 L173.4,332.1 L174.7,332.1 L175.9,332.1 L177.2,332.1 L178.4,332.1 L179.7,332.1 L180.9,332.1 L182.2,332.1 L183.4,332.1 L184.7,332.1 L185.9,332.1 L187.2,332.1 L188.4,332.1 L189.7,332.1 L190.9,332.1 L192.2,332.1 L193.4,332.1 L194.7,332.1 L195.9,332.1 L197.2,332.1 L198.4,332.1 L199.7,332.1 L200.9,332.1 L202.2,332.1 L203.4,332.1 L204.7,332.1 L205.9,332.1 L207.2,332.1 L208.4,332.1 L209.7,332.1 L210.9,332.1 L212.2,332.1 L213.4,332.1 L214.7,332.1 L215.9,332.1 L217.2,332.1 L218.4,332.1 L219.7,332.1 L220.9,332.1 L222.2,332.1 L223.4,332.1 L224.7,332.1 L225.9,332.1 L227.2,332.1 L228.4,332.1 L229.7,332.1 L230.9,332.1 L232.2,332.1 L233.4,332.1 L234.7,332.1 L235.9,332.1 L237.2,332.1 L238.4,332.1 L239.7,332.1 L240.9,332.1 L242.2,332.1 L243.4,332.1 L244.7,332.1 L245.9,332.1 L247.2,332.1 L248.4,332.1 L249.7,332.1 L250.9,332.1 L252.2,332.1 L253.4,332.1 L254.7,332.1 L255.9,332.1 L257.1,332.1 L258.4,332.1 L259.6,332.1 L260.9,332.1 L262.1,332.1 L263.4,332.1 L264.6,332.1 L265.9,332.1" fill="none" stroke="#b8133a" stroke-width="1.5" stroke-linejoin="round" stroke-linecap="butt"/>
<path d="M65.9,208.9 L66.0,213.8 L66.1,218.6 L66.2,223.2 L66.3,227.5 L66.4,231.7 L66.5,235.8 L66.6,239.6 L66.7,243.4 L66.8,246.9 L66.9,250.3 L67.0,253.6 L67.1,256.8 L67.2,259.8 L67.3,262.7 L67.4,265.5 L67.5,268.2 L67.6,270.7 L67.7,273.2 L67.8,275.6 L67.9,277.8 L68.0,280.0 L68.1,282.1 L68.2,284.1 L68.3,286.0 L68.4,287.9 L68.5,289.7 L68.6,291.4 L68.7,293.0 L68.8,294.6 L68.9,296.1 L69.0,297.5 L69.1,298.9 L69.2,300.3 L69.3,301.5 L69.4,302.8 L69.5,303.9 L69.6,305.1 L69.7,306.2 L69.8,307.2 L69.9,308.2 L70.0,309.2 L70.1,310.1 L70.2,311.0 L70.3,311.8 L70.4,312.6 L70.5,313.4 L70.6,314.2 L70.7,314.9 L70.8,315.6 L70.9,316.2 L71.0,316.9 L71.1,317.5 L71.2,318.1 L71.3,318.6 L71.4,319.2 L71.5,319.7 L71.6,320.2 L71.7,320.7 L71.8,321.1 L71.9,321.6 L72.0,322.0 L72.1,322.4 L72.2,322.8 L72.3,323.2 L72.4,323.5 L72.5,323.9 L72.6,324.2 L72.7,324.5 L72.8,324.8 L72.9,325.1 L73.0,325.4 L73.1,325.7 L73.2,325.9 L73.3,326.2 L73.4,326.4 L73.5,326.6 L73.6,326.9 L73.7,327.1 L73.8,327.3 L73.9,327.5 L74.0,327.7 L74.1,327.8 L74.2,328.0 L74.3,328.2 L74.4,328.3 L74.5,328.5 L74.6,328.6 L74.7,328.8 L74.8,328.9 L74.9,329.0 L75.0,329.1 L75.1,329.3 L75.2,329.4 L75.3,329.5 L75.4,329.6 L75.5,329.7 L75.6,329.8 L75.7,329.9 L75.8,330.0 L75.9,330.1 L76.0,330.1 L76.1,330.2 L76.2,330.3 L76.3,330.4 L76.4,330.4 L76.5,330.5 L76.6,330.6 L76.7,330.6 L76.8,330.7 L76.9,330.7 L77.0,330.8 L77.1,330.9 L77.2,330.9 L77.3,330.9 L77.4,331.0 L77.5,331.0 L77.6,331.1 L77.7,331.1 L77.8,331.2 L77.9,331.2 L78.0,331.2 L78.1,331.3 L78.2,331.3 L78.3,331.3 L78.4,331.4 L78.5,331.4 L78.6,331.4 L78.7,331.5 L78.8,331.5 L78.9,331.5 L79.0,331.5 L79.1,331.6 L79.2,331.6 L79.3,331.6 L79.4,331.6 L79.5,331.6 L79.6,331.7 L79.7,331.7 L79.8,331.7 L79.9,331.7 L80.0,331.7 L80.1,331.7 L80.2,331.7 L80.3,331.8 L80.4,331.8 L80.5,331.8 L80.6,331.8 L80.7,331.8 L80.8,331.8 L80.9,331.8 L81.0,331.8 L81.1,331.9 L81.2,331.9 L81.3,331.9 L81.4,331.9 L81.5,331.9 L81.6,331.9 L81.7,331.9 L81.8,331.9 L81.9,331.9 L82.0,331.9 L82.1,331.9 L82.2,331.9 L82.3,332.0 L82.4,332.0 L82.5,332.0 L82.6,332.0 L82.7,332.0 L82.8,332.0 L82.9,332.0 L83.0,332.0 L83.1,332.0 L83.2,332.0 L83.3,332.0 L83.4,332.0 L83.5,332.0 L83.6,332.0 L83.7,332.0 L83.8,332.0 L83.9,332.0 L84.0,332.0 L84.1,332.0 L84.2,332.0 L84.3,332.0 L84.4,332.0 L84.5,332.0 L84.6,332.0 L84.7,332.0 L84.8,332.0 L84.9,332.0 L85.0,332.1 L85.1,332.1 L85.2,332.1 L85.3,332.1 L85.4,332.1 L85.5,332.1 L85.6,332.1 L85.7,332.1 L85.8,332.1 L85.9,332.1 L86.0,332.1 L86.1,332.1 L86.2,332.1 L86.3,332.1 L86.4,332.1 L86.5,332.1 L86.6,332.1 L86.7,332.1 L86.8,332.1 L86.9,332.1 L87.0,332.1 L87.1,332.1 L87.2,332.1 L87.3,332.1 L87.4,332.1 L87.5,332.1 L87.6,332.1 L87.7,332.1 L87.8,332.1 L87.9,332.1 L88.0,332.1 L88.1,332.1 L88.2,332.1 L88.3,332.1 L88.4,332.1 L88.5,332.1 L88.6,332.1 L88.7,332.1 L88.8,332.1 L88.9,332.1 L89.0,332.1 L89.1,332.1 L89.2,332.1 L89.3,332.1 L89.4,332.1 L89.5,332.1 L89.6,332.1 L89.7,332.1 L89.8,332.1 L89.9,332.1 L90.0,332.1 L90.1,332.1 L90.2,332.1 L90.3,332.1 L90.4,332.1 L90.5,332.1 L90.6,332.1 L90.7,332.1 L90.8,332.1 L90.9,332.1 L92.2,332.1 L93.4,332.1 L94.7,332.1 L95.9,332.1 L97.2,332.1 L98.4,332.1 L99.7,332.1 L100.9,332.1 L102.2,332.1 L103.4,332.1 L104.7,332.1 L105.9,332.1 L107.2,332.1 L108.4,332.1 L109.7,332.1 L110.9,332.1 L112.2,332.1 L113.4,332.1 L114.7,332.1 L115.9,332.1 L117.2,332.1 L118.4,332.1 L119.7,332.1 L120.9,332.1 L122.2,332.1 L123.4,332.1 L124.7,332.1 L125.9,332.1 L127.2,332.1 L128.4,332.1 L129.7,332.1 L130.9,332.1 L132.2,332.1 L133.4,332.1 L134.7,332.1 L135.9,332.1 L137.2,332.1 L138.4,332.1 L139.7,332.1 L140.9,332.1 L142.2,332.1 L143.4,332.1 L144.7,332.1 L145.9,332.1 L147.2,332.1 L148.4,332.1 L149.7,332.1 L150.9,332.1 L152.2,332.1 L153.4,332.1 L154.7,332.1 L155.9,332.1 L157.2,332.1 L158.4,332.1 L159.7,332.1 L160.9,332.1 L162.2,332.1 L163.4,332.1 L164.7,332.1 L165.9,332.1 L167.2,332.1 L168.4,332.1 L169.7,332.1 L170.9,332.1 L172.2,332.1 L173.4,332.1 L174.7,332.1 L175.9,332.1 L177.2,332.1 L178.4,332.1 L179.7,332.1 L180.9,332.1 L182.2,332.1 L183.4,332.1 L184.7,332.1 L185.9,332.1 L187.2,332.1 L188.4,332.1 L189.7,332.1 L190.9,332.1 L192.2,332.1 L193.4,332.1 L194.7,332.1 L195.9,332.1 L197.2,332.1 L198.4,332.1 L199.7,332.1 L200.9,332.1 L202.2,332.1 L203.4,332.1 L204.7,332.1 L205.9,332.1 L207.2,332.1 L208.4,332.1 L209.7,332.1 L210.9,332.1 L212.2,332.1 L213.4,332.1 L214.7,332.1 L215.9,332.1 L217.2,332.1 L218.4,332.1 L219.7,332.1 L220.9,332.1 L222.2,332.1 L223.4,332.1 L224.7,332.1 L225.9,332.1 L227.2,332.1 L228.4,332.1 L229.7,332.1 L230.9,332.1 L232.2,332.1 L233.4,332.1 L234.7,332.1 L235.9,332.1 L237.2,332.1 L238.4,332.1 L239.7,332.1 L240.9,332.1 L242.2,332.1 L243.4,332.1 L244.7,332.1 L245.9,332.1 L247.2,332.1 L248.4,332.1 L249.7,332.1 L250.9,332.1 L252.2,332.1 L253.4,332.1 L254.7,332.1 L255.9,332.1 L257.1,332.1 L258.4,332.1 L259.6,332.1 L260.9,332.1 L262.1,332.1 L263.4,332.1 L264.6,332.1 L265.9,332.1" fill="none" stroke="#4e2c12" stroke-width="1.5" stroke-linejoin="round" stroke-linecap="butt"/>
<path d="M65.9,377.4 L265.9,377.4" fill="none" stroke="#3c4349" stroke-width="1.5" stroke-linejoin="round" stroke-linecap="butt"/>
<path d="M65.9,377.4 L68.4,381.2 L70.9,384.9 L73.4,388.4 L75.9,391.9 L78.4,395.2 L80.9,398.5 L83.4,401.6 L87.4,406.4 L108.4,428.2 L135.9,449.2 L172.4,468.1 L214.9,481.5 L265.9,490.5" fill="none" stroke="#0f4272" stroke-width="1.5" stroke-linejoin="round" stroke-linecap="butt"/>
<path d="M65.9,377.4 L67.2,383.1 L68.4,388.6 L69.7,393.8 L70.9,398.7 L72.2,403.4 L73.4,408.0 L74.7,412.2 L75.9,416.3 L77.2,420.3 L78.4,424.0 L79.7,427.5 L80.9,430.9 L82.2,434.2 L83.4,437.2 L84.7,440.2 L85.9,443.0 L87.2,445.7 L88.4,448.2 L89.7,450.6 L90.9,453.0 L92.2,455.2 L93.4,457.3 L94.7,459.3 L95.9,461.2 L97.2,463.0 L98.4,464.8 L99.7,466.4 L100.9,468.0 L102.2,469.5 L103.4,471.0 L104.7,472.3 L105.9,473.7 L110.9,478.3 L115.9,482.2 L120.9,485.4 L127.4,488.7 L135.9,492.0 L145.9,494.7 L160.9,497.3 L180.9,499.0 L205.9,500.0 L235.9,500.4 L265.9,500.5" fill="none" stroke="#8ccde3" stroke-width="1.5" stroke-linejoin="round" stroke-linecap="butt"/>
<path d="M65.9,377.4 L66.0,378.2 L66.1,378.9 L66.2,379.7 L66.3,380.4 L66.4,381.2 L66.5,381.9 L66.6,382.6 L66.7,383.4 L66.8,384.1 L66.9,384.8 L67.0,385.5 L67.1,386.2 L67.2,386.9 L67.3,387.6 L67.4,388.3 L67.5,389.0 L67.6,389.7 L67.7,390.4 L67.8,391.1 L67.9,391.8 L68.0,392.4 L68.1,393.1 L68.2,393.8 L68.3,394.4 L68.4,395.1 L68.5,395.7 L68.6,396.4 L68.7,397.0 L68.8,397.7 L68.9,398.3 L69.0,398.9 L69.1,399.6 L69.2,400.2 L69.3,400.8 L69.4,401.4 L69.5,402.0 L69.6,402.7 L69.7,403.3 L69.8,403.9 L69.9,404.5 L70.0,405.1 L70.1,405.6 L70.2,406.2 L70.3,406.8 L70.4,407.4 L70.5,408.0 L70.6,408.5 L70.7,409.1 L70.8,409.7 L70.9,410.2 L71.0,410.8 L71.1,411.4 L71.2,411.9 L71.3,412.5 L71.4,413.0 L71.5,413.5 L71.6,414.1 L71.7,414.6 L71.8,415.1 L71.9,415.7 L72.0,416.2 L72.1,416.7 L72.2,417.2 L72.3,417.8 L72.4,418.3 L72.5,418.8 L72.6,419.3 L72.7,419.8 L72.8,420.3 L72.9,420.8 L73.0,421.3 L73.1,421.8 L73.2,422.2 L73.3,422.7 L73.4,423.2 L73.5,423.7 L73.6,424.2 L73.7,424.6 L73.8,425.1 L73.9,425.6 L74.0,426.0 L74.1,426.5 L74.2,427.0 L74.3,427.4 L74.4,427.9 L74.5,428.3 L74.6,428.8 L74.7,429.2 L74.8,429.6 L74.9,430.1 L75.0,430.5 L75.1,431.0 L75.2,431.4 L75.3,431.8 L75.4,432.2 L75.5,432.7 L75.6,433.1 L75.7,433.5 L75.8,433.9 L75.9,434.3 L76.0,434.7 L76.1,435.1 L76.2,435.5 L76.3,435.9 L76.4,436.3 L76.5,436.7 L76.6,437.1 L76.7,437.5 L76.8,437.9 L76.9,438.3 L77.0,438.7 L77.1,439.1 L77.2,439.5 L77.3,439.8 L77.4,440.2 L77.5,440.6 L77.6,441.0 L77.7,441.3 L77.8,441.7 L77.9,442.1 L78.0,442.4 L78.1,442.8 L78.2,443.1 L78.3,443.5 L78.4,443.8 L78.5,444.2 L78.6,444.5 L78.7,444.9 L78.8,445.2 L78.9,445.6 L79.0,445.9 L79.1,446.3 L79.2,446.6 L79.3,446.9 L79.4,447.3 L79.5,447.6 L79.6,447.9 L79.7,448.2 L79.8,448.6 L79.9,448.9 L80.0,449.2 L80.1,449.5 L80.2,449.8 L80.3,450.1 L80.4,450.5 L80.5,450.8 L80.6,451.1 L80.7,451.4 L80.8,451.7 L80.9,452.0 L81.0,452.3 L81.1,452.6 L81.2,452.9 L81.3,453.2 L81.4,453.5 L81.5,453.8 L81.6,454.1 L81.7,454.3 L81.8,454.6 L81.9,454.9 L82.0,455.2 L82.1,455.5 L82.2,455.8 L82.3,456.0 L82.4,456.3 L82.5,456.6 L82.6,456.9 L82.7,457.1 L82.8,457.4 L82.9,457.7 L83.0,457.9 L83.1,458.2 L83.2,458.5 L83.3,458.7 L83.4,459.0 L83.5,459.2 L83.6,459.5 L83.7,459.7 L83.8,460.0 L83.9,460.2 L84.0,460.5 L84.1,460.7 L84.2,461.0 L84.3,461.2 L84.4,461.5 L84.5,461.7 L84.6,462.0 L84.7,462.2 L84.8,462.4 L84.9,462.7 L85.0,462.9 L85.1,463.1 L85.2,463.4 L85.3,463.6 L85.4,463.8 L85.5,464.1 L85.6,464.3 L85.7,464.5 L85.8,464.7 L85.9,464.9 L86.0,465.2 L86.1,465.4 L86.2,465.6 L86.3,465.8 L86.4,466.0 L86.5,466.2 L86.6,466.5 L86.7,466.7 L86.8,466.9 L86.9,467.1 L87.0,467.3 L87.1,467.5 L87.2,467.7 L87.3,467.9 L87.4,468.1 L87.5,468.3 L87.6,468.5 L87.7,468.7 L87.8,468.9 L87.9,469.1 L88.0,469.3 L88.1,469.5 L88.2,469.7 L88.3,469.9 L88.4,470.1 L88.5,470.3 L88.6,470.4 L88.7,470.6 L88.8,470.8 L88.9,471.0 L89.0,471.2 L89.1,471.4 L89.2,471.5 L89.3,471.7 L89.4,471.9 L89.5,472.1 L89.6,472.3 L89.7,472.4 L89.8,472.6 L89.9,472.8 L90.0,473.0 L90.1,473.1 L90.2,473.3 L90.3,473.5 L90.4,473.6 L90.5,473.8 L90.6,474.0 L90.7,474.1 L90.8,474.3 L90.9,474.5 L92.2,476.4 L93.4,478.2 L94.7,479.9 L95.9,481.4 L97.2,482.9 L98.4,484.2 L99.7,485.4 L100.9,486.5 L102.2,487.6 L103.4,488.6 L104.7,489.5 L105.9,490.3 L107.2,491.1 L108.4,491.8 L109.7,492.4 L110.9,493.0 L112.2,493.6 L113.4,494.1 L114.7,494.6 L115.9,495.0 L117.2,495.5 L118.4,495.8 L119.7,496.2 L120.9,496.5 L122.2,496.8 L123.4,497.1 L124.7,497.4 L125.9,497.6 L127.2,497.8 L128.4,498.0 L129.7,498.2 L130.9,498.4 L132.2,498.6 L133.4,498.7 L134.7,498.9 L135.9,499.0 L137.2,499.1 L138.4,499.2 L139.7,499.3 L140.9,499.4 L142.2,499.5 L143.4,499.6 L144.7,499.7 L145.9,499.7 L147.2,499.8 L148.4,499.9 L149.7,499.9 L150.9,500.0 L152.2,500.0 L153.4,500.1 L154.7,500.1 L155.9,500.1 L157.2,500.2 L158.4,500.2 L159.7,500.2 L160.9,500.3 L162.2,500.3 L163.4,500.3 L164.7,500.3 L165.9,500.3 L167.2,500.4 L168.4,500.4 L169.7,500.4 L170.9,500.4 L172.2,500.4 L173.4,500.4 L174.7,500.5 L175.9,500.5 L177.2,500.5 L178.4,500.5 L179.7,500.5 L180.9,500.5 L182.2,500.5 L183.4,500.5 L184.7,500.5 L185.9,500.5 L187.2,500.5 L188.4,500.5 L189.7,500.5 L190.9,500.5 L192.2,500.6 L193.4,500.6 L194.7,500.6 L195.9,500.6 L197.2,500.6 L198.4,500.6 L199.7,500.6 L200.9,500.6 L202.2,500.6 L203.4,500.6 L204.7,500.6 L205.9,500.6 L207.2,500.6 L208.4,500.6 L209.7,500.6 L210.9,500.6 L212.2,500.6 L213.4,500.6 L214.7,500.6 L215.9,500.6 L217.2,500.6 L218.4,500.6 L219.7,500.6 L220.9,500.6 L222.2,500.6 L223.4,500.6 L224.7,500.6 L225.9,500.6 L227.2,500.6 L228.4,500.6 L229.7,500.6 L230.9,500.6 L232.2,500.6 L233.4,500.6 L234.7,500.6 L235.9,500.6 L237.2,500.6 L238.4,500.6 L239.7,500.6 L240.9,500.6 L242.2,500.6 L243.4,500.6 L244.7,500.6 L245.9,500.6 L247.2,500.6 L248.4,500.6 L249.7,500.6 L250.9,500.6 L252.2,500.6 L253.4,500.6 L254.7,500.6 L255.9,500.6 L257.1,500.6 L258.4,500.6 L259.6,500.6 L260.9,500.6 L262.1,500.6 L263.4,500.6 L264.6,500.6 L265.9,500.6" fill="none" stroke="#d9899a" stroke-width="1.5" stroke-linejoin="round" stroke-linecap="butt"/>
<path d="M65.9,377.4 L66.0,378.9 L66.1,380.4 L66.2,381.9 L66.3,383.4 L66.4,384.8 L66.5,386.2 L66.6,387.6 L66.7,389.0 L66.8,390.4 L66.9,391.8 L67.0,393.1 L67.1,394.4 L67.2,395.7 L67.3,397.0 L67.4,398.3 L67.5,399.6 L67.6,400.8 L67.7,402.0 L67.8,403.3 L67.9,404.5 L68.0,405.6 L68.1,406.8 L68.2,408.0 L68.3,409.1 L68.4,410.2 L68.5,411.4 L68.6,412.5 L68.7,413.5 L68.8,414.6 L68.9,415.7 L69.0,416.7 L69.1,417.8 L69.2,418.8 L69.3,419.8 L69.4,420.8 L69.5,421.8 L69.6,422.7 L69.7,423.7 L69.8,424.6 L69.9,425.6 L70.0,426.5 L70.1,427.4 L70.2,428.3 L70.3,429.2 L70.4,430.1 L70.5,431.0 L70.6,431.8 L70.7,432.7 L70.8,433.5 L70.9,434.3 L71.0,435.1 L71.1,435.9 L71.2,436.7 L71.3,437.5 L71.4,438.3 L71.5,439.1 L71.6,439.8 L71.7,440.6 L71.8,441.3 L71.9,442.1 L72.0,442.8 L72.1,443.5 L72.2,444.2 L72.3,444.9 L72.4,445.6 L72.5,446.3 L72.6,446.9 L72.7,447.6 L72.8,448.2 L72.9,448.9 L73.0,449.5 L73.1,450.1 L73.2,450.8 L73.3,451.4 L73.4,452.0 L73.5,452.6 L73.6,453.2 L73.7,453.8 L73.8,454.3 L73.9,454.9 L74.0,455.5 L74.1,456.0 L74.2,456.6 L74.3,457.1 L74.4,457.7 L74.5,458.2 L74.6,458.7 L74.7,459.2 L74.8,459.7 L74.9,460.2 L75.0,460.7 L75.1,461.2 L75.2,461.7 L75.3,462.2 L75.4,462.7 L75.5,463.1 L75.6,463.6 L75.7,464.1 L75.8,464.5 L75.9,464.9 L76.0,465.4 L76.1,465.8 L76.2,466.2 L76.3,466.7 L76.4,467.1 L76.5,467.5 L76.6,467.9 L76.7,468.3 L76.8,468.7 L76.9,469.1 L77.0,469.5 L77.1,469.9 L77.2,470.3 L77.3,470.6 L77.4,471.0 L77.5,471.4 L77.6,471.7 L77.7,472.1 L77.8,472.4 L77.9,472.8 L78.0,473.1 L78.1,473.5 L78.2,473.8 L78.3,474.1 L78.4,474.5 L78.5,474.8 L78.6,475.1 L78.7,475.4 L78.8,475.7 L78.9,476.0 L79.0,476.3 L79.1,476.6 L79.2,476.9 L79.3,477.2 L79.4,477.5 L79.5,477.8 L79.6,478.1 L79.7,478.3 L79.8,478.6 L79.9,478.9 L80.0,479.2 L80.1,479.4 L80.2,479.7 L80.3,479.9 L80.4,480.2 L80.5,480.4 L80.6,480.7 L80.7,480.9 L80.8,481.2 L80.9,481.4 L81.0,481.7 L81.1,481.9 L81.2,482.1 L81.3,482.3 L81.4,482.6 L81.5,482.8 L81.6,483.0 L81.7,483.2 L81.8,483.4 L81.9,483.7 L82.0,483.9 L82.1,484.1 L82.2,484.3 L82.3,484.5 L82.4,484.7 L82.5,484.9 L82.6,485.1 L82.7,485.3 L82.8,485.4 L82.9,485.6 L83.0,485.8 L83.1,486.0 L83.2,486.2 L83.3,486.4 L83.4,486.5 L83.5,486.7 L83.6,486.9 L83.7,487.0 L83.8,487.2 L83.9,487.4 L84.0,487.5 L84.1,487.7 L84.2,487.9 L84.3,488.0 L84.4,488.2 L84.5,488.3 L84.6,488.5 L84.7,488.6 L84.8,488.8 L84.9,488.9 L85.0,489.1 L85.1,489.2 L85.2,489.3 L85.3,489.5 L85.4,489.6 L85.5,489.8 L85.6,489.9 L85.7,490.0 L85.8,490.2 L85.9,490.3 L86.0,490.4 L86.1,490.5 L86.2,490.7 L86.3,490.8 L86.4,490.9 L86.5,491.0 L86.6,491.1 L86.7,491.3 L86.8,491.4 L86.9,491.5 L87.0,491.6 L87.1,491.7 L87.2,491.8 L87.3,491.9 L87.4,492.0 L87.5,492.1 L87.6,492.2 L87.7,492.3 L87.8,492.4 L87.9,492.5 L88.0,492.6 L88.1,492.7 L88.2,492.8 L88.3,492.9 L88.4,493.0 L88.5,493.1 L88.6,493.2 L88.7,493.3 L88.8,493.4 L88.9,493.5 L89.0,493.6 L89.1,493.7 L89.2,493.7 L89.3,493.8 L89.4,493.9 L89.5,494.0 L89.6,494.1 L89.7,494.2 L89.8,494.2 L89.9,494.3 L90.0,494.4 L90.1,494.5 L90.2,494.5 L90.3,494.6 L90.4,494.7 L90.5,494.8 L90.6,494.8 L90.7,494.9 L90.8,495.0 L90.9,495.0 L92.2,495.8 L93.4,496.5 L94.7,497.1 L95.9,497.6 L97.2,498.0 L98.4,498.4 L99.7,498.7 L100.9,499.0 L102.2,499.2 L103.4,499.4 L104.7,499.6 L105.9,499.7 L107.2,499.9 L108.4,500.0 L109.7,500.1 L110.9,500.1 L112.2,500.2 L113.4,500.3 L114.7,500.3 L115.9,500.3 L117.2,500.4 L118.4,500.4 L119.7,500.4 L120.9,500.5 L122.2,500.5 L123.4,500.5 L124.7,500.5 L125.9,500.5 L127.2,500.5 L128.4,500.5 L129.7,500.6 L130.9,500.6 L132.2,500.6 L133.4,500.6 L134.7,500.6 L135.9,500.6 L137.2,500.6 L138.4,500.6 L139.7,500.6 L140.9,500.6 L142.2,500.6 L143.4,500.6 L144.7,500.6 L145.9,500.6 L147.2,500.6 L148.4,500.6 L149.7,500.6 L150.9,500.6 L152.2,500.6 L153.4,500.6 L154.7,500.6 L155.9,500.6 L157.2,500.6 L158.4,500.6 L159.7,500.6 L160.9,500.6 L162.2,500.6 L163.4,500.6 L164.7,500.6 L165.9,500.6 L167.2,500.6 L168.4,500.6 L169.7,500.6 L170.9,500.6 L172.2,500.6 L173.4,500.6 L174.7,500.6 L175.9,500.6 L177.2,500.6 L178.4,500.6 L179.7,500.6 L180.9,500.6 L182.2,500.6 L183.4,500.6 L184.7,500.6 L185.9,500.6 L187.2,500.6 L188.4,500.6 L189.7,500.6 L190.9,500.6 L192.2,500.6 L193.4,500.6 L194.7,500.6 L195.9,500.6 L197.2,500.6 L198.4,500.6 L199.7,500.6 L200.9,500.6 L202.2,500.6 L203.4,500.6 L204.7,500.6 L205.9,500.6 L207.2,500.6 L208.4,500.6 L209.7,500.6 L210.9,500.6 L212.2,500.6 L213.4,500.6 L214.7,500.6 L215.9,500.6 L217.2,500.6 L218.4,500.6 L219.7,500.6 L220.9,500.6 L222.2,500.6 L223.4,500.6 L224.7,500.6 L225.9,500.6 L227.2,500.6 L228.4,500.6 L229.7,500.6 L230.9,500.6 L232.2,500.6 L233.4,500.6 L234.7,500.6 L235.9,500.6 L237.2,500.6 L238.4,500.6 L239.7,500.6 L240.9,500.6 L242.2,500.6 L243.4,500.6 L244.7,500.6 L245.9,500.6 L247.2,500.6 L248.4,500.6 L249.7,500.6 L250.9,500.6 L252.2,500.6 L253.4,500.6 L254.7,500.6 L255.9,500.6 L257.1,500.6 L258.4,500.6 L259.6,500.6 L260.9,500.6 L262.1,500.6 L263.4,500.6 L264.6,500.6 L265.9,500.6" fill="none" stroke="#b8133a" stroke-width="1.5" stroke-linejoin="round" stroke-linecap="butt"/>
<path d="M65.9,377.4 L66.0,382.3 L66.1,387.1 L66.2,391.7 L66.3,396.0 L66.4,400.2 L66.5,404.3 L66.6,408.1 L66.7,411.9 L66.8,415.4 L66.9,418.8 L67.0,422.1 L67.1,425.3 L67.2,428.3 L67.3,431.2 L67.4,434.0 L67.5,436.7 L67.6,439.2 L67.7,441.7 L67.8,444.1 L67.9,446.3 L68.0,448.5 L68.1,450.6 L68.2,452.6 L68.3,454.5 L68.4,456.4 L68.5,458.2 L68.6,459.9 L68.7,461.5 L68.8,463.1 L68.9,464.6 L69.0,466.0 L69.1,467.4 L69.2,468.8 L69.3,470.0 L69.4,471.3 L69.5,472.4 L69.6,473.6 L69.7,474.7 L69.8,475.7 L69.9,476.7 L70.0,477.7 L70.1,478.6 L70.2,479.5 L70.3,480.3 L70.4,481.1 L70.5,481.9 L70.6,482.7 L70.7,483.4 L70.8,484.1 L70.9,484.7 L71.0,485.4 L71.1,486.0 L71.2,486.6 L71.3,487.1 L71.4,487.7 L71.5,488.2 L71.6,488.7 L71.7,489.2 L71.8,489.6 L71.9,490.1 L72.0,490.5 L72.1,490.9 L72.2,491.3 L72.3,491.7 L72.4,492.0 L72.5,492.4 L72.6,492.7 L72.7,493.0 L72.8,493.3 L72.9,493.6 L73.0,493.9 L73.1,494.2 L73.2,494.4 L73.3,494.7 L73.4,494.9 L73.5,495.1 L73.6,495.4 L73.7,495.6 L73.8,495.8 L73.9,496.0 L74.0,496.2 L74.1,496.3 L74.2,496.5 L74.3,496.7 L74.4,496.8 L74.5,497.0 L74.6,497.1 L74.7,497.3 L74.8,497.4 L74.9,497.5 L75.0,497.6 L75.1,497.8 L75.2,497.9 L75.3,498.0 L75.4,498.1 L75.5,498.2 L75.6,498.3 L75.7,498.4 L75.8,498.5 L75.9,498.6 L76.0,498.6 L76.1,498.7 L76.2,498.8 L76.3,498.9 L76.4,498.9 L76.5,499.0 L76.6,499.1 L76.7,499.1 L76.8,499.2 L76.9,499.2 L77.0,499.3 L77.1,499.4 L77.2,499.4 L77.3,499.4 L77.4,499.5 L77.5,499.5 L77.6,499.6 L77.7,499.6 L77.8,499.7 L77.9,499.7 L78.0,499.7 L78.1,499.8 L78.2,499.8 L78.3,499.8 L78.4,499.9 L78.5,499.9 L78.6,499.9 L78.7,500.0 L78.8,500.0 L78.9,500.0 L79.0,500.0 L79.1,500.1 L79.2,500.1 L79.3,500.1 L79.4,500.1 L79.5,500.1 L79.6,500.2 L79.7,500.2 L79.8,500.2 L79.9,500.2 L80.0,500.2 L80.1,500.2 L80.2,500.2 L80.3,500.3 L80.4,500.3 L80.5,500.3 L80.6,500.3 L80.7,500.3 L80.8,500.3 L80.9,500.3 L81.0,500.3 L81.1,500.4 L81.2,500.4 L81.3,500.4 L81.4,500.4 L81.5,500.4 L81.6,500.4 L81.7,500.4 L81.8,500.4 L81.9,500.4 L82.0,500.4 L82.1,500.4 L82.2,500.4 L82.3,500.5 L82.4,500.5 L82.5,500.5 L82.6,500.5 L82.7,500.5 L82.8,500.5 L82.9,500.5 L83.0,500.5 L83.1,500.5 L83.2,500.5 L83.3,500.5 L83.4,500.5 L83.5,500.5 L83.6,500.5 L83.7,500.5 L83.8,500.5 L83.9,500.5 L84.0,500.5 L84.1,500.5 L84.2,500.5 L84.3,500.5 L84.4,500.5 L84.5,500.5 L84.6,500.5 L84.7,500.5 L84.8,500.5 L84.9,500.5 L85.0,500.6 L85.1,500.6 L85.2,500.6 L85.3,500.6 L85.4,500.6 L85.5,500.6 L85.6,500.6 L85.7,500.6 L85.8,500.6 L85.9,500.6 L86.0,500.6 L86.1,500.6 L86.2,500.6 L86.3,500.6 L86.4,500.6 L86.5,500.6 L86.6,500.6 L86.7,500.6 L86.8,500.6 L86.9,500.6 L87.0,500.6 L87.1,500.6 L87.2,500.6 L87.3,500.6 L87.4,500.6 L87.5,500.6 L87.6,500.6 L87.7,500.6 L87.8,500.6 L87.9,500.6 L88.0,500.6 L88.1,500.6 L88.2,500.6 L88.3,500.6 L88.4,500.6 L88.5,500.6 L88.6,500.6 L88.7,500.6 L88.8,500.6 L88.9,500.6 L89.0,500.6 L89.1,500.6 L89.2,500.6 L89.3,500.6 L89.4,500.6 L89.5,500.6 L89.6,500.6 L89.7,500.6 L89.8,500.6 L89.9,500.6 L90.0,500.6 L90.1,500.6 L90.2,500.6 L90.3,500.6 L90.4,500.6 L90.5,500.6 L90.6,500.6 L90.7,500.6 L90.8,500.6 L90.9,500.6 L92.2,500.6 L93.4,500.6 L94.7,500.6 L95.9,500.6 L97.2,500.6 L98.4,500.6 L99.7,500.6 L100.9,500.6 L102.2,500.6 L103.4,500.6 L104.7,500.6 L105.9,500.6 L107.2,500.6 L108.4,500.6 L109.7,500.6 L110.9,500.6 L112.2,500.6 L113.4,500.6 L114.7,500.6 L115.9,500.6 L117.2,500.6 L118.4,500.6 L119.7,500.6 L120.9,500.6 L122.2,500.6 L123.4,500.6 L124.7,500.6 L125.9,500.6 L127.2,500.6 L128.4,500.6 L129.7,500.6 L130.9,500.6 L132.2,500.6 L133.4,500.6 L134.7,500.6 L135.9,500.6 L137.2,500.6 L138.4,500.6 L139.7,500.6 L140.9,500.6 L142.2,500.6 L143.4,500.6 L144.7,500.6 L145.9,500.6 L147.2,500.6 L148.4,500.6 L149.7,500.6 L150.9,500.6 L152.2,500.6 L153.4,500.6 L154.7,500.6 L155.9,500.6 L157.2,500.6 L158.4,500.6 L159.7,500.6 L160.9,500.6 L162.2,500.6 L163.4,500.6 L164.7,500.6 L165.9,500.6 L167.2,500.6 L168.4,500.6 L169.7,500.6 L170.9,500.6 L172.2,500.6 L173.4,500.6 L174.7,500.6 L175.9,500.6 L177.2,500.6 L178.4,500.6 L179.7,500.6 L180.9,500.6 L182.2,500.6 L183.4,500.6 L184.7,500.6 L185.9,500.6 L187.2,500.6 L188.4,500.6 L189.7,500.6 L190.9,500.6 L192.2,500.6 L193.4,500.6 L194.7,500.6 L195.9,500.6 L197.2,500.6 L198.4,500.6 L199.7,500.6 L200.9,500.6 L202.2,500.6 L203.4,500.6 L204.7,500.6 L205.9,500.6 L207.2,500.6 L208.4,500.6 L209.7,500.6 L210.9,500.6 L212.2,500.6 L213.4,500.6 L214.7,500.6 L215.9,500.6 L217.2,500.6 L218.4,500.6 L219.7,500.6 L220.9,500.6 L222.2,500.6 L223.4,500.6 L224.7,500.6 L225.9,500.6 L227.2,500.6 L228.4,500.6 L229.7,500.6 L230.9,500.6 L232.2,500.6 L233.4,500.6 L234.7,500.6 L235.9,500.6 L237.2,500.6 L238.4,500.6 L239.7,500.6 L240.9,500.6 L242.2,500.6 L243.4,500.6 L244.7,500.6 L245.9,500.6 L247.2,500.6 L248.4,500.6 L249.7,500.6 L250.9,500.6 L252.2,500.6 L253.4,500.6 L254.7,500.6 L255.9,500.6 L257.1,500.6 L258.4,500.6 L259.6,500.6 L260.9,500.6 L262.1,500.6 L263.4,500.6 L264.6,500.6 L265.9,500.6" fill="none" stroke="#4e2c12" stroke-width="1.5" stroke-linejoin="round" stroke-linecap="butt"/>
<path d="M300.5,208.9 L300.6,210.2 L300.7,211.5 L300.8,212.8 L300.9,214.1 L301.0,215.3 L301.1,216.5 L301.2,217.7 L301.3,218.8 L301.4,220.0 L301.5,221.1 L301.6,222.2 L301.7,223.3 L301.8,224.4 L301.9,225.4 L302.0,226.4 L302.1,227.5 L302.2,228.5 L302.3,229.4 L302.4,230.4 L302.5,231.3 L302.6,232.2 L302.7,233.2 L302.8,234.0 L302.9,234.9 L303.0,235.8 L303.1,236.6 L303.2,237.4 L303.3,238.3 L303.4,239.1 L303.5,239.8 L303.6,240.6 L303.7,241.4 L303.8,242.1 L303.9,242.8 L304.0,243.6 L304.1,244.3 L304.2,245.0 L304.3,245.6 L304.4,246.3 L304.5,247.0 L304.6,247.6 L304.7,248.2 L304.8,248.9 L304.9,249.5 L305.0,250.1 L305.1,250.7 L305.2,251.2 L305.3,251.8 L305.4,252.4 L305.5,252.9 L305.6,253.5 L305.7,254.0 L305.8,254.5 L305.9,255.0 L306.0,255.5 L306.1,256.0 L306.2,256.5 L306.3,257.0 L306.4,257.4 L306.5,257.9 L306.6,258.3 L306.7,258.8 L306.8,259.2 L306.9,259.6 L307.0,260.0 L307.1,260.5 L307.2,260.9 L307.3,261.3 L307.4,261.6 L307.5,262.0 L307.6,262.4 L307.7,262.8 L307.8,263.1 L307.9,263.5 L308.0,263.8 L308.1,264.2 L308.2,264.5 L308.3,264.9 L308.4,265.2 L308.5,265.5 L308.6,265.8 L308.7,266.1 L308.8,266.4 L308.9,266.7 L309.0,267.0 L309.1,267.3 L309.2,267.6 L309.3,267.9 L309.4,268.1 L309.5,268.4 L309.6,268.7 L309.7,268.9 L309.8,269.2 L309.9,269.4 L310.0,269.7 L310.1,269.9 L310.2,270.1 L310.3,270.4 L310.4,270.6 L310.5,270.8 L310.6,271.0 L310.7,271.2 L310.8,271.5 L310.9,271.7 L311.0,271.9 L311.1,272.1 L311.2,272.3 L311.3,272.5 L311.4,272.6 L311.5,272.8 L311.6,273.0 L311.7,273.2 L311.8,273.4 L311.9,273.5 L312.0,273.7 L312.1,273.9 L312.2,274.0 L312.3,274.2 L312.4,274.4 L312.5,274.5 L312.6,274.7 L312.7,274.8 L312.8,275.0 L312.9,275.1 L313.0,275.2 L313.1,275.4 L313.2,275.5 L313.3,275.7 L313.4,275.8 L313.5,275.9 L313.6,276.0 L313.7,276.2 L313.8,276.3 L313.9,276.4 L314.0,276.5 L314.1,276.7 L314.2,276.8 L314.3,276.9 L314.4,277.0 L314.5,277.1 L314.6,277.2 L314.7,277.3 L314.8,277.4 L314.9,277.5 L315.0,277.6 L315.1,277.7 L315.2,277.8 L315.3,277.9 L315.4,278.0 L315.5,278.1 L315.6,278.2 L315.7,278.3 L315.8,278.3 L315.9,278.4 L316.0,278.5 L316.1,278.6 L316.2,278.7 L316.3,278.8 L316.4,278.8 L316.5,278.9 L316.6,279.0 L316.7,279.1 L316.8,279.1 L316.9,279.2 L317.0,279.3 L317.1,279.3 L317.2,279.4 L317.3,279.5 L317.4,279.5 L317.5,279.6 L317.6,279.7 L317.7,279.7 L317.8,279.8 L317.9,279.8 L318.0,279.9 L318.1,279.9 L318.2,280.0 L318.3,280.1 L318.4,280.1 L318.5,280.2 L318.6,280.2 L318.7,280.3 L318.8,280.3 L318.9,280.4 L319.0,280.4 L319.1,280.5 L319.2,280.5 L319.3,280.6 L319.4,280.6 L319.5,280.6 L319.6,280.7 L319.7,280.7 L319.8,280.8 L319.9,280.8 L320.0,280.8 L320.1,280.9 L320.2,280.9 L320.3,281.0 L320.4,281.0 L320.5,281.0 L320.6,281.1 L320.7,281.1 L320.8,281.1 L320.9,281.2 L321.0,281.2 L321.1,281.2 L321.2,281.3 L321.3,281.3 L321.4,281.3 L321.5,281.4 L321.6,281.4 L321.7,281.4 L321.8,281.5 L321.9,281.5 L322.0,281.5 L322.1,281.5 L322.2,281.6 L322.3,281.6 L322.4,281.6 L322.5,281.7 L322.6,281.7 L322.7,281.7 L322.8,281.7 L322.9,281.8 L323.0,281.8 L323.1,281.8 L323.2,281.8 L323.3,281.8 L323.4,281.9 L323.5,281.9 L323.6,281.9 L323.7,281.9 L323.8,281.9 L323.9,282.0 L324.0,282.0 L324.1,282.0 L324.2,282.0 L324.3,282.0 L324.4,282.1 L324.5,282.1 L324.6,282.1 L324.7,282.1 L324.8,282.1 L324.9,282.1 L325.0,282.2 L325.1,282.2 L325.2,282.2 L325.3,282.2 L325.4,282.2 L325.5,282.2 L326.7,282.4 L328.0,282.5 L329.2,282.6 L330.5,282.7 L331.7,282.8 L333.0,282.9 L334.2,282.9 L335.5,282.9 L336.7,283.0 L338.0,283.0 L339.2,283.0 L340.5,283.0 L341.7,283.0 L343.0,283.0 L344.2,283.0 L345.5,283.0 L346.7,283.0 L348.0,283.1 L349.2,283.1 L350.4,283.1 L351.7,283.1 L352.9,283.1 L354.2,283.1 L355.4,283.1 L356.7,283.1 L357.9,283.1 L359.2,283.1 L360.4,283.1 L361.7,283.1 L362.9,283.1 L364.2,283.1 L365.4,283.1 L366.7,283.1 L367.9,283.1 L369.2,283.1 L370.4,283.1 L371.7,283.1 L372.9,283.1 L374.2,283.1 L375.4,283.1 L376.7,283.1 L377.9,283.1 L379.2,283.1 L380.4,283.1 L381.7,283.1 L382.9,283.1 L384.2,283.1 L385.4,283.1 L386.7,283.1 L387.9,283.1 L389.2,283.1 L390.4,283.1 L391.7,283.1 L392.9,283.1 L394.2,283.1 L395.4,283.1 L396.7,283.1 L397.9,283.1 L399.2,283.1 L400.4,283.1 L401.6,283.1 L402.9,283.1 L404.1,283.1 L405.4,283.1 L406.6,283.1 L407.9,283.1 L409.1,283.1 L410.4,283.1 L411.6,283.1 L412.9,283.1 L414.1,283.1 L415.4,283.1 L416.6,283.1 L417.9,283.1 L419.1,283.1 L420.4,283.1 L421.6,283.1 L422.9,283.1 L424.1,283.1 L425.4,283.1 L426.6,283.1 L427.9,283.1 L429.1,283.1 L430.4,283.1 L431.6,283.1 L432.9,283.1 L434.1,283.1 L435.4,283.1 L436.6,283.1 L437.9,283.1 L439.1,283.1 L440.4,283.1 L441.6,283.1 L442.9,283.1 L444.1,283.1 L445.4,283.1 L446.6,283.1 L447.9,283.1 L449.1,283.1 L450.4,283.1 L451.6,283.1 L452.8,283.1 L454.1,283.1 L455.3,283.1 L456.6,283.1 L457.8,283.1 L459.1,283.1 L460.3,283.1 L461.6,283.1 L462.8,283.1 L464.1,283.1 L465.3,283.1 L466.6,283.1 L467.8,283.1 L469.1,283.1 L470.3,283.1 L471.6,283.1 L472.8,283.1 L474.1,283.1 L475.3,283.1 L476.6,283.1 L477.8,283.1 L479.1,283.1 L480.3,283.1 L481.6,283.1 L482.8,283.1 L484.1,283.1 L485.3,283.1 L486.6,283.1 L487.8,283.1 L489.1,283.1 L490.3,283.1 L491.6,283.1 L492.8,283.1 L494.1,283.1 L495.3,283.1 L496.6,283.1 L497.8,283.1 L499.1,283.1 L500.3,283.1" fill="none" stroke="#3c4349" stroke-width="1.5" stroke-linejoin="round" stroke-linecap="butt"/>
<path d="M300.5,208.9 L300.6,210.4 L300.7,212.0 L300.8,213.4 L300.9,214.9 L301.0,216.3 L301.1,217.7 L301.2,219.1 L301.3,220.4 L301.4,221.7 L301.5,223.0 L301.6,224.3 L301.7,225.5 L301.8,226.8 L301.9,227.9 L302.0,229.1 L302.1,230.3 L302.2,231.4 L302.3,232.5 L302.4,233.6 L302.5,234.6 L302.6,235.6 L302.7,236.7 L302.8,237.7 L302.9,238.6 L303.0,239.6 L303.1,240.5 L303.2,241.4 L303.3,242.3 L303.4,243.2 L303.5,244.1 L303.6,244.9 L303.7,245.8 L303.8,246.6 L303.9,247.4 L304.0,248.2 L304.1,248.9 L304.2,249.7 L304.3,250.4 L304.4,251.1 L304.5,251.8 L304.6,252.5 L304.7,253.2 L304.8,253.9 L304.9,254.5 L305.0,255.2 L305.1,255.8 L305.2,256.4 L305.3,257.0 L305.4,257.6 L305.5,258.2 L305.6,258.8 L305.7,259.3 L305.8,259.9 L305.9,260.4 L306.0,260.9 L306.1,261.4 L306.2,261.9 L306.3,262.4 L306.4,262.9 L306.5,263.4 L306.6,263.9 L306.7,264.3 L306.8,264.8 L306.9,265.2 L307.0,265.6 L307.1,266.1 L307.2,266.5 L307.3,266.9 L307.4,267.3 L307.5,267.7 L307.6,268.0 L307.7,268.4 L307.8,268.8 L307.9,269.1 L308.0,269.5 L308.1,269.8 L308.2,270.2 L308.3,270.5 L308.4,270.8 L308.5,271.1 L308.6,271.5 L308.7,271.8 L308.8,272.1 L308.9,272.4 L309.0,272.6 L309.1,272.9 L309.2,273.2 L309.3,273.5 L309.4,273.7 L309.5,274.0 L309.6,274.2 L309.7,274.5 L309.8,274.7 L309.9,275.0 L310.0,275.2 L310.1,275.5 L310.2,275.7 L310.3,275.9 L310.4,276.1 L310.5,276.3 L310.6,276.5 L310.7,276.7 L310.8,276.9 L310.9,277.1 L311.0,277.3 L311.1,277.5 L311.2,277.7 L311.3,277.9 L311.4,278.1 L311.5,278.2 L311.6,278.4 L311.7,278.6 L311.8,278.7 L311.9,278.9 L312.0,279.1 L312.1,279.2 L312.2,279.4 L312.3,279.5 L312.4,279.7 L312.5,279.8 L312.6,280.0 L312.7,280.1 L312.8,280.2 L312.9,280.4 L313.0,280.5 L313.1,280.6 L313.2,280.7 L313.3,280.9 L313.4,281.0 L313.5,281.1 L313.6,281.2 L313.7,281.3 L313.8,281.4 L313.9,281.5 L314.0,281.6 L314.1,281.7 L314.2,281.9 L314.3,281.9 L314.4,282.0 L314.5,282.1 L314.6,282.2 L314.7,282.3 L314.8,282.4 L314.9,282.5 L315.0,282.6 L315.1,282.7 L315.2,282.8 L315.3,282.8 L315.4,282.9 L315.5,283.0 L315.6,283.1 L315.7,283.2 L315.8,283.2 L315.9,283.3 L316.0,283.4 L316.1,283.4 L316.2,283.5 L316.3,283.6 L316.4,283.6 L316.5,283.7 L316.6,283.8 L316.7,283.8 L316.8,283.9 L316.9,284.0 L317.0,284.0 L317.1,284.1 L317.2,284.1 L317.3,284.2 L317.4,284.2 L317.5,284.3 L317.6,284.3 L317.7,284.4 L317.8,284.4 L317.9,284.5 L318.0,284.5 L318.1,284.6 L318.2,284.6 L318.3,284.7 L318.4,284.7 L318.5,284.8 L318.6,284.8 L318.7,284.8 L318.8,284.9 L318.9,284.9 L319.0,285.0 L319.1,285.0 L319.2,285.0 L319.3,285.1 L319.4,285.1 L319.5,285.1 L319.6,285.2 L319.7,285.2 L319.8,285.2 L319.9,285.3 L320.0,285.3 L320.1,285.3 L320.2,285.4 L320.3,285.4 L320.4,285.4 L320.5,285.5 L320.6,285.5 L320.7,285.5 L320.8,285.5 L320.9,285.6 L321.0,285.6 L321.1,285.6 L321.2,285.6 L321.3,285.7 L321.4,285.7 L321.5,285.7 L321.6,285.7 L321.7,285.8 L321.8,285.8 L321.9,285.8 L322.0,285.8 L322.1,285.8 L322.2,285.9 L322.3,285.9 L322.4,285.9 L322.5,285.9 L322.6,285.9 L322.7,286.0 L322.8,286.0 L322.9,286.0 L323.0,286.0 L323.1,286.0 L323.2,286.1 L323.3,286.1 L323.4,286.1 L323.5,286.1 L323.6,286.1 L323.7,286.1 L323.8,286.1 L323.9,286.2 L324.0,286.2 L324.1,286.2 L324.2,286.2 L324.3,286.2 L324.4,286.2 L324.5,286.2 L324.6,286.3 L324.7,286.3 L324.8,286.3 L324.9,286.3 L325.0,286.3 L325.1,286.3 L325.2,286.3 L325.3,286.3 L325.4,286.3 L325.5,286.4 L326.7,286.5 L328.0,286.6 L329.2,286.6 L330.5,286.7 L331.7,286.7 L333.0,286.8 L334.2,286.8 L335.5,286.8 L336.7,286.8 L338.0,286.8 L339.2,286.9 L340.5,286.9 L341.7,286.9 L343.0,286.9 L344.2,286.9 L345.5,286.9 L346.7,286.9 L348.0,286.9 L349.2,286.9 L350.4,286.9 L351.7,286.9 L352.9,286.9 L354.2,286.9 L355.4,286.9 L356.7,286.9 L357.9,286.9 L359.2,286.9 L360.4,286.9 L361.7,286.9 L362.9,286.9 L364.2,286.9 L365.4,286.9 L366.7,286.9 L367.9,286.9 L369.2,286.9 L370.4,286.9 L371.7,286.9 L372.9,286.9 L374.2,286.9 L375.4,286.9 L376.7,286.9 L377.9,286.9 L379.2,286.9 L380.4,286.9 L381.7,286.9 L382.9,286.9 L384.2,286.9 L385.4,286.9 L386.7,286.9 L387.9,286.9 L389.2,286.9 L390.4,286.9 L391.7,286.9 L392.9,286.9 L394.2,286.9 L395.4,286.9 L396.7,286.9 L397.9,286.9 L399.2,286.9 L400.4,286.9 L401.6,286.9 L402.9,286.9 L404.1,286.9 L405.4,286.9 L406.6,286.9 L407.9,286.9 L409.1,286.9 L410.4,286.9 L411.6,286.9 L412.9,286.9 L414.1,286.9 L415.4,286.9 L416.6,286.9 L417.9,286.9 L419.1,286.9 L420.4,286.9 L421.6,286.9 L422.9,286.9 L424.1,286.9 L425.4,286.9 L426.6,286.9 L427.9,286.9 L429.1,286.9 L430.4,286.9 L431.6,286.9 L432.9,286.9 L434.1,286.9 L435.4,286.9 L436.6,286.9 L437.9,286.9 L439.1,286.9 L440.4,286.9 L441.6,286.9 L442.9,286.9 L444.1,286.9 L445.4,286.9 L446.6,286.9 L447.9,286.9 L449.1,286.9 L450.4,286.9 L451.6,286.9 L452.8,286.9 L454.1,286.9 L455.3,286.9 L456.6,286.9 L457.8,286.9 L459.1,286.9 L460.3,286.9 L461.6,286.9 L462.8,286.9 L464.1,286.9 L465.3,286.9 L466.6,286.9 L467.8,286.9 L469.1,286.9 L470.3,286.9 L471.6,286.9 L472.8,286.9 L474.1,286.9 L475.3,286.9 L476.6,286.9 L477.8,286.9 L479.1,286.9 L480.3,286.9 L481.6,286.9 L482.8,286.9 L484.1,286.9 L485.3,286.9 L486.6,286.9 L487.8,286.9 L489.1,286.9 L490.3,286.9 L491.6,286.9 L492.8,286.9 L494.1,286.9 L495.3,286.9 L496.6,286.9 L497.8,286.9 L499.1,286.9 L500.3,286.9" fill="none" stroke="#0f4272" stroke-width="1.5" stroke-linejoin="round" stroke-linecap="butt"/>
<path d="M300.5,208.9 L300.6,210.9 L300.7,212.8 L300.8,214.7 L300.9,216.6 L301.0,218.4 L301.1,220.1 L301.2,221.9 L301.3,223.5 L301.4,225.2 L301.5,226.8 L301.6,228.3 L301.7,229.9 L301.8,231.4 L301.9,232.8 L302.0,234.2 L302.1,235.6 L302.2,237.0 L302.3,238.3 L302.4,239.6 L302.5,240.8 L302.6,242.1 L302.7,243.3 L302.8,244.4 L302.9,245.6 L303.0,246.7 L303.1,247.8 L303.2,248.9 L303.3,249.9 L303.4,250.9 L303.5,251.9 L303.6,252.9 L303.7,253.8 L303.8,254.7 L303.9,255.6 L304.0,256.5 L304.1,257.4 L304.2,258.2 L304.3,259.0 L304.4,259.8 L304.5,260.6 L304.6,261.4 L304.7,262.1 L304.8,262.8 L304.9,263.5 L305.0,264.2 L305.1,264.9 L305.2,265.6 L305.3,266.2 L305.4,266.8 L305.5,267.4 L305.6,268.0 L305.7,268.6 L305.8,269.2 L305.9,269.8 L306.0,270.3 L306.1,270.8 L306.2,271.3 L306.3,271.9 L306.4,272.3 L306.5,272.8 L306.6,273.3 L306.7,273.8 L306.8,274.2 L306.9,274.6 L307.0,275.1 L307.1,275.5 L307.2,275.9 L307.3,276.3 L307.4,276.7 L307.5,277.1 L307.6,277.4 L307.7,277.8 L307.8,278.1 L307.9,278.5 L308.0,278.8 L308.1,279.2 L308.2,279.5 L308.3,279.8 L308.4,280.1 L308.5,280.4 L308.6,280.7 L308.7,281.0 L308.8,281.2 L308.9,281.5 L309.0,281.8 L309.1,282.0 L309.2,282.3 L309.3,282.5 L309.4,282.8 L309.5,283.0 L309.6,283.2 L309.7,283.5 L309.8,283.7 L309.9,283.9 L310.0,284.1 L310.1,284.3 L310.2,284.5 L310.3,284.7 L310.4,284.9 L310.5,285.1 L310.6,285.3 L310.7,285.4 L310.8,285.6 L310.9,285.8 L311.0,285.9 L311.1,286.1 L311.2,286.3 L311.3,286.4 L311.4,286.6 L311.5,286.7 L311.6,286.8 L311.7,287.0 L311.8,287.1 L311.9,287.2 L312.0,287.4 L312.1,287.5 L312.2,287.6 L312.3,287.7 L312.4,287.9 L312.5,288.0 L312.6,288.1 L312.7,288.2 L312.8,288.3 L312.9,288.4 L313.0,288.5 L313.1,288.6 L313.2,288.7 L313.3,288.8 L313.4,288.9 L313.5,289.0 L313.6,289.1 L313.7,289.2 L313.8,289.2 L313.9,289.3 L314.0,289.4 L314.1,289.5 L314.2,289.5 L314.3,289.6 L314.4,289.7 L314.5,289.8 L314.6,289.8 L314.7,289.9 L314.8,290.0 L314.9,290.0 L315.0,290.1 L315.1,290.2 L315.2,290.2 L315.3,290.3 L315.4,290.3 L315.5,290.4 L315.6,290.4 L315.7,290.5 L315.8,290.5 L315.9,290.6 L316.0,290.6 L316.1,290.7 L316.2,290.7 L316.3,290.8 L316.4,290.8 L316.5,290.9 L316.6,290.9 L316.7,291.0 L316.8,291.0 L316.9,291.0 L317.0,291.1 L317.1,291.1 L317.2,291.2 L317.3,291.2 L317.4,291.2 L317.5,291.3 L317.6,291.3 L317.7,291.3 L317.8,291.4 L317.9,291.4 L318.0,291.4 L318.1,291.4 L318.2,291.5 L318.3,291.5 L318.4,291.5 L318.5,291.6 L318.6,291.6 L318.7,291.6 L318.8,291.6 L318.9,291.7 L319.0,291.7 L319.1,291.7 L319.2,291.7 L319.3,291.8 L319.4,291.8 L319.5,291.8 L319.6,291.8 L319.7,291.8 L319.8,291.9 L319.9,291.9 L320.0,291.9 L320.1,291.9 L320.2,291.9 L320.3,292.0 L320.4,292.0 L320.5,292.0 L320.6,292.0 L320.7,292.0 L320.8,292.0 L320.9,292.0 L321.0,292.1 L321.1,292.1 L321.2,292.1 L321.3,292.1 L321.4,292.1 L321.5,292.1 L321.6,292.1 L321.7,292.2 L321.8,292.2 L321.9,292.2 L322.0,292.2 L322.1,292.2 L322.2,292.2 L322.3,292.2 L322.4,292.2 L322.5,292.2 L322.6,292.3 L322.7,292.3 L322.8,292.3 L322.9,292.3 L323.0,292.3 L323.1,292.3 L323.2,292.3 L323.3,292.3 L323.4,292.3 L323.5,292.3 L323.6,292.3 L323.7,292.4 L323.8,292.4 L323.9,292.4 L324.0,292.4 L324.1,292.4 L324.2,292.4 L324.3,292.4 L324.4,292.4 L324.5,292.4 L324.6,292.4 L324.7,292.4 L324.8,292.4 L324.9,292.4 L325.0,292.4 L325.1,292.4 L325.2,292.5 L325.3,292.5 L325.4,292.5 L325.5,292.5 L326.7,292.5 L328.0,292.6 L329.2,292.6 L330.5,292.6 L331.7,292.6 L333.0,292.6 L334.2,292.7 L335.5,292.7 L336.7,292.7 L338.0,292.7 L339.2,292.7 L340.5,292.7 L341.7,292.7 L343.0,292.7 L344.2,292.7 L345.5,292.7 L346.7,292.7 L348.0,292.7 L349.2,292.7 L350.4,292.7 L351.7,292.7 L352.9,292.7 L354.2,292.7 L355.4,292.7 L356.7,292.7 L357.9,292.7 L359.2,292.7 L360.4,292.7 L361.7,292.7 L362.9,292.7 L364.2,292.7 L365.4,292.7 L366.7,292.7 L367.9,292.7 L369.2,292.7 L370.4,292.7 L371.7,292.7 L372.9,292.7 L374.2,292.7 L375.4,292.7 L376.7,292.7 L377.9,292.7 L379.2,292.7 L380.4,292.7 L381.7,292.7 L382.9,292.7 L384.2,292.7 L385.4,292.7 L386.7,292.7 L387.9,292.7 L389.2,292.7 L390.4,292.7 L391.7,292.7 L392.9,292.7 L394.2,292.7 L395.4,292.7 L396.7,292.7 L397.9,292.7 L399.2,292.7 L400.4,292.7 L401.6,292.7 L402.9,292.7 L404.1,292.7 L405.4,292.7 L406.6,292.7 L407.9,292.7 L409.1,292.7 L410.4,292.7 L411.6,292.7 L412.9,292.7 L414.1,292.7 L415.4,292.7 L416.6,292.7 L417.9,292.7 L419.1,292.7 L420.4,292.7 L421.6,292.7 L422.9,292.7 L424.1,292.7 L425.4,292.7 L426.6,292.7 L427.9,292.7 L429.1,292.7 L430.4,292.7 L431.6,292.7 L432.9,292.7 L434.1,292.7 L435.4,292.7 L436.6,292.7 L437.9,292.7 L439.1,292.7 L440.4,292.7 L441.6,292.7 L442.9,292.7 L444.1,292.7 L445.4,292.7 L446.6,292.7 L447.9,292.7 L449.1,292.7 L450.4,292.7 L451.6,292.7 L452.8,292.7 L454.1,292.7 L455.3,292.7 L456.6,292.7 L457.8,292.7 L459.1,292.7 L460.3,292.7 L461.6,292.7 L462.8,292.7 L464.1,292.7 L465.3,292.7 L466.6,292.7 L467.8,292.7 L469.1,292.7 L470.3,292.7 L471.6,292.7 L472.8,292.7 L474.1,292.7 L475.3,292.7 L476.6,292.7 L477.8,292.7 L479.1,292.7 L480.3,292.7 L481.6,292.7 L482.8,292.7 L484.1,292.7 L485.3,292.7 L486.6,292.7 L487.8,292.7 L489.1,292.7 L490.3,292.7 L491.6,292.7 L492.8,292.7 L494.1,292.7 L495.3,292.7 L496.6,292.7 L497.8,292.7 L499.1,292.7 L500.3,292.7" fill="none" stroke="#8ccde3" stroke-width="1.5" stroke-linejoin="round" stroke-linecap="butt"/>
<path d="M300.5,208.9 L300.6,211.5 L300.7,214.0 L300.8,216.5 L300.9,218.9 L301.0,221.2 L301.1,223.4 L301.2,225.6 L301.3,227.7 L301.4,229.7 L301.5,231.7 L301.6,233.7 L301.7,235.5 L301.8,237.3 L301.9,239.1 L302.0,240.8 L302.1,242.5 L302.2,244.1 L302.3,245.7 L302.4,247.2 L302.5,248.6 L302.6,250.1 L302.7,251.5 L302.8,252.8 L302.9,254.1 L303.0,255.4 L303.1,256.6 L303.2,257.8 L303.3,259.0 L303.4,260.1 L303.5,261.2 L303.6,262.2 L303.7,263.3 L303.8,264.3 L303.9,265.2 L304.0,266.2 L304.1,267.1 L304.2,268.0 L304.3,268.8 L304.4,269.6 L304.5,270.5 L304.6,271.2 L304.7,272.0 L304.8,272.7 L304.9,273.5 L305.0,274.2 L305.1,274.8 L305.2,275.5 L305.3,276.1 L305.4,276.7 L305.5,277.3 L305.6,277.9 L305.7,278.5 L305.8,279.0 L305.9,279.6 L306.0,280.1 L306.1,280.6 L306.2,281.1 L306.3,281.5 L306.4,282.0 L306.5,282.4 L306.6,282.9 L306.7,283.3 L306.8,283.7 L306.9,284.1 L307.0,284.5 L307.1,284.8 L307.2,285.2 L307.3,285.5 L307.4,285.9 L307.5,286.2 L307.6,286.5 L307.7,286.8 L307.8,287.1 L307.9,287.4 L308.0,287.7 L308.1,288.0 L308.2,288.2 L308.3,288.5 L308.4,288.8 L308.5,289.0 L308.6,289.2 L308.7,289.5 L308.8,289.7 L308.9,289.9 L309.0,290.1 L309.1,290.3 L309.2,290.5 L309.3,290.7 L309.4,290.9 L309.5,291.1 L309.6,291.2 L309.7,291.4 L309.8,291.6 L309.9,291.7 L310.0,291.9 L310.1,292.0 L310.2,292.2 L310.3,292.3 L310.4,292.5 L310.5,292.6 L310.6,292.7 L310.7,292.9 L310.8,293.0 L310.9,293.1 L311.0,293.2 L311.1,293.3 L311.2,293.4 L311.3,293.5 L311.4,293.6 L311.5,293.7 L311.6,293.8 L311.7,293.9 L311.8,294.0 L311.9,294.1 L312.0,294.2 L312.1,294.3 L312.2,294.4 L312.3,294.4 L312.4,294.5 L312.5,294.6 L312.6,294.7 L312.7,294.7 L312.8,294.8 L312.9,294.9 L313.0,294.9 L313.1,295.0 L313.2,295.0 L313.3,295.1 L313.4,295.2 L313.5,295.2 L313.6,295.3 L313.7,295.3 L313.8,295.4 L313.9,295.4 L314.0,295.5 L314.1,295.5 L314.2,295.5 L314.3,295.6 L314.4,295.6 L314.5,295.7 L314.6,295.7 L314.7,295.7 L314.8,295.8 L314.9,295.8 L315.0,295.9 L315.1,295.9 L315.2,295.9 L315.3,295.9 L315.4,296.0 L315.5,296.0 L315.6,296.0 L315.7,296.1 L315.8,296.1 L315.9,296.1 L316.0,296.1 L316.1,296.2 L316.2,296.2 L316.3,296.2 L316.4,296.2 L316.5,296.3 L316.6,296.3 L316.7,296.3 L316.8,296.3 L316.9,296.3 L317.0,296.4 L317.1,296.4 L317.2,296.4 L317.3,296.4 L317.4,296.4 L317.5,296.5 L317.6,296.5 L317.7,296.5 L317.8,296.5 L317.9,296.5 L318.0,296.5 L318.1,296.5 L318.2,296.6 L318.3,296.6 L318.4,296.6 L318.5,296.6 L318.6,296.6 L318.7,296.6 L318.8,296.6 L318.9,296.6 L319.0,296.6 L319.1,296.7 L319.2,296.7 L319.3,296.7 L319.4,296.7 L319.5,296.7 L319.6,296.7 L319.7,296.7 L319.8,296.7 L319.9,296.7 L320.0,296.7 L320.1,296.7 L320.2,296.7 L320.3,296.8 L320.4,296.8 L320.5,296.8 L320.6,296.8 L320.7,296.8 L320.8,296.8 L320.9,296.8 L321.0,296.8 L321.1,296.8 L321.2,296.8 L321.3,296.8 L321.4,296.8 L321.5,296.8 L321.6,296.8 L321.7,296.8 L321.8,296.8 L321.9,296.8 L322.0,296.8 L322.1,296.9 L322.2,296.9 L322.3,296.9 L322.4,296.9 L322.5,296.9 L322.6,296.9 L322.7,296.9 L322.8,296.9 L322.9,296.9 L323.0,296.9 L323.1,296.9 L323.2,296.9 L323.3,296.9 L323.4,296.9 L323.5,296.9 L323.6,296.9 L323.7,296.9 L323.8,296.9 L323.9,296.9 L324.0,296.9 L324.1,296.9 L324.2,296.9 L324.3,296.9 L324.4,296.9 L324.5,296.9 L324.6,296.9 L324.7,296.9 L324.8,296.9 L324.9,296.9 L325.0,296.9 L325.1,296.9 L325.2,296.9 L325.3,296.9 L325.4,296.9 L325.5,296.9 L326.7,297.0 L328.0,297.0 L329.2,297.0 L330.5,297.0 L331.7,297.0 L333.0,297.0 L334.2,297.0 L335.5,297.0 L336.7,297.0 L338.0,297.0 L339.2,297.0 L340.5,297.0 L341.7,297.0 L343.0,297.0 L344.2,297.0 L345.5,297.0 L346.7,297.0 L348.0,297.0 L349.2,297.0 L350.4,297.0 L351.7,297.0 L352.9,297.0 L354.2,297.0 L355.4,297.0 L356.7,297.0 L357.9,297.0 L359.2,297.0 L360.4,297.0 L361.7,297.0 L362.9,297.0 L364.2,297.0 L365.4,297.0 L366.7,297.0 L367.9,297.0 L369.2,297.0 L370.4,297.0 L371.7,297.0 L372.9,297.0 L374.2,297.0 L375.4,297.0 L376.7,297.0 L377.9,297.0 L379.2,297.0 L380.4,297.0 L381.7,297.0 L382.9,297.0 L384.2,297.0 L385.4,297.0 L386.7,297.0 L387.9,297.0 L389.2,297.0 L390.4,297.0 L391.7,297.0 L392.9,297.0 L394.2,297.0 L395.4,297.0 L396.7,297.0 L397.9,297.0 L399.2,297.0 L400.4,297.0 L401.6,297.0 L402.9,297.0 L404.1,297.0 L405.4,297.0 L406.6,297.0 L407.9,297.0 L409.1,297.0 L410.4,297.0 L411.6,297.0 L412.9,297.0 L414.1,297.0 L415.4,297.0 L416.6,297.0 L417.9,297.0 L419.1,297.0 L420.4,297.0 L421.6,297.0 L422.9,297.0 L424.1,297.0 L425.4,297.0 L426.6,297.0 L427.9,297.0 L429.1,297.0 L430.4,297.0 L431.6,297.0 L432.9,297.0 L434.1,297.0 L435.4,297.0 L436.6,297.0 L437.9,297.0 L439.1,297.0 L440.4,297.0 L441.6,297.0 L442.9,297.0 L444.1,297.0 L445.4,297.0 L446.6,297.0 L447.9,297.0 L449.1,297.0 L450.4,297.0 L451.6,297.0 L452.8,297.0 L454.1,297.0 L455.3,297.0 L456.6,297.0 L457.8,297.0 L459.1,297.0 L460.3,297.0 L461.6,297.0 L462.8,297.0 L464.1,297.0 L465.3,297.0 L466.6,297.0 L467.8,297.0 L469.1,297.0 L470.3,297.0 L471.6,297.0 L472.8,297.0 L474.1,297.0 L475.3,297.0 L476.6,297.0 L477.8,297.0 L479.1,297.0 L480.3,297.0 L481.6,297.0 L482.8,297.0 L484.1,297.0 L485.3,297.0 L486.6,297.0 L487.8,297.0 L489.1,297.0 L490.3,297.0 L491.6,297.0 L492.8,297.0 L494.1,297.0 L495.3,297.0 L496.6,297.0 L497.8,297.0 L499.1,297.0 L500.3,297.0" fill="none" stroke="#d9899a" stroke-width="1.5" stroke-linejoin="round" stroke-linecap="butt"/>
<path d="M300.5,208.9 L300.6,212.8 L300.7,216.6 L300.8,220.2 L300.9,223.7 L301.0,227.1 L301.1,230.3 L301.2,233.3 L301.3,236.3 L301.4,239.1 L301.5,241.8 L301.6,244.4 L301.7,246.8 L301.8,249.2 L301.9,251.5 L302.0,253.7 L302.1,255.8 L302.2,257.8 L302.3,259.7 L302.4,261.6 L302.5,263.4 L302.6,265.1 L302.7,266.7 L302.8,268.3 L302.9,269.8 L303.0,271.2 L303.1,272.6 L303.2,273.9 L303.3,275.2 L303.4,276.4 L303.5,277.6 L303.6,278.7 L303.7,279.8 L303.8,280.8 L303.9,281.8 L304.0,282.7 L304.1,283.6 L304.2,284.5 L304.3,285.3 L304.4,286.1 L304.5,286.9 L304.6,287.6 L304.7,288.3 L304.8,289.0 L304.9,289.6 L305.0,290.3 L305.1,290.9 L305.2,291.4 L305.3,292.0 L305.4,292.5 L305.5,293.0 L305.6,293.5 L305.7,294.0 L305.8,294.4 L305.9,294.8 L306.0,295.2 L306.1,295.6 L306.2,296.0 L306.3,296.4 L306.4,296.7 L306.5,297.0 L306.6,297.4 L306.7,297.7 L306.8,298.0 L306.9,298.2 L307.0,298.5 L307.1,298.8 L307.2,299.0 L307.3,299.2 L307.4,299.5 L307.5,299.7 L307.6,299.9 L307.7,300.1 L307.8,300.3 L307.9,300.5 L308.0,300.6 L308.1,300.8 L308.2,301.0 L308.3,301.1 L308.4,301.3 L308.5,301.4 L308.6,301.6 L308.7,301.7 L308.8,301.8 L308.9,301.9 L309.0,302.1 L309.1,302.2 L309.2,302.3 L309.3,302.4 L309.4,302.5 L309.5,302.6 L309.6,302.7 L309.7,302.7 L309.8,302.8 L309.9,302.9 L310.0,303.0 L310.1,303.0 L310.2,303.1 L310.3,303.2 L310.4,303.3 L310.5,303.3 L310.6,303.4 L310.7,303.4 L310.8,303.5 L310.9,303.5 L311.0,303.6 L311.1,303.6 L311.2,303.7 L311.3,303.7 L311.4,303.8 L311.5,303.8 L311.6,303.8 L311.7,303.9 L311.8,303.9 L311.9,304.0 L312.0,304.0 L312.1,304.0 L312.2,304.0 L312.3,304.1 L312.4,304.1 L312.5,304.1 L312.6,304.2 L312.7,304.2 L312.8,304.2 L312.9,304.2 L313.0,304.2 L313.1,304.3 L313.2,304.3 L313.3,304.3 L313.4,304.3 L313.5,304.3 L313.6,304.4 L313.7,304.4 L313.8,304.4 L313.9,304.4 L314.0,304.4 L314.1,304.4 L314.2,304.4 L314.3,304.5 L314.4,304.5 L314.5,304.5 L314.6,304.5 L314.7,304.5 L314.8,304.5 L314.9,304.5 L315.0,304.5 L315.1,304.5 L315.2,304.5 L315.3,304.6 L315.4,304.6 L315.5,304.6 L315.6,304.6 L315.7,304.6 L315.8,304.6 L315.9,304.6 L316.0,304.6 L316.1,304.6 L316.2,304.6 L316.3,304.6 L316.4,304.6 L316.5,304.6 L316.6,304.6 L316.7,304.6 L316.8,304.6 L316.9,304.7 L317.0,304.7 L317.1,304.7 L317.2,304.7 L317.3,304.7 L317.4,304.7 L317.5,304.7 L317.6,304.7 L317.7,304.7 L317.8,304.7 L317.9,304.7 L318.0,304.7 L318.1,304.7 L318.2,304.7 L318.3,304.7 L318.4,304.7 L318.5,304.7 L318.6,304.7 L318.7,304.7 L318.8,304.7 L318.9,304.7 L319.0,304.7 L319.1,304.7 L319.2,304.7 L319.3,304.7 L319.4,304.7 L319.5,304.7 L319.6,304.7 L319.7,304.7 L319.8,304.7 L319.9,304.7 L320.0,304.7 L320.1,304.7 L320.2,304.7 L320.3,304.7 L320.4,304.7 L320.5,304.7 L320.6,304.7 L320.7,304.7 L320.8,304.7 L320.9,304.7 L321.0,304.7 L321.1,304.7 L321.2,304.7 L321.3,304.7 L321.4,304.7 L321.5,304.7 L321.6,304.7 L321.7,304.7 L321.8,304.7 L321.9,304.7 L322.0,304.7 L322.1,304.7 L322.2,304.7 L322.3,304.7 L322.4,304.7 L322.5,304.7 L322.6,304.7 L322.7,304.7 L322.8,304.7 L322.9,304.7 L323.0,304.7 L323.1,304.7 L323.2,304.7 L323.3,304.7 L323.4,304.7 L323.5,304.7 L323.6,304.7 L323.7,304.7 L323.8,304.7 L323.9,304.7 L324.0,304.7 L324.1,304.7 L324.2,304.7 L324.3,304.7 L324.4,304.7 L324.5,304.7 L324.6,304.7 L324.7,304.7 L324.8,304.7 L324.9,304.7 L325.0,304.7 L325.1,304.7 L325.2,304.7 L325.3,304.7 L325.4,304.7 L325.5,304.7 L326.7,304.7 L328.0,304.7 L329.2,304.7 L330.5,304.7 L331.7,304.7 L333.0,304.7 L334.2,304.7 L335.5,304.7 L336.7,304.7 L338.0,304.7 L339.2,304.7 L340.5,304.7 L341.7,304.7 L343.0,304.7 L344.2,304.7 L345.5,304.7 L346.7,304.7 L348.0,304.7 L349.2,304.7 L350.4,304.7 L351.7,304.7 L352.9,304.7 L354.2,304.7 L355.4,304.7 L356.7,304.7 L357.9,304.7 L359.2,304.7 L360.4,304.7 L361.7,304.7 L362.9,304.7 L364.2,304.7 L365.4,304.7 L366.7,304.7 L367.9,304.7 L369.2,304.7 L370.4,304.7 L371.7,304.7 L372.9,304.7 L374.2,304.7 L375.4,304.7 L376.7,304.7 L377.9,304.7 L379.2,304.7 L380.4,304.7 L381.7,304.7 L382.9,304.7 L384.2,304.7 L385.4,304.7 L386.7,304.7 L387.9,304.7 L389.2,304.7 L390.4,304.7 L391.7,304.7 L392.9,304.7 L394.2,304.7 L395.4,304.7 L396.7,304.7 L397.9,304.7 L399.2,304.7 L400.4,304.7 L401.6,304.7 L402.9,304.7 L404.1,304.7 L405.4,304.7 L406.6,304.7 L407.9,304.7 L409.1,304.7 L410.4,304.7 L411.6,304.7 L412.9,304.7 L414.1,304.7 L415.4,304.7 L416.6,304.7 L417.9,304.7 L419.1,304.7 L420.4,304.7 L421.6,304.7 L422.9,304.7 L424.1,304.7 L425.4,304.7 L426.6,304.7 L427.9,304.7 L429.1,304.7 L430.4,304.7 L431.6,304.7 L432.9,304.7 L434.1,304.7 L435.4,304.7 L436.6,304.7 L437.9,304.7 L439.1,304.7 L440.4,304.7 L441.6,304.7 L442.9,304.7 L444.1,304.7 L445.4,304.7 L446.6,304.7 L447.9,304.7 L449.1,304.7 L450.4,304.7 L451.6,304.7 L452.8,304.7 L454.1,304.7 L455.3,304.7 L456.6,304.7 L457.8,304.7 L459.1,304.7 L460.3,304.7 L461.6,304.7 L462.8,304.7 L464.1,304.7 L465.3,304.7 L466.6,304.7 L467.8,304.7 L469.1,304.7 L470.3,304.7 L471.6,304.7 L472.8,304.7 L474.1,304.7 L475.3,304.7 L476.6,304.7 L477.8,304.7 L479.1,304.7 L480.3,304.7 L481.6,304.7 L482.8,304.7 L484.1,304.7 L485.3,304.7 L486.6,304.7 L487.8,304.7 L489.1,304.7 L490.3,304.7 L491.6,304.7 L492.8,304.7 L494.1,304.7 L495.3,304.7 L496.6,304.7 L497.8,304.7 L499.1,304.7 L500.3,304.7" fill="none" stroke="#b8133a" stroke-width="1.5" stroke-linejoin="round" stroke-linecap="butt"/>
<path d="M300.5,208.9 L300.6,216.5 L300.7,223.7 L300.8,230.3 L300.9,236.4 L301.0,242.2 L301.1,247.5 L301.2,252.5 L301.3,257.1 L301.4,261.4 L301.5,265.4 L301.6,269.1 L301.7,272.5 L301.8,275.8 L301.9,278.8 L302.0,281.6 L302.1,284.2 L302.2,286.6 L302.3,288.8 L302.4,290.9 L302.5,292.9 L302.6,294.7 L302.7,296.3 L302.8,297.9 L302.9,299.4 L303.0,300.7 L303.1,302.0 L303.2,303.2 L303.3,304.3 L303.4,305.3 L303.5,306.2 L303.6,307.1 L303.7,307.9 L303.8,308.7 L303.9,309.4 L304.0,310.1 L304.1,310.7 L304.2,311.3 L304.3,311.8 L304.4,312.3 L304.5,312.7 L304.6,313.2 L304.7,313.6 L304.8,313.9 L304.9,314.3 L305.0,314.6 L305.1,314.9 L305.2,315.2 L305.3,315.4 L305.4,315.7 L305.5,315.9 L305.6,316.1 L305.7,316.3 L305.8,316.5 L305.9,316.7 L306.0,316.8 L306.1,317.0 L306.2,317.1 L306.3,317.2 L306.4,317.3 L306.5,317.5 L306.6,317.6 L306.7,317.7 L306.8,317.7 L306.9,317.8 L307.0,317.9 L307.1,318.0 L307.2,318.0 L307.3,318.1 L307.4,318.2 L307.5,318.2 L307.6,318.3 L307.7,318.3 L307.8,318.3 L307.9,318.4 L308.0,318.4 L308.1,318.5 L308.2,318.5 L308.3,318.5 L308.4,318.5 L308.5,318.6 L308.6,318.6 L308.7,318.6 L308.8,318.6 L308.9,318.7 L309.0,318.7 L309.1,318.7 L309.2,318.7 L309.3,318.7 L309.4,318.7 L309.5,318.7 L309.6,318.8 L309.7,318.8 L309.8,318.8 L309.9,318.8 L310.0,318.8 L310.1,318.8 L310.2,318.8 L310.3,318.8 L310.4,318.8 L310.5,318.8 L310.6,318.8 L310.7,318.8 L310.8,318.9 L310.9,318.9 L311.0,318.9 L311.1,318.9 L311.2,318.9 L311.3,318.9 L311.4,318.9 L311.5,318.9 L311.6,318.9 L311.7,318.9 L311.8,318.9 L311.9,318.9 L312.0,318.9 L312.1,318.9 L312.2,318.9 L312.3,318.9 L312.4,318.9 L312.5,318.9 L312.6,318.9 L312.7,318.9 L312.8,318.9 L312.9,318.9 L313.0,318.9 L313.1,318.9 L313.2,318.9 L313.3,318.9 L313.4,318.9 L313.5,318.9 L313.6,318.9 L313.7,318.9 L313.8,318.9 L313.9,318.9 L314.0,318.9 L314.1,318.9 L314.2,318.9 L314.3,318.9 L314.4,318.9 L314.5,318.9 L314.6,318.9 L314.7,318.9 L314.8,318.9 L314.9,318.9 L315.0,318.9 L315.1,318.9 L315.2,318.9 L315.3,318.9 L315.4,318.9 L315.5,318.9 L315.6,318.9 L315.7,318.9 L315.8,318.9 L315.9,318.9 L316.0,318.9 L316.1,318.9 L316.2,318.9 L316.3,318.9 L316.4,318.9 L316.5,318.9 L316.6,318.9 L316.7,318.9 L316.8,318.9 L316.9,318.9 L317.0,318.9 L317.1,318.9 L317.2,318.9 L317.3,318.9 L317.4,318.9 L317.5,318.9 L317.6,318.9 L317.7,318.9 L317.8,318.9 L317.9,318.9 L318.0,318.9 L318.1,318.9 L318.2,318.9 L318.3,318.9 L318.4,318.9 L318.5,318.9 L318.6,318.9 L318.7,318.9 L318.8,318.9 L318.9,318.9 L319.0,318.9 L319.1,318.9 L319.2,318.9 L319.3,318.9 L319.4,318.9 L319.5,318.9 L319.6,318.9 L319.7,318.9 L319.8,318.9 L319.9,318.9 L320.0,318.9 L320.1,318.9 L320.2,318.9 L320.3,318.9 L320.4,318.9 L320.5,318.9 L320.6,318.9 L320.7,318.9 L320.8,318.9 L320.9,318.9 L321.0,318.9 L321.1,318.9 L321.2,318.9 L321.3,318.9 L321.4,318.9 L321.5,318.9 L321.6,318.9 L321.7,318.9 L321.8,318.9 L321.9,318.9 L322.0,318.9 L322.1,318.9 L322.2,318.9 L322.3,318.9 L322.4,318.9 L322.5,318.9 L322.6,318.9 L322.7,318.9 L322.8,318.9 L322.9,318.9 L323.0,318.9 L323.1,318.9 L323.2,318.9 L323.3,318.9 L323.4,318.9 L323.5,318.9 L323.6,318.9 L323.7,318.9 L323.8,318.9 L323.9,318.9 L324.0,318.9 L324.1,318.9 L324.2,318.9 L324.3,318.9 L324.4,318.9 L324.5,318.9 L324.6,318.9 L324.7,318.9 L324.8,318.9 L324.9,318.9 L325.0,318.9 L325.1,318.9 L325.2,318.9 L325.3,318.9 L325.4,318.9 L325.5,318.9 L326.7,318.9 L328.0,318.9 L329.2,318.9 L330.5,318.9 L331.7,318.9 L333.0,318.9 L334.2,318.9 L335.5,318.9 L336.7,318.9 L338.0,318.9 L339.2,318.9 L340.5,318.9 L341.7,318.9 L343.0,318.9 L344.2,318.9 L345.5,318.9 L346.7,318.9 L348.0,318.9 L349.2,318.9 L350.4,318.9 L351.7,318.9 L352.9,318.9 L354.2,318.9 L355.4,318.9 L356.7,318.9 L357.9,318.9 L359.2,318.9 L360.4,318.9 L361.7,318.9 L362.9,318.9 L364.2,318.9 L365.4,318.9 L366.7,318.9 L367.9,318.9 L369.2,318.9 L370.4,318.9 L371.7,318.9 L372.9,318.9 L374.2,318.9 L375.4,318.9 L376.7,318.9 L377.9,318.9 L379.2,318.9 L380.4,318.9 L381.7,318.9 L382.9,318.9 L384.2,318.9 L385.4,318.9 L386.7,318.9 L387.9,318.9 L389.2,318.9 L390.4,318.9 L391.7,318.9 L392.9,318.9 L394.2,318.9 L395.4,318.9 L396.7,318.9 L397.9,318.9 L399.2,318.9 L400.4,318.9 L401.6,318.9 L402.9,318.9 L404.1,318.9 L405.4,318.9 L406.6,318.9 L407.9,318.9 L409.1,318.9 L410.4,318.9 L411.6,318.9 L412.9,318.9 L414.1,318.9 L415.4,318.9 L416.6,318.9 L417.9,318.9 L419.1,318.9 L420.4,318.9 L421.6,318.9 L422.9,318.9 L424.1,318.9 L425.4,318.9 L426.6,318.9 L427.9,318.9 L429.1,318.9 L430.4,318.9 L431.6,318.9 L432.9,318.9 L434.1,318.9 L435.4,318.9 L436.6,318.9 L437.9,318.9 L439.1,318.9 L440.4,318.9 L441.6,318.9 L442.9,318.9 L444.1,318.9 L445.4,318.9 L446.6,318.9 L447.9,318.9 L449.1,318.9 L450.4,318.9 L451.6,318.9 L452.8,318.9 L454.1,318.9 L455.3,318.9 L456.6,318.9 L457.8,318.9 L459.1,318.9 L460.3,318.9 L461.6,318.9 L462.8,318.9 L464.1,318.9 L465.3,318.9 L466.6,318.9 L467.8,318.9 L469.1,318.9 L470.3,318.9 L471.6,318.9 L472.8,318.9 L474.1,318.9 L475.3,318.9 L476.6,318.9 L477.8,318.9 L479.1,318.9 L480.3,318.9 L481.6,318.9 L482.8,318.9 L484.1,318.9 L485.3,318.9 L486.6,318.9 L487.8,318.9 L489.1,318.9 L490.3,318.9 L491.6,318.9 L492.8,318.9 L494.1,318.9 L495.3,318.9 L496.6,318.9 L497.8,318.9 L499.1,318.9 L500.3,318.9" fill="none" stroke="#4e2c12" stroke-width="1.5" stroke-linejoin="round" stroke-linecap="butt"/>
<path d="M300.5,377.4 L300.6,379.4 L300.7,381.3 L300.8,383.2 L300.9,385.0 L301.0,386.9 L301.1,388.7 L301.2,390.5 L301.3,392.2 L301.4,393.9 L301.5,395.6 L301.6,397.3 L301.7,398.9 L301.8,400.5 L301.9,402.1 L302.0,403.7 L302.1,405.2 L302.2,406.7 L302.3,408.2 L302.4,409.7 L302.5,411.1 L302.6,412.6 L302.7,414.0 L302.8,415.3 L302.9,416.7 L303.0,418.0 L303.1,419.3 L303.2,420.6 L303.3,421.9 L303.4,423.1 L303.5,424.4 L303.6,425.6 L303.7,426.8 L303.8,427.9 L303.9,429.1 L304.0,430.2 L304.1,431.3 L304.2,432.4 L304.3,433.5 L304.4,434.6 L304.5,435.6 L304.6,436.7 L304.7,437.7 L304.8,438.7 L304.9,439.7 L305.0,440.6 L305.1,441.6 L305.2,442.5 L305.3,443.4 L305.4,444.3 L305.5,445.2 L305.6,446.1 L305.7,447.0 L305.8,447.8 L305.9,448.7 L306.0,449.5 L306.1,450.3 L306.2,451.1 L306.3,451.9 L306.4,452.7 L306.5,453.4 L306.6,454.2 L306.7,454.9 L306.8,455.6 L306.9,456.4 L307.0,457.1 L307.1,457.7 L307.2,458.4 L307.3,459.1 L307.4,459.8 L307.5,460.4 L307.6,461.0 L307.7,461.7 L307.8,462.3 L307.9,462.9 L308.0,463.5 L308.1,464.1 L308.2,464.7 L308.3,465.2 L308.4,465.8 L308.5,466.3 L308.6,466.9 L308.7,467.4 L308.8,468.0 L308.9,468.5 L309.0,469.0 L309.1,469.5 L309.2,470.0 L309.3,470.5 L309.4,470.9 L309.5,471.4 L309.6,471.9 L309.7,472.3 L309.8,472.8 L309.9,473.2 L310.0,473.7 L310.1,474.1 L310.2,474.5 L310.3,474.9 L310.4,475.3 L310.5,475.7 L310.6,476.1 L310.7,476.5 L310.8,476.9 L310.9,477.3 L311.0,477.6 L311.1,478.0 L311.2,478.4 L311.3,478.7 L311.4,479.1 L311.5,479.4 L311.6,479.7 L311.7,480.1 L311.8,480.4 L311.9,480.7 L312.0,481.0 L312.1,481.3 L312.2,481.6 L312.3,482.0 L312.4,482.2 L312.5,482.5 L312.6,482.8 L312.7,483.1 L312.8,483.4 L312.9,483.7 L313.0,483.9 L313.1,484.2 L313.2,484.5 L313.3,484.7 L313.4,485.0 L313.5,485.2 L313.6,485.5 L313.7,485.7 L313.8,485.9 L313.9,486.2 L314.0,486.4 L314.1,486.6 L314.2,486.8 L314.3,487.1 L314.4,487.3 L314.5,487.5 L314.6,487.7 L314.7,487.9 L314.8,488.1 L314.9,488.3 L315.0,488.5 L315.1,488.7 L315.2,488.9 L315.3,489.1 L315.4,489.2 L315.5,489.4 L315.6,489.6 L315.7,489.8 L315.8,489.9 L315.9,490.1 L316.0,490.3 L316.1,490.4 L316.2,490.6 L316.3,490.8 L316.4,490.9 L316.5,491.1 L316.6,491.2 L316.7,491.4 L316.8,491.5 L316.9,491.7 L317.0,491.8 L317.1,491.9 L317.2,492.1 L317.3,492.2 L317.4,492.4 L317.5,492.5 L317.6,492.6 L317.7,492.7 L317.8,492.9 L317.9,493.0 L318.0,493.1 L318.1,493.2 L318.2,493.3 L318.3,493.5 L318.4,493.6 L318.5,493.7 L318.6,493.8 L318.7,493.9 L318.8,494.0 L318.9,494.1 L319.0,494.2 L319.1,494.3 L319.2,494.4 L319.3,494.5 L319.4,494.6 L319.5,494.7 L319.6,494.8 L319.7,494.9 L319.8,495.0 L319.9,495.1 L320.0,495.2 L320.1,495.2 L320.2,495.3 L320.3,495.4 L320.4,495.5 L320.5,495.6 L320.6,495.7 L320.7,495.7 L320.8,495.8 L320.9,495.9 L321.0,496.0 L321.1,496.0 L321.2,496.1 L321.3,496.2 L321.4,496.3 L321.5,496.3 L321.6,496.4 L321.7,496.5 L321.8,496.5 L321.9,496.6 L322.0,496.6 L322.1,496.7 L322.2,496.8 L322.3,496.8 L322.4,496.9 L322.5,497.0 L322.6,497.0 L322.7,497.1 L322.8,497.1 L322.9,497.2 L323.0,497.2 L323.1,497.3 L323.2,497.3 L323.3,497.4 L323.4,497.4 L323.5,497.5 L323.6,497.5 L323.7,497.6 L323.8,497.6 L323.9,497.7 L324.0,497.7 L324.1,497.8 L324.2,497.8 L324.3,497.9 L324.4,497.9 L324.5,498.0 L324.6,498.0 L324.7,498.0 L324.8,498.1 L324.9,498.1 L325.0,498.2 L325.1,498.2 L325.2,498.2 L325.3,498.3 L325.4,498.3 L325.5,498.3 L326.7,498.8 L328.0,499.1 L329.2,499.4 L330.5,499.6 L331.7,499.8 L333.0,499.9 L334.2,500.0 L335.5,500.1 L336.7,500.2 L338.0,500.3 L339.2,500.3 L340.5,500.4 L341.7,500.4 L343.0,500.5 L344.2,500.5 L345.5,500.5 L346.7,500.5 L348.0,500.5 L349.2,500.5 L350.4,500.6 L351.7,500.6 L352.9,500.6 L354.2,500.6 L355.4,500.6 L356.7,500.6 L357.9,500.6 L359.2,500.6 L360.4,500.6 L361.7,500.6 L362.9,500.6 L364.2,500.6 L365.4,500.6 L366.7,500.6 L367.9,500.6 L369.2,500.6 L370.4,500.6 L371.7,500.6 L372.9,500.6 L374.2,500.6 L375.4,500.6 L376.7,500.6 L377.9,500.6 L379.2,500.6 L380.4,500.6 L381.7,500.6 L382.9,500.6 L384.2,500.6 L385.4,500.6 L386.7,500.6 L387.9,500.6 L389.2,500.6 L390.4,500.6 L391.7,500.6 L392.9,500.6 L394.2,500.6 L395.4,500.6 L396.7,500.6 L397.9,500.6 L399.2,500.6 L400.4,500.6 L401.6,500.6 L402.9,500.6 L404.1,500.6 L405.4,500.6 L406.6,500.6 L407.9,500.6 L409.1,500.6 L410.4,500.6 L411.6,500.6 L412.9,500.6 L414.1,500.6 L415.4,500.6 L416.6,500.6 L417.9,500.6 L419.1,500.6 L420.4,500.6 L421.6,500.6 L422.9,500.6 L424.1,500.6 L425.4,500.6 L426.6,500.6 L427.9,500.6 L429.1,500.6 L430.4,500.6 L431.6,500.6 L432.9,500.6 L434.1,500.6 L435.4,500.6 L436.6,500.6 L437.9,500.6 L439.1,500.6 L440.4,500.6 L441.6,500.6 L442.9,500.6 L444.1,500.6 L445.4,500.6 L446.6,500.6 L447.9,500.6 L449.1,500.6 L450.4,500.6 L451.6,500.6 L452.8,500.6 L454.1,500.6 L455.3,500.6 L456.6,500.6 L457.8,500.6 L459.1,500.6 L460.3,500.6 L461.6,500.6 L462.8,500.6 L464.1,500.6 L465.3,500.6 L466.6,500.6 L467.8,500.6 L469.1,500.6 L470.3,500.6 L471.6,500.6 L472.8,500.6 L474.1,500.6 L475.3,500.6 L476.6,500.6 L477.8,500.6 L479.1,500.6 L480.3,500.6 L481.6,500.6 L482.8,500.6 L484.1,500.6 L485.3,500.6 L486.6,500.6 L487.8,500.6 L489.1,500.6 L490.3,500.6 L491.6,500.6 L492.8,500.6 L494.1,500.6 L495.3,500.6 L496.6,500.6 L497.8,500.6 L499.1,500.6 L500.3,500.6" fill="none" stroke="#3c4349" stroke-width="1.5" stroke-linejoin="round" stroke-linecap="butt"/>
<path d="M300.5,377.4 L300.6,379.4 L300.7,381.3 L300.8,383.2 L300.9,385.1 L301.0,387.0 L301.1,388.8 L301.2,390.6 L301.3,392.4 L301.4,394.1 L301.5,395.8 L301.6,397.5 L301.7,399.2 L301.8,400.8 L301.9,402.4 L302.0,404.0 L302.1,405.5 L302.2,407.1 L302.3,408.6 L302.4,410.0 L302.5,411.5 L302.6,412.9 L302.7,414.3 L302.8,415.7 L302.9,417.1 L303.0,418.4 L303.1,419.7 L303.2,421.0 L303.3,422.3 L303.4,423.6 L303.5,424.8 L303.6,426.0 L303.7,427.2 L303.8,428.4 L303.9,429.6 L304.0,430.7 L304.1,431.8 L304.2,432.9 L304.3,434.0 L304.4,435.1 L304.5,436.2 L304.6,437.2 L304.7,438.2 L304.8,439.2 L304.9,440.2 L305.0,441.2 L305.1,442.1 L305.2,443.1 L305.3,444.0 L305.4,444.9 L305.5,445.8 L305.6,446.7 L305.7,447.5 L305.8,448.4 L305.9,449.2 L306.0,450.1 L306.1,450.9 L306.2,451.7 L306.3,452.5 L306.4,453.2 L306.5,454.0 L306.6,454.7 L306.7,455.5 L306.8,456.2 L306.9,456.9 L307.0,457.6 L307.1,458.3 L307.2,459.0 L307.3,459.7 L307.4,460.3 L307.5,461.0 L307.6,461.6 L307.7,462.2 L307.8,462.8 L307.9,463.4 L308.0,464.0 L308.1,464.6 L308.2,465.2 L308.3,465.8 L308.4,466.3 L308.5,466.9 L308.6,467.4 L308.7,468.0 L308.8,468.5 L308.9,469.0 L309.0,469.5 L309.1,470.0 L309.2,470.5 L309.3,471.0 L309.4,471.5 L309.5,471.9 L309.6,472.4 L309.7,472.8 L309.8,473.3 L309.9,473.7 L310.0,474.2 L310.1,474.6 L310.2,475.0 L310.3,475.4 L310.4,475.8 L310.5,476.2 L310.6,476.6 L310.7,477.0 L310.8,477.4 L310.9,477.7 L311.0,478.1 L311.1,478.5 L311.2,478.8 L311.3,479.2 L311.4,479.5 L311.5,479.9 L311.6,480.2 L311.7,480.5 L311.8,480.8 L311.9,481.2 L312.0,481.5 L312.1,481.8 L312.2,482.1 L312.3,482.4 L312.4,482.7 L312.5,483.0 L312.6,483.2 L312.7,483.5 L312.8,483.8 L312.9,484.1 L313.0,484.3 L313.1,484.6 L313.2,484.9 L313.3,485.1 L313.4,485.4 L313.5,485.6 L313.6,485.8 L313.7,486.1 L313.8,486.3 L313.9,486.5 L314.0,486.8 L314.1,487.0 L314.2,487.2 L314.3,487.4 L314.4,487.6 L314.5,487.8 L314.6,488.1 L314.7,488.3 L314.8,488.5 L314.9,488.6 L315.0,488.8 L315.1,489.0 L315.2,489.2 L315.3,489.4 L315.4,489.6 L315.5,489.8 L315.6,489.9 L315.7,490.1 L315.8,490.3 L315.9,490.4 L316.0,490.6 L316.1,490.8 L316.2,490.9 L316.3,491.1 L316.4,491.2 L316.5,491.4 L316.6,491.5 L316.7,491.7 L316.8,491.8 L316.9,492.0 L317.0,492.1 L317.1,492.2 L317.2,492.4 L317.3,492.5 L317.4,492.6 L317.5,492.8 L317.6,492.9 L317.7,493.0 L317.8,493.1 L317.9,493.2 L318.0,493.4 L318.1,493.5 L318.2,493.6 L318.3,493.7 L318.4,493.8 L318.5,493.9 L318.6,494.0 L318.7,494.1 L318.8,494.2 L318.9,494.3 L319.0,494.4 L319.1,494.5 L319.2,494.6 L319.3,494.7 L319.4,494.8 L319.5,494.9 L319.6,495.0 L319.7,495.1 L319.8,495.2 L319.9,495.3 L320.0,495.4 L320.1,495.5 L320.2,495.5 L320.3,495.6 L320.4,495.7 L320.5,495.8 L320.6,495.9 L320.7,495.9 L320.8,496.0 L320.9,496.1 L321.0,496.2 L321.1,496.2 L321.2,496.3 L321.3,496.4 L321.4,496.4 L321.5,496.5 L321.6,496.6 L321.7,496.6 L321.8,496.7 L321.9,496.8 L322.0,496.8 L322.1,496.9 L322.2,496.9 L322.3,497.0 L322.4,497.1 L322.5,497.1 L322.6,497.2 L322.7,497.2 L322.8,497.3 L322.9,497.3 L323.0,497.4 L323.1,497.4 L323.2,497.5 L323.3,497.5 L323.4,497.6 L323.5,497.6 L323.6,497.7 L323.7,497.7 L323.8,497.8 L323.9,497.8 L324.0,497.9 L324.1,497.9 L324.2,498.0 L324.3,498.0 L324.4,498.0 L324.5,498.1 L324.6,498.1 L324.7,498.2 L324.8,498.2 L324.9,498.2 L325.0,498.3 L325.1,498.3 L325.2,498.3 L325.3,498.4 L325.4,498.4 L325.5,498.5 L326.7,498.8 L328.0,499.2 L329.2,499.4 L330.5,499.6 L331.7,499.8 L333.0,500.0 L334.2,500.1 L335.5,500.2 L336.7,500.3 L338.0,500.3 L339.2,500.4 L340.5,500.4 L341.7,500.4 L343.0,500.5 L344.2,500.5 L345.5,500.5 L346.7,500.5 L348.0,500.5 L349.2,500.6 L350.4,500.6 L351.7,500.6 L352.9,500.6 L354.2,500.6 L355.4,500.6 L356.7,500.6 L357.9,500.6 L359.2,500.6 L360.4,500.6 L361.7,500.6 L362.9,500.6 L364.2,500.6 L365.4,500.6 L366.7,500.6 L367.9,500.6 L369.2,500.6 L370.4,500.6 L371.7,500.6 L372.9,500.6 L374.2,500.6 L375.4,500.6 L376.7,500.6 L377.9,500.6 L379.2,500.6 L380.4,500.6 L381.7,500.6 L382.9,500.6 L384.2,500.6 L385.4,500.6 L386.7,500.6 L387.9,500.6 L389.2,500.6 L390.4,500.6 L391.7,500.6 L392.9,500.6 L394.2,500.6 L395.4,500.6 L396.7,500.6 L397.9,500.6 L399.2,500.6 L400.4,500.6 L401.6,500.6 L402.9,500.6 L404.1,500.6 L405.4,500.6 L406.6,500.6 L407.9,500.6 L409.1,500.6 L410.4,500.6 L411.6,500.6 L412.9,500.6 L414.1,500.6 L415.4,500.6 L416.6,500.6 L417.9,500.6 L419.1,500.6 L420.4,500.6 L421.6,500.6 L422.9,500.6 L424.1,500.6 L425.4,500.6 L426.6,500.6 L427.9,500.6 L429.1,500.6 L430.4,500.6 L431.6,500.6 L432.9,500.6 L434.1,500.6 L435.4,500.6 L436.6,500.6 L437.9,500.6 L439.1,500.6 L440.4,500.6 L441.6,500.6 L442.9,500.6 L444.1,500.6 L445.4,500.6 L446.6,500.6 L447.9,500.6 L449.1,500.6 L450.4,500.6 L451.6,500.6 L452.8,500.6 L454.1,500.6 L455.3,500.6 L456.6,500.6 L457.8,500.6 L459.1,500.6 L460.3,500.6 L461.6,500.6 L462.8,500.6 L464.1,500.6 L465.3,500.6 L466.6,500.6 L467.8,500.6 L469.1,500.6 L470.3,500.6 L471.6,500.6 L472.8,500.6 L474.1,500.6 L475.3,500.6 L476.6,500.6 L477.8,500.6 L479.1,500.6 L480.3,500.6 L481.6,500.6 L482.8,500.6 L484.1,500.6 L485.3,500.6 L486.6,500.6 L487.8,500.6 L489.1,500.6 L490.3,500.6 L491.6,500.6 L492.8,500.6 L494.1,500.6 L495.3,500.6 L496.6,500.6 L497.8,500.6 L499.1,500.6 L500.3,500.6" fill="none" stroke="#0f4272" stroke-width="1.5" stroke-linejoin="round" stroke-linecap="butt"/>
<path d="M300.5,377.4 L300.6,379.6 L300.7,381.8 L300.8,383.9 L300.9,386.0 L301.0,388.0 L301.1,390.0 L301.2,392.0 L301.3,393.9 L301.4,395.8 L301.5,397.7 L301.6,399.5 L301.7,401.3 L301.8,403.1 L301.9,404.8 L302.0,406.6 L302.1,408.2 L302.2,409.9 L302.3,411.5 L302.4,413.1 L302.5,414.6 L302.6,416.2 L302.7,417.7 L302.8,419.2 L302.9,420.6 L303.0,422.0 L303.1,423.4 L303.2,424.8 L303.3,426.2 L303.4,427.5 L303.5,428.8 L303.6,430.1 L303.7,431.3 L303.8,432.6 L303.9,433.8 L304.0,435.0 L304.1,436.2 L304.2,437.3 L304.3,438.4 L304.4,439.5 L304.5,440.6 L304.6,441.7 L304.7,442.8 L304.8,443.8 L304.9,444.8 L305.0,445.8 L305.1,446.8 L305.2,447.7 L305.3,448.7 L305.4,449.6 L305.5,450.5 L305.6,451.4 L305.7,452.3 L305.8,453.1 L305.9,454.0 L306.0,454.8 L306.1,455.6 L306.2,456.4 L306.3,457.2 L306.4,458.0 L306.5,458.8 L306.6,459.5 L306.7,460.2 L306.8,461.0 L306.9,461.7 L307.0,462.4 L307.1,463.0 L307.2,463.7 L307.3,464.4 L307.4,465.0 L307.5,465.7 L307.6,466.3 L307.7,466.9 L307.8,467.5 L307.9,468.1 L308.0,468.7 L308.1,469.2 L308.2,469.8 L308.3,470.3 L308.4,470.9 L308.5,471.4 L308.6,471.9 L308.7,472.4 L308.8,472.9 L308.9,473.4 L309.0,473.9 L309.1,474.4 L309.2,474.9 L309.3,475.3 L309.4,475.8 L309.5,476.2 L309.6,476.7 L309.7,477.1 L309.8,477.5 L309.9,477.9 L310.0,478.3 L310.1,478.7 L310.2,479.1 L310.3,479.5 L310.4,479.9 L310.5,480.2 L310.6,480.6 L310.7,481.0 L310.8,481.3 L310.9,481.6 L311.0,482.0 L311.1,482.3 L311.2,482.6 L311.3,483.0 L311.4,483.3 L311.5,483.6 L311.6,483.9 L311.7,484.2 L311.8,484.5 L311.9,484.8 L312.0,485.1 L312.1,485.3 L312.2,485.6 L312.3,485.9 L312.4,486.1 L312.5,486.4 L312.6,486.6 L312.7,486.9 L312.8,487.1 L312.9,487.4 L313.0,487.6 L313.1,487.8 L313.2,488.1 L313.3,488.3 L313.4,488.5 L313.5,488.7 L313.6,488.9 L313.7,489.2 L313.8,489.4 L313.9,489.6 L314.0,489.8 L314.1,489.9 L314.2,490.1 L314.3,490.3 L314.4,490.5 L314.5,490.7 L314.6,490.9 L314.7,491.0 L314.8,491.2 L314.9,491.4 L315.0,491.5 L315.1,491.7 L315.2,491.9 L315.3,492.0 L315.4,492.2 L315.5,492.3 L315.6,492.5 L315.7,492.6 L315.8,492.8 L315.9,492.9 L316.0,493.0 L316.1,493.2 L316.2,493.3 L316.3,493.4 L316.4,493.6 L316.5,493.7 L316.6,493.8 L316.7,493.9 L316.8,494.0 L316.9,494.2 L317.0,494.3 L317.1,494.4 L317.2,494.5 L317.3,494.6 L317.4,494.7 L317.5,494.8 L317.6,494.9 L317.7,495.0 L317.8,495.1 L317.9,495.2 L318.0,495.3 L318.1,495.4 L318.2,495.5 L318.3,495.6 L318.4,495.7 L318.5,495.8 L318.6,495.9 L318.7,495.9 L318.8,496.0 L318.9,496.1 L319.0,496.2 L319.1,496.3 L319.2,496.3 L319.3,496.4 L319.4,496.5 L319.5,496.6 L319.6,496.6 L319.7,496.7 L319.8,496.8 L319.9,496.8 L320.0,496.9 L320.1,497.0 L320.2,497.0 L320.3,497.1 L320.4,497.2 L320.5,497.2 L320.6,497.3 L320.7,497.4 L320.8,497.4 L320.9,497.5 L321.0,497.5 L321.1,497.6 L321.2,497.6 L321.3,497.7 L321.4,497.7 L321.5,497.8 L321.6,497.8 L321.7,497.9 L321.8,497.9 L321.9,498.0 L322.0,498.0 L322.1,498.1 L322.2,498.1 L322.3,498.2 L322.4,498.2 L322.5,498.3 L322.6,498.3 L322.7,498.3 L322.8,498.4 L322.9,498.4 L323.0,498.5 L323.1,498.5 L323.2,498.5 L323.3,498.6 L323.4,498.6 L323.5,498.6 L323.6,498.7 L323.7,498.7 L323.8,498.7 L323.9,498.8 L324.0,498.8 L324.1,498.8 L324.2,498.9 L324.3,498.9 L324.4,498.9 L324.5,499.0 L324.6,499.0 L324.7,499.0 L324.8,499.0 L324.9,499.1 L325.0,499.1 L325.1,499.1 L325.2,499.2 L325.3,499.2 L325.4,499.2 L325.5,499.2 L326.7,499.5 L328.0,499.7 L329.2,499.9 L330.5,500.0 L331.7,500.2 L333.0,500.2 L334.2,500.3 L335.5,500.4 L336.7,500.4 L338.0,500.5 L339.2,500.5 L340.5,500.5 L341.7,500.5 L343.0,500.5 L344.2,500.6 L345.5,500.6 L346.7,500.6 L348.0,500.6 L349.2,500.6 L350.4,500.6 L351.7,500.6 L352.9,500.6 L354.2,500.6 L355.4,500.6 L356.7,500.6 L357.9,500.6 L359.2,500.6 L360.4,500.6 L361.7,500.6 L362.9,500.6 L364.2,500.6 L365.4,500.6 L366.7,500.6 L367.9,500.6 L369.2,500.6 L370.4,500.6 L371.7,500.6 L372.9,500.6 L374.2,500.6 L375.4,500.6 L376.7,500.6 L377.9,500.6 L379.2,500.6 L380.4,500.6 L381.7,500.6 L382.9,500.6 L384.2,500.6 L385.4,500.6 L386.7,500.6 L387.9,500.6 L389.2,500.6 L390.4,500.6 L391.7,500.6 L392.9,500.6 L394.2,500.6 L395.4,500.6 L396.7,500.6 L397.9,500.6 L399.2,500.6 L400.4,500.6 L401.6,500.6 L402.9,500.6 L404.1,500.6 L405.4,500.6 L406.6,500.6 L407.9,500.6 L409.1,500.6 L410.4,500.6 L411.6,500.6 L412.9,500.6 L414.1,500.6 L415.4,500.6 L416.6,500.6 L417.9,500.6 L419.1,500.6 L420.4,500.6 L421.6,500.6 L422.9,500.6 L424.1,500.6 L425.4,500.6 L426.6,500.6 L427.9,500.6 L429.1,500.6 L430.4,500.6 L431.6,500.6 L432.9,500.6 L434.1,500.6 L435.4,500.6 L436.6,500.6 L437.9,500.6 L439.1,500.6 L440.4,500.6 L441.6,500.6 L442.9,500.6 L444.1,500.6 L445.4,500.6 L446.6,500.6 L447.9,500.6 L449.1,500.6 L450.4,500.6 L451.6,500.6 L452.8,500.6 L454.1,500.6 L455.3,500.6 L456.6,500.6 L457.8,500.6 L459.1,500.6 L460.3,500.6 L461.6,500.6 L462.8,500.6 L464.1,500.6 L465.3,500.6 L466.6,500.6 L467.8,500.6 L469.1,500.6 L470.3,500.6 L471.6,500.6 L472.8,500.6 L474.1,500.6 L475.3,500.6 L476.6,500.6 L477.8,500.6 L479.1,500.6 L480.3,500.6 L481.6,500.6 L482.8,500.6 L484.1,500.6 L485.3,500.6 L486.6,500.6 L487.8,500.6 L489.1,500.6 L490.3,500.6 L491.6,500.6 L492.8,500.6 L494.1,500.6 L495.3,500.6 L496.6,500.6 L497.8,500.6 L499.1,500.6 L500.3,500.6" fill="none" stroke="#8ccde3" stroke-width="1.5" stroke-linejoin="round" stroke-linecap="butt"/>
<path d="M300.5,377.4 L300.6,380.0 L300.7,382.5 L300.8,385.0 L300.9,387.4 L301.0,389.8 L301.1,392.1 L301.2,394.4 L301.3,396.6 L301.4,398.8 L301.5,400.9 L301.6,403.0 L301.7,405.1 L301.8,407.1 L301.9,409.0 L302.0,411.0 L302.1,412.8 L302.2,414.7 L302.3,416.5 L302.4,418.2 L302.5,420.0 L302.6,421.7 L302.7,423.3 L302.8,424.9 L302.9,426.5 L303.0,428.1 L303.1,429.6 L303.2,431.1 L303.3,432.6 L303.4,434.0 L303.5,435.4 L303.6,436.7 L303.7,438.1 L303.8,439.4 L303.9,440.7 L304.0,441.9 L304.1,443.2 L304.2,444.4 L304.3,445.6 L304.4,446.7 L304.5,447.8 L304.6,448.9 L304.7,450.0 L304.8,451.1 L304.9,452.1 L305.0,453.1 L305.1,454.1 L305.2,455.1 L305.3,456.1 L305.4,457.0 L305.5,457.9 L305.6,458.8 L305.7,459.7 L305.8,460.5 L305.9,461.4 L306.0,462.2 L306.1,463.0 L306.2,463.8 L306.3,464.6 L306.4,465.3 L306.5,466.1 L306.6,466.8 L306.7,467.5 L306.8,468.2 L306.9,468.9 L307.0,469.5 L307.1,470.2 L307.2,470.8 L307.3,471.5 L307.4,472.1 L307.5,472.7 L307.6,473.3 L307.7,473.8 L307.8,474.4 L307.9,474.9 L308.0,475.5 L308.1,476.0 L308.2,476.5 L308.3,477.0 L308.4,477.5 L308.5,478.0 L308.6,478.5 L308.7,478.9 L308.8,479.4 L308.9,479.8 L309.0,480.3 L309.1,480.7 L309.2,481.1 L309.3,481.5 L309.4,481.9 L309.5,482.3 L309.6,482.7 L309.7,483.1 L309.8,483.4 L309.9,483.8 L310.0,484.2 L310.1,484.5 L310.2,484.8 L310.3,485.2 L310.4,485.5 L310.5,485.8 L310.6,486.1 L310.7,486.4 L310.8,486.7 L310.9,487.0 L311.0,487.3 L311.1,487.6 L311.2,487.9 L311.3,488.1 L311.4,488.4 L311.5,488.6 L311.6,488.9 L311.7,489.1 L311.8,489.4 L311.9,489.6 L312.0,489.8 L312.1,490.1 L312.2,490.3 L312.3,490.5 L312.4,490.7 L312.5,490.9 L312.6,491.1 L312.7,491.3 L312.8,491.5 L312.9,491.7 L313.0,491.9 L313.1,492.1 L313.2,492.3 L313.3,492.4 L313.4,492.6 L313.5,492.8 L313.6,492.9 L313.7,493.1 L313.8,493.3 L313.9,493.4 L314.0,493.6 L314.1,493.7 L314.2,493.9 L314.3,494.0 L314.4,494.1 L314.5,494.3 L314.6,494.4 L314.7,494.5 L314.8,494.7 L314.9,494.8 L315.0,494.9 L315.1,495.0 L315.2,495.1 L315.3,495.3 L315.4,495.4 L315.5,495.5 L315.6,495.6 L315.7,495.7 L315.8,495.8 L315.9,495.9 L316.0,496.0 L316.1,496.1 L316.2,496.2 L316.3,496.3 L316.4,496.4 L316.5,496.5 L316.6,496.5 L316.7,496.6 L316.8,496.7 L316.9,496.8 L317.0,496.9 L317.1,497.0 L317.2,497.0 L317.3,497.1 L317.4,497.2 L317.5,497.2 L317.6,497.3 L317.7,497.4 L317.8,497.5 L317.9,497.5 L318.0,497.6 L318.1,497.6 L318.2,497.7 L318.3,497.8 L318.4,497.8 L318.5,497.9 L318.6,497.9 L318.7,498.0 L318.8,498.1 L318.9,498.1 L319.0,498.2 L319.1,498.2 L319.2,498.3 L319.3,498.3 L319.4,498.4 L319.5,498.4 L319.6,498.5 L319.7,498.5 L319.8,498.5 L319.9,498.6 L320.0,498.6 L320.1,498.7 L320.2,498.7 L320.3,498.7 L320.4,498.8 L320.5,498.8 L320.6,498.9 L320.7,498.9 L320.8,498.9 L320.9,499.0 L321.0,499.0 L321.1,499.0 L321.2,499.1 L321.3,499.1 L321.4,499.1 L321.5,499.2 L321.6,499.2 L321.7,499.2 L321.8,499.3 L321.9,499.3 L322.0,499.3 L322.1,499.3 L322.2,499.4 L322.3,499.4 L322.4,499.4 L322.5,499.4 L322.6,499.5 L322.7,499.5 L322.8,499.5 L322.9,499.5 L323.0,499.6 L323.1,499.6 L323.2,499.6 L323.3,499.6 L323.4,499.6 L323.5,499.7 L323.6,499.7 L323.7,499.7 L323.8,499.7 L323.9,499.7 L324.0,499.8 L324.1,499.8 L324.2,499.8 L324.3,499.8 L324.4,499.8 L324.5,499.8 L324.6,499.9 L324.7,499.9 L324.8,499.9 L324.9,499.9 L325.0,499.9 L325.1,499.9 L325.2,499.9 L325.3,500.0 L325.4,500.0 L325.5,500.0 L326.7,500.1 L328.0,500.2 L329.2,500.3 L330.5,500.4 L331.7,500.4 L333.0,500.5 L334.2,500.5 L335.5,500.5 L336.7,500.5 L338.0,500.6 L339.2,500.6 L340.5,500.6 L341.7,500.6 L343.0,500.6 L344.2,500.6 L345.5,500.6 L346.7,500.6 L348.0,500.6 L349.2,500.6 L350.4,500.6 L351.7,500.6 L352.9,500.6 L354.2,500.6 L355.4,500.6 L356.7,500.6 L357.9,500.6 L359.2,500.6 L360.4,500.6 L361.7,500.6 L362.9,500.6 L364.2,500.6 L365.4,500.6 L366.7,500.6 L367.9,500.6 L369.2,500.6 L370.4,500.6 L371.7,500.6 L372.9,500.6 L374.2,500.6 L375.4,500.6 L376.7,500.6 L377.9,500.6 L379.2,500.6 L380.4,500.6 L381.7,500.6 L382.9,500.6 L384.2,500.6 L385.4,500.6 L386.7,500.6 L387.9,500.6 L389.2,500.6 L390.4,500.6 L391.7,500.6 L392.9,500.6 L394.2,500.6 L395.4,500.6 L396.7,500.6 L397.9,500.6 L399.2,500.6 L400.4,500.6 L401.6,500.6 L402.9,500.6 L404.1,500.6 L405.4,500.6 L406.6,500.6 L407.9,500.6 L409.1,500.6 L410.4,500.6 L411.6,500.6 L412.9,500.6 L414.1,500.6 L415.4,500.6 L416.6,500.6 L417.9,500.6 L419.1,500.6 L420.4,500.6 L421.6,500.6 L422.9,500.6 L424.1,500.6 L425.4,500.6 L426.6,500.6 L427.9,500.6 L429.1,500.6 L430.4,500.6 L431.6,500.6 L432.9,500.6 L434.1,500.6 L435.4,500.6 L436.6,500.6 L437.9,500.6 L439.1,500.6 L440.4,500.6 L441.6,500.6 L442.9,500.6 L444.1,500.6 L445.4,500.6 L446.6,500.6 L447.9,500.6 L449.1,500.6 L450.4,500.6 L451.6,500.6 L452.8,500.6 L454.1,500.6 L455.3,500.6 L456.6,500.6 L457.8,500.6 L459.1,500.6 L460.3,500.6 L461.6,500.6 L462.8,500.6 L464.1,500.6 L465.3,500.6 L466.6,500.6 L467.8,500.6 L469.1,500.6 L470.3,500.6 L471.6,500.6 L472.8,500.6 L474.1,500.6 L475.3,500.6 L476.6,500.6 L477.8,500.6 L479.1,500.6 L480.3,500.6 L481.6,500.6 L482.8,500.6 L484.1,500.6 L485.3,500.6 L486.6,500.6 L487.8,500.6 L489.1,500.6 L490.3,500.6 L491.6,500.6 L492.8,500.6 L494.1,500.6 L495.3,500.6 L496.6,500.6 L497.8,500.6 L499.1,500.6 L500.3,500.6" fill="none" stroke="#d9899a" stroke-width="1.5" stroke-linejoin="round" stroke-linecap="butt"/>
<path d="M300.5,377.4 L300.6,381.2 L300.7,384.9 L300.8,388.5 L300.9,391.9 L301.0,395.3 L301.1,398.6 L301.2,401.7 L301.3,404.8 L301.4,407.7 L301.5,410.6 L301.6,413.4 L301.7,416.1 L301.8,418.7 L301.9,421.2 L302.0,423.7 L302.1,426.1 L302.2,428.4 L302.3,430.6 L302.4,432.8 L302.5,434.9 L302.6,436.9 L302.7,438.9 L302.8,440.8 L302.9,442.6 L303.0,444.4 L303.1,446.1 L303.2,447.8 L303.3,449.5 L303.4,451.0 L303.5,452.6 L303.6,454.1 L303.7,455.5 L303.8,456.9 L303.9,458.2 L304.0,459.5 L304.1,460.8 L304.2,462.0 L304.3,463.2 L304.4,464.4 L304.5,465.5 L304.6,466.6 L304.7,467.6 L304.8,468.7 L304.9,469.7 L305.0,470.6 L305.1,471.5 L305.2,472.4 L305.3,473.3 L305.4,474.2 L305.5,475.0 L305.6,475.8 L305.7,476.5 L305.8,477.3 L305.9,478.0 L306.0,478.7 L306.1,479.4 L306.2,480.0 L306.3,480.7 L306.4,481.3 L306.5,481.9 L306.6,482.5 L306.7,483.0 L306.8,483.6 L306.9,484.1 L307.0,484.6 L307.1,485.1 L307.2,485.6 L307.3,486.0 L307.4,486.5 L307.5,486.9 L307.6,487.3 L307.7,487.8 L307.8,488.2 L307.9,488.5 L308.0,488.9 L308.1,489.3 L308.2,489.6 L308.3,490.0 L308.4,490.3 L308.5,490.6 L308.6,490.9 L308.7,491.2 L308.8,491.5 L308.9,491.8 L309.0,492.1 L309.1,492.3 L309.2,492.6 L309.3,492.8 L309.4,493.1 L309.5,493.3 L309.6,493.5 L309.7,493.7 L309.8,494.0 L309.9,494.2 L310.0,494.4 L310.1,494.6 L310.2,494.7 L310.3,494.9 L310.4,495.1 L310.5,495.3 L310.6,495.4 L310.7,495.6 L310.8,495.7 L310.9,495.9 L311.0,496.0 L311.1,496.2 L311.2,496.3 L311.3,496.5 L311.4,496.6 L311.5,496.7 L311.6,496.8 L311.7,496.9 L311.8,497.1 L311.9,497.2 L312.0,497.3 L312.1,497.4 L312.2,497.5 L312.3,497.6 L312.4,497.7 L312.5,497.8 L312.6,497.8 L312.7,497.9 L312.8,498.0 L312.9,498.1 L313.0,498.2 L313.1,498.2 L313.2,498.3 L313.3,498.4 L313.4,498.5 L313.5,498.5 L313.6,498.6 L313.7,498.6 L313.8,498.7 L313.9,498.8 L314.0,498.8 L314.1,498.9 L314.2,498.9 L314.3,499.0 L314.4,499.0 L314.5,499.1 L314.6,499.1 L314.7,499.2 L314.8,499.2 L314.9,499.3 L315.0,499.3 L315.1,499.3 L315.2,499.4 L315.3,499.4 L315.4,499.5 L315.5,499.5 L315.6,499.5 L315.7,499.6 L315.8,499.6 L315.9,499.6 L316.0,499.7 L316.1,499.7 L316.2,499.7 L316.3,499.7 L316.4,499.8 L316.5,499.8 L316.6,499.8 L316.7,499.8 L316.8,499.9 L316.9,499.9 L317.0,499.9 L317.1,499.9 L317.2,499.9 L317.3,500.0 L317.4,500.0 L317.5,500.0 L317.6,500.0 L317.7,500.0 L317.8,500.1 L317.9,500.1 L318.0,500.1 L318.1,500.1 L318.2,500.1 L318.3,500.1 L318.4,500.2 L318.5,500.2 L318.6,500.2 L318.7,500.2 L318.8,500.2 L318.9,500.2 L319.0,500.2 L319.1,500.2 L319.2,500.3 L319.3,500.3 L319.4,500.3 L319.5,500.3 L319.6,500.3 L319.7,500.3 L319.8,500.3 L319.9,500.3 L320.0,500.3 L320.1,500.3 L320.2,500.3 L320.3,500.4 L320.4,500.4 L320.5,500.4 L320.6,500.4 L320.7,500.4 L320.8,500.4 L320.9,500.4 L321.0,500.4 L321.1,500.4 L321.2,500.4 L321.3,500.4 L321.4,500.4 L321.5,500.4 L321.6,500.4 L321.7,500.4 L321.8,500.4 L321.9,500.5 L322.0,500.5 L322.1,500.5 L322.2,500.5 L322.3,500.5 L322.4,500.5 L322.5,500.5 L322.6,500.5 L322.7,500.5 L322.8,500.5 L322.9,500.5 L323.0,500.5 L323.1,500.5 L323.2,500.5 L323.3,500.5 L323.4,500.5 L323.5,500.5 L323.6,500.5 L323.7,500.5 L323.8,500.5 L323.9,500.5 L324.0,500.5 L324.1,500.5 L324.2,500.5 L324.3,500.5 L324.4,500.5 L324.5,500.5 L324.6,500.5 L324.7,500.5 L324.8,500.5 L324.9,500.5 L325.0,500.5 L325.1,500.5 L325.2,500.5 L325.3,500.5 L325.4,500.6 L325.5,500.6 L326.7,500.6 L328.0,500.6 L329.2,500.6 L330.5,500.6 L331.7,500.6 L333.0,500.6 L334.2,500.6 L335.5,500.6 L336.7,500.6 L338.0,500.6 L339.2,500.6 L340.5,500.6 L341.7,500.6 L343.0,500.6 L344.2,500.6 L345.5,500.6 L346.7,500.6 L348.0,500.6 L349.2,500.6 L350.4,500.6 L351.7,500.6 L352.9,500.6 L354.2,500.6 L355.4,500.6 L356.7,500.6 L357.9,500.6 L359.2,500.6 L360.4,500.6 L361.7,500.6 L362.9,500.6 L364.2,500.6 L365.4,500.6 L366.7,500.6 L367.9,500.6 L369.2,500.6 L370.4,500.6 L371.7,500.6 L372.9,500.6 L374.2,500.6 L375.4,500.6 L376.7,500.6 L377.9,500.6 L379.2,500.6 L380.4,500.6 L381.7,500.6 L382.9,500.6 L384.2,500.6 L385.4,500.6 L386.7,500.6 L387.9,500.6 L389.2,500.6 L390.4,500.6 L391.7,500.6 L392.9,500.6 L394.2,500.6 L395.4,500.6 L396.7,500.6 L397.9,500.6 L399.2,500.6 L400.4,500.6 L401.6,500.6 L402.9,500.6 L404.1,500.6 L405.4,500.6 L406.6,500.6 L407.9,500.6 L409.1,500.6 L410.4,500.6 L411.6,500.6 L412.9,500.6 L414.1,500.6 L415.4,500.6 L416.6,500.6 L417.9,500.6 L419.1,500.6 L420.4,500.6 L421.6,500.6 L422.9,500.6 L424.1,500.6 L425.4,500.6 L426.6,500.6 L427.9,500.6 L429.1,500.6 L430.4,500.6 L431.6,500.6 L432.9,500.6 L434.1,500.6 L435.4,500.6 L436.6,500.6 L437.9,500.6 L439.1,500.6 L440.4,500.6 L441.6,500.6 L442.9,500.6 L444.1,500.6 L445.4,500.6 L446.6,500.6 L447.9,500.6 L449.1,500.6 L450.4,500.6 L451.6,500.6 L452.8,500.6 L454.1,500.6 L455.3,500.6 L456.6,500.6 L457.8,500.6 L459.1,500.6 L460.3,500.6 L461.6,500.6 L462.8,500.6 L464.1,500.6 L465.3,500.6 L466.6,500.6 L467.8,500.6 L469.1,500.6 L470.3,500.6 L471.6,500.6 L472.8,500.6 L474.1,500.6 L475.3,500.6 L476.6,500.6 L477.8,500.6 L479.1,500.6 L480.3,500.6 L481.6,500.6 L482.8,500.6 L484.1,500.6 L485.3,500.6 L486.6,500.6 L487.8,500.6 L489.1,500.6 L490.3,500.6 L491.6,500.6 L492.8,500.6 L494.1,500.6 L495.3,500.6 L496.6,500.6 L497.8,500.6 L499.1,500.6 L500.3,500.6" fill="none" stroke="#b8133a" stroke-width="1.5" stroke-linejoin="round" stroke-linecap="butt"/>
<path d="M300.5,377.4 L300.6,384.3 L300.7,390.9 L300.8,397.1 L300.9,402.9 L301.0,408.4 L301.1,413.6 L301.2,418.5 L301.3,423.1 L301.4,427.5 L301.5,431.6 L301.6,435.5 L301.7,439.2 L301.8,442.6 L301.9,445.9 L302.0,449.0 L302.1,451.9 L302.2,454.6 L302.3,457.2 L302.4,459.7 L302.5,462.0 L302.6,464.2 L302.7,466.2 L302.8,468.1 L302.9,470.0 L303.0,471.7 L303.1,473.3 L303.2,474.9 L303.3,476.3 L303.4,477.7 L303.5,479.0 L303.6,480.2 L303.7,481.3 L303.8,482.4 L303.9,483.5 L304.0,484.4 L304.1,485.3 L304.2,486.2 L304.3,487.0 L304.4,487.8 L304.5,488.5 L304.6,489.2 L304.7,489.8 L304.8,490.4 L304.9,491.0 L305.0,491.5 L305.1,492.1 L305.2,492.5 L305.3,493.0 L305.4,493.4 L305.5,493.8 L305.6,494.2 L305.7,494.6 L305.8,494.9 L305.9,495.2 L306.0,495.5 L306.1,495.8 L306.2,496.1 L306.3,496.3 L306.4,496.6 L306.5,496.8 L306.6,497.0 L306.7,497.2 L306.8,497.4 L306.9,497.6 L307.0,497.8 L307.1,497.9 L307.2,498.1 L307.3,498.2 L307.4,498.3 L307.5,498.5 L307.6,498.6 L307.7,498.7 L307.8,498.8 L307.9,498.9 L308.0,499.0 L308.1,499.1 L308.2,499.2 L308.3,499.3 L308.4,499.3 L308.5,499.4 L308.6,499.5 L308.7,499.5 L308.8,499.6 L308.9,499.7 L309.0,499.7 L309.1,499.8 L309.2,499.8 L309.3,499.9 L309.4,499.9 L309.5,499.9 L309.6,500.0 L309.7,500.0 L309.8,500.0 L309.9,500.1 L310.0,500.1 L310.1,500.1 L310.2,500.2 L310.3,500.2 L310.4,500.2 L310.5,500.2 L310.6,500.2 L310.7,500.3 L310.8,500.3 L310.9,500.3 L311.0,500.3 L311.1,500.3 L311.2,500.4 L311.3,500.4 L311.4,500.4 L311.5,500.4 L311.6,500.4 L311.7,500.4 L311.8,500.4 L311.9,500.4 L312.0,500.4 L312.1,500.5 L312.2,500.5 L312.3,500.5 L312.4,500.5 L312.5,500.5 L312.6,500.5 L312.7,500.5 L312.8,500.5 L312.9,500.5 L313.0,500.5 L313.1,500.5 L313.2,500.5 L313.3,500.5 L313.4,500.5 L313.5,500.5 L313.6,500.5 L313.7,500.5 L313.8,500.5 L313.9,500.5 L314.0,500.6 L314.1,500.6 L314.2,500.6 L314.3,500.6 L314.4,500.6 L314.5,500.6 L314.6,500.6 L314.7,500.6 L314.8,500.6 L314.9,500.6 L315.0,500.6 L315.1,500.6 L315.2,500.6 L315.3,500.6 L315.4,500.6 L315.5,500.6 L315.6,500.6 L315.7,500.6 L315.8,500.6 L315.9,500.6 L316.0,500.6 L316.1,500.6 L316.2,500.6 L316.3,500.6 L316.4,500.6 L316.5,500.6 L316.6,500.6 L316.7,500.6 L316.8,500.6 L316.9,500.6 L317.0,500.6 L317.1,500.6 L317.2,500.6 L317.3,500.6 L317.4,500.6 L317.5,500.6 L317.6,500.6 L317.7,500.6 L317.8,500.6 L317.9,500.6 L318.0,500.6 L318.1,500.6 L318.2,500.6 L318.3,500.6 L318.4,500.6 L318.5,500.6 L318.6,500.6 L318.7,500.6 L318.8,500.6 L318.9,500.6 L319.0,500.6 L319.1,500.6 L319.2,500.6 L319.3,500.6 L319.4,500.6 L319.5,500.6 L319.6,500.6 L319.7,500.6 L319.8,500.6 L319.9,500.6 L320.0,500.6 L320.1,500.6 L320.2,500.6 L320.3,500.6 L320.4,500.6 L320.5,500.6 L320.6,500.6 L320.7,500.6 L320.8,500.6 L320.9,500.6 L321.0,500.6 L321.1,500.6 L321.2,500.6 L321.3,500.6 L321.4,500.6 L321.5,500.6 L321.6,500.6 L321.7,500.6 L321.8,500.6 L321.9,500.6 L322.0,500.6 L322.1,500.6 L322.2,500.6 L322.3,500.6 L322.4,500.6 L322.5,500.6 L322.6,500.6 L322.7,500.6 L322.8,500.6 L322.9,500.6 L323.0,500.6 L323.1,500.6 L323.2,500.6 L323.3,500.6 L323.4,500.6 L323.5,500.6 L323.6,500.6 L323.7,500.6 L323.8,500.6 L323.9,500.6 L324.0,500.6 L324.1,500.6 L324.2,500.6 L324.3,500.6 L324.4,500.6 L324.5,500.6 L324.6,500.6 L324.7,500.6 L324.8,500.6 L324.9,500.6 L325.0,500.6 L325.1,500.6 L325.2,500.6 L325.3,500.6 L325.4,500.6 L325.5,500.6 L326.7,500.6 L328.0,500.6 L329.2,500.6 L330.5,500.6 L331.7,500.6 L333.0,500.6 L334.2,500.6 L335.5,500.6 L336.7,500.6 L338.0,500.6 L339.2,500.6 L340.5,500.6 L341.7,500.6 L343.0,500.6 L344.2,500.6 L345.5,500.6 L346.7,500.6 L348.0,500.6 L349.2,500.6 L350.4,500.6 L351.7,500.6 L352.9,500.6 L354.2,500.6 L355.4,500.6 L356.7,500.6 L357.9,500.6 L359.2,500.6 L360.4,500.6 L361.7,500.6 L362.9,500.6 L364.2,500.6 L365.4,500.6 L366.7,500.6 L367.9,500.6 L369.2,500.6 L370.4,500.6 L371.7,500.6 L372.9,500.6 L374.2,500.6 L375.4,500.6 L376.7,500.6 L377.9,500.6 L379.2,500.6 L380.4,500.6 L381.7,500.6 L382.9,500.6 L384.2,500.6 L385.4,500.6 L386.7,500.6 L387.9,500.6 L389.2,500.6 L390.4,500.6 L391.7,500.6 L392.9,500.6 L394.2,500.6 L395.4,500.6 L396.7,500.6 L397.9,500.6 L399.2,500.6 L400.4,500.6 L401.6,500.6 L402.9,500.6 L404.1,500.6 L405.4,500.6 L406.6,500.6 L407.9,500.6 L409.1,500.6 L410.4,500.6 L411.6,500.6 L412.9,500.6 L414.1,500.6 L415.4,500.6 L416.6,500.6 L417.9,500.6 L419.1,500.6 L420.4,500.6 L421.6,500.6 L422.9,500.6 L424.1,500.6 L425.4,500.6 L426.6,500.6 L427.9,500.6 L429.1,500.6 L430.4,500.6 L431.6,500.6 L432.9,500.6 L434.1,500.6 L435.4,500.6 L436.6,500.6 L437.9,500.6 L439.1,500.6 L440.4,500.6 L441.6,500.6 L442.9,500.6 L444.1,500.6 L445.4,500.6 L446.6,500.6 L447.9,500.6 L449.1,500.6 L450.4,500.6 L451.6,500.6 L452.8,500.6 L454.1,500.6 L455.3,500.6 L456.6,500.6 L457.8,500.6 L459.1,500.6 L460.3,500.6 L461.6,500.6 L462.8,500.6 L464.1,500.6 L465.3,500.6 L466.6,500.6 L467.8,500.6 L469.1,500.6 L470.3,500.6 L471.6,500.6 L472.8,500.6 L474.1,500.6 L475.3,500.6 L476.6,500.6 L477.8,500.6 L479.1,500.6 L480.3,500.6 L481.6,500.6 L482.8,500.6 L484.1,500.6 L485.3,500.6 L486.6,500.6 L487.8,500.6 L489.1,500.6 L490.3,500.6 L491.6,500.6 L492.8,500.6 L494.1,500.6 L495.3,500.6 L496.6,500.6 L497.8,500.6 L499.1,500.6 L500.3,500.6" fill="none" stroke="#4e2c12" stroke-width="1.5" stroke-linejoin="round" stroke-linecap="butt"/>
<line x1="429.3" y1="380.70" x2="448.8" y2="380.70" stroke="#3c4349" stroke-width="1.7"/>
<text x="454.0" y="385.00" class="lg">no AT</text>
<line x1="429.3" y1="394.80" x2="448.8" y2="394.80" stroke="#0f4272" stroke-width="1.7"/>
<text x="454.0" y="399.10" class="lg">AT 3%</text>
<line x1="429.3" y1="408.90" x2="448.8" y2="408.90" stroke="#8ccde3" stroke-width="1.7"/>
<text x="454.0" y="413.20" class="lg">AT 9%</text>
<line x1="429.3" y1="423.00" x2="448.8" y2="423.00" stroke="#d9899a" stroke-width="1.7"/>
<text x="454.0" y="427.30" class="lg">AT 15%</text>
<line x1="429.3" y1="437.10" x2="448.8" y2="437.10" stroke="#b8133a" stroke-width="1.7"/>
<text x="454.0" y="441.40" class="lg">AT 30%</text>
<line x1="429.3" y1="451.20" x2="448.8" y2="451.20" stroke="#4e2c12" stroke-width="1.7"/>
<text x="454.0" y="455.50" class="lg">AT 100%</text>
<text x="10.2" y="20.5" class="pl">A</text>
<text x="10.6" y="197.6" class="pl">B</text>
<text x="10.6" y="367.2" class="pl">C</text>
<text x="166.2" y="20.8" text-anchor="middle" class="ttl">AT</text>
<text x="400.6" y="20.8" text-anchor="middle" class="ttl">AT + A1PI + HCII + A2M</text>
<text transform="translate(21.1,99.5) rotate(-90) scale(0.71,1)" text-anchor="middle" class="yl">Substrate cleavage</text>
<text transform="translate(21.1,268.0) rotate(-90) scale(0.71,1)" text-anchor="middle" class="yl">Modeled cleavage</text>
<text transform="translate(21.1,436.5) rotate(-90) scale(0.71,1)" text-anchor="middle" class="yl">Modeled free IIa</text>
<text transform="translate(282.2,546.9) scale(0.725,1)" text-anchor="middle" class="yl">Time (minutes)</text>
<rect x="0.5" y="0.5" width="519" height="559" fill="none" stroke="#1c1c1c" stroke-width="1.15"/>
</svg></body></html>
